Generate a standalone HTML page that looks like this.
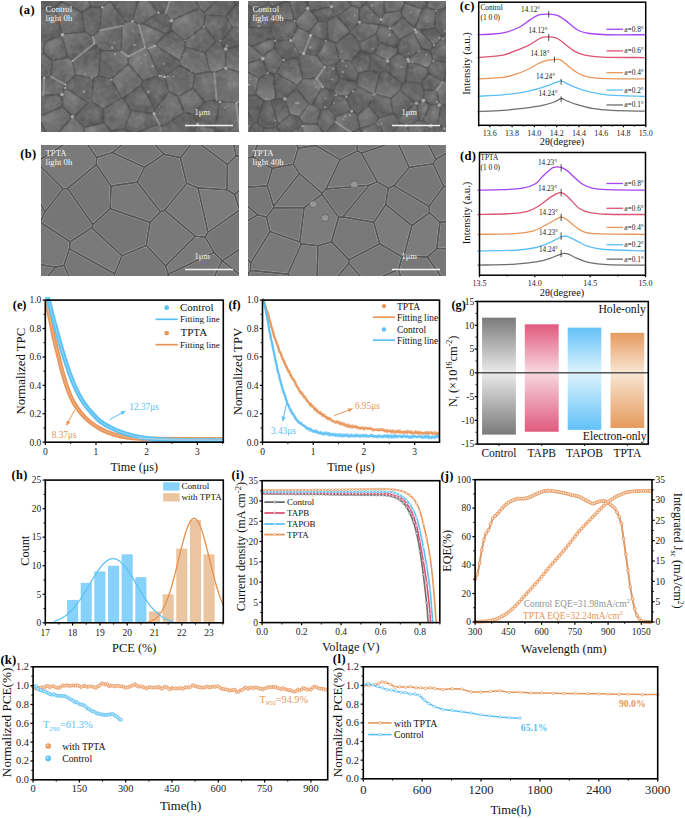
<!DOCTYPE html>
<html><head><meta charset="utf-8"><style>
html,body{margin:0;padding:0;background:#fff;width:685px;height:818px;overflow:hidden}
svg{display:block;font-family:"Liberation Serif", serif}
</style></head><body>
<svg width="685" height="818" viewBox="0 0 685 818">
<defs><filter id="semblura" x="-5%" y="-5%" width="110%" height="110%"><feGaussianBlur stdDeviation="0.75"/></filter>
<filter id="semblurb" x="-5%" y="-5%" width="110%" height="110%"><feGaussianBlur stdDeviation="0.5"/></filter>
<filter id="noise" x="0" y="0" width="100%" height="100%"><feTurbulence type="fractalNoise" baseFrequency="0.18" numOctaves="2" seed="4"/><feColorMatrix type="saturate" values="0"/></filter>
<radialGradient id="sg4" cx="0.35" cy="0.35" r="0.75"><stop offset="0" stop-color="#fff" stop-opacity="0.16"/><stop offset="0.6" stop-color="#fff" stop-opacity="0.02"/><stop offset="1" stop-color="#000" stop-opacity="0.16"/></radialGradient>
<radialGradient id="sg5" cx="0.6" cy="0.4" r="0.75"><stop offset="0" stop-color="#fff" stop-opacity="0.14"/><stop offset="0.6" stop-color="#fff" stop-opacity="0.0"/><stop offset="1" stop-color="#000" stop-opacity="0.16"/></radialGradient>
<linearGradient id="sg0" x1="0" y1="0" x2="1" y2="1"><stop offset="0" stop-color="#fff" stop-opacity="0.2"/><stop offset="0.6" stop-color="#fff" stop-opacity="0"/><stop offset="1" stop-color="#000" stop-opacity="0.1"/></linearGradient>
<linearGradient id="sg1" x1="1" y1="0" x2="0" y2="1"><stop offset="0" stop-color="#fff" stop-opacity="0.2"/><stop offset="0.6" stop-color="#fff" stop-opacity="0"/><stop offset="1" stop-color="#000" stop-opacity="0.1"/></linearGradient>
<linearGradient id="sg2" x1="0" y1="1" x2="1" y2="0"><stop offset="0" stop-color="#fff" stop-opacity="0.12"/><stop offset="0.6" stop-color="#fff" stop-opacity="0"/><stop offset="1" stop-color="#000" stop-opacity="0.1"/></linearGradient>
<linearGradient id="sg3" x1="0" y1="0" x2="0" y2="1"><stop offset="0" stop-color="#000" stop-opacity="0.1"/><stop offset="1" stop-color="#fff" stop-opacity="0.2"/></linearGradient>
<clipPath id="c11"><rect x="41" y="1" width="198" height="131"/></clipPath>
<clipPath id="c12"><rect x="248" y="1" width="198" height="131"/></clipPath>
<clipPath id="c13"><rect x="41" y="145" width="198" height="131"/></clipPath>
<clipPath id="c14"><rect x="248" y="145" width="198" height="131"/></clipPath>
<clipPath id="clipE"><rect x="45.3" y="297" width="178" height="146"/></clipPath>
<clipPath id="clipF"><rect x="262.5" y="297" width="177" height="146"/></clipPath>
<linearGradient id="gb0" gradientUnits="userSpaceOnUse" x1="0" y1="317.66" x2="0" y2="434.59"><stop offset="0" stop-color="#7a7a7a"/><stop offset="0.45" stop-color="#e6e6e6"/><stop offset="0.49" stop-color="#e6e6e6"/><stop offset="1" stop-color="#7a7a7a"/></linearGradient>
<linearGradient id="gb1" gradientUnits="userSpaceOnUse" x1="0" y1="324.32" x2="0" y2="431.74"><stop offset="0" stop-color="#e05a7e"/><stop offset="0.43" stop-color="#f7d3dd"/><stop offset="0.47" stop-color="#f7d3dd"/><stop offset="1" stop-color="#e05a7e"/></linearGradient>
<linearGradient id="gb2" gradientUnits="userSpaceOnUse" x1="0" y1="327.64" x2="0" y2="429.84"><stop offset="0" stop-color="#62c1f7"/><stop offset="0.42" stop-color="#d9f1fd"/><stop offset="0.46" stop-color="#d9f1fd"/><stop offset="1" stop-color="#62c1f7"/></linearGradient>
<linearGradient id="gb3" gradientUnits="userSpaceOnUse" x1="0" y1="332.87" x2="0" y2="427.94"><stop offset="0" stop-color="#e59a5e"/><stop offset="0.4" stop-color="#f8e3cf"/><stop offset="0.44" stop-color="#f8e3cf"/><stop offset="1" stop-color="#e59a5e"/></linearGradient>
<clipPath id="clipH"><rect x="45.3" y="480.1" width="178" height="142.7"/></clipPath></defs>
<g clip-path="url(#c11)"><g filter="url(#semblura)">
<rect x="35" y="-5" width="210" height="143" fill="rgb(89,89,89)"/>
<path d="M43.21,-65.23 L23.21,-23.46 L34.87,-10.24 L52.42,-21.08Z" fill="rgb(80,80,80)" stroke="rgb(70,70,70)" stroke-width="1.8" stroke-opacity="0.8" stroke-linejoin="round"/>
<path d="M43.21,-65.23 L23.21,-23.46 L34.87,-10.24 L52.42,-21.08Z" fill="url(#sg3)" stroke="none"/>
<path d="M141.22,-7.47 L144.09,-13.16 L109.58,-58.68 L103.54,-23.44 L111.79,-5.04 L140.01,-6.54Z" fill="rgb(91,91,91)" stroke="rgb(70,70,70)" stroke-width="1.8" stroke-opacity="0.8" stroke-linejoin="round"/>
<path d="M141.22,-7.47 L144.09,-13.16 L109.58,-58.68 L103.54,-23.44 L111.79,-5.04 L140.01,-6.54Z" fill="url(#sg4)" stroke="none"/>
<path d="M168.76,-40.13 L185.14,-6.5 L171.17,-3.36 L156.47,-17.89Z" fill="rgb(92,92,92)" stroke="rgb(70,70,70)" stroke-width="1.8" stroke-opacity="0.8" stroke-linejoin="round"/>
<path d="M168.76,-40.13 L185.14,-6.5 L171.17,-3.36 L156.47,-17.89Z" fill="url(#sg3)" stroke="none"/>
<path d="M168.76,-40.13 L175.97,-65.13 L200.19,-16.01 L194.47,-5.07 L185.14,-6.5Z" fill="rgb(87,87,87)" stroke="rgb(70,70,70)" stroke-width="1.8" stroke-opacity="0.8" stroke-linejoin="round"/>
<path d="M168.76,-40.13 L175.97,-65.13 L200.19,-16.01 L194.47,-5.07 L185.14,-6.5Z" fill="url(#sg5)" stroke="none"/>
<path d="M28.95,15.61 L-0.61,-9.91 L23.21,-23.46 L34.87,-10.24 L39.54,8.81Z" fill="rgb(90,90,90)" stroke="rgb(70,70,70)" stroke-width="1.8" stroke-opacity="0.8" stroke-linejoin="round"/>
<path d="M28.95,15.61 L-0.61,-9.91 L23.21,-23.46 L34.87,-10.24 L39.54,8.81Z" fill="url(#sg1)" stroke="none"/>
<path d="M61.91,2.24 L63.91,-4.72 L52.42,-21.08 L34.87,-10.24 L39.54,8.81 L54.93,8.12Z" fill="rgb(81,81,81)" stroke="rgb(70,70,70)" stroke-width="1.8" stroke-opacity="0.8" stroke-linejoin="round"/>
<path d="M61.91,2.24 L63.91,-4.72 L52.42,-21.08 L34.87,-10.24 L39.54,8.81 L54.93,8.12Z" fill="url(#sg4)" stroke="none"/>
<path d="M61.91,2.24 L63.91,-4.72 L72.51,-11.36 L86.06,-12.59 L90.42,6.83 L81.54,12.38Z" fill="rgb(95,95,95)" stroke="rgb(70,70,70)" stroke-width="1.8" stroke-opacity="0.8" stroke-linejoin="round"/>
<path d="M61.91,2.24 L63.91,-4.72 L72.51,-11.36 L86.06,-12.59 L90.42,6.83 L81.54,12.38Z" fill="url(#sg1)" stroke="none"/>
<path d="M110.2,1.61 L111.79,-5.04 L103.54,-23.44 L86.06,-12.59 L90.42,6.83 L102.26,7.28Z" fill="rgb(91,91,91)" stroke="rgb(70,70,70)" stroke-width="1.8" stroke-opacity="0.8" stroke-linejoin="round"/>
<path d="M110.2,1.61 L111.79,-5.04 L103.54,-23.44 L86.06,-12.59 L90.42,6.83 L102.26,7.28Z" fill="url(#sg0)" stroke="none"/>
<path d="M125.67,22.14 L110.2,1.61 L111.79,-5.04 L140.01,-6.54 L132.5,21.23Z" fill="rgb(83,83,83)" stroke="rgb(70,70,70)" stroke-width="1.8" stroke-opacity="0.8" stroke-linejoin="round"/>
<path d="M125.67,22.14 L110.2,1.61 L111.79,-5.04 L140.01,-6.54 L132.5,21.23Z" fill="url(#sg5)" stroke="none"/>
<path d="M156.47,-17.89 L144.09,-13.16 L141.22,-7.47 L158.44,12.66 L165.55,13.26 L171.17,-3.36Z" fill="rgb(81,81,81)" stroke="rgb(70,70,70)" stroke-width="1.8" stroke-opacity="0.8" stroke-linejoin="round"/>
<path d="M156.47,-17.89 L144.09,-13.16 L141.22,-7.47 L158.44,12.66 L165.55,13.26 L171.17,-3.36Z" fill="url(#sg4)" stroke="none"/>
<path d="M185.14,-6.5 L194.47,-5.07 L199.51,8.35 L171.19,20.68 L165.55,13.26 L171.17,-3.36Z" fill="rgb(93,93,93)" stroke="rgb(70,70,70)" stroke-width="1.8" stroke-opacity="0.8" stroke-linejoin="round"/>
<path d="M185.14,-6.5 L194.47,-5.07 L199.51,8.35 L171.19,20.68 L165.55,13.26 L171.17,-3.36Z" fill="url(#sg2)" stroke="none"/>
<path d="M229.2,-14.96 L221.28,-22.23 L200.19,-16.01 L194.47,-5.07 L199.51,8.35 L204.33,12.76 L229.14,-11.25Z" fill="rgb(89,89,89)" stroke="rgb(70,70,70)" stroke-width="1.8" stroke-opacity="0.8" stroke-linejoin="round"/>
<path d="M229.2,-14.96 L221.28,-22.23 L200.19,-16.01 L194.47,-5.07 L199.51,8.35 L204.33,12.76 L229.14,-11.25Z" fill="url(#sg2)" stroke="none"/>
<path d="M229.14,-11.25 L235.73,4.24 L225.93,16.62 L205.47,14.87 L204.33,12.76Z" fill="rgb(82,82,82)" stroke="rgb(70,70,70)" stroke-width="1.8" stroke-opacity="0.8" stroke-linejoin="round"/>
<path d="M229.14,-11.25 L235.73,4.24 L225.93,16.62 L205.47,14.87 L204.33,12.76Z" fill="url(#sg2)" stroke="none"/>
<path d="M229.2,-14.96 L253.21,-21.58 L256.58,-14.1 L257.48,9.7 L235.73,4.24 L229.14,-11.25Z" fill="rgb(87,87,87)" stroke="rgb(70,70,70)" stroke-width="1.8" stroke-opacity="0.8" stroke-linejoin="round"/>
<path d="M229.2,-14.96 L253.21,-21.58 L256.58,-14.1 L257.48,9.7 L235.73,4.24 L229.14,-11.25Z" fill="url(#sg1)" stroke="none"/>
<path d="M62.6,34.76 L54.93,8.12 L39.54,8.81 L28.95,15.61 L25.31,26.93 L44.97,42.24 L62.4,35.07Z" fill="rgb(84,84,84)" stroke="rgb(70,70,70)" stroke-width="1.8" stroke-opacity="0.8" stroke-linejoin="round"/>
<path d="M62.6,34.76 L54.93,8.12 L39.54,8.81 L28.95,15.61 L25.31,26.93 L44.97,42.24 L62.4,35.07Z" fill="url(#sg5)" stroke="none"/>
<path d="M62.6,34.76 L54.93,8.12 L61.91,2.24 L81.54,12.38 L85.46,32.19Z" fill="rgb(93,93,93)" stroke="rgb(70,70,70)" stroke-width="1.8" stroke-opacity="0.8" stroke-linejoin="round"/>
<path d="M62.6,34.76 L54.93,8.12 L61.91,2.24 L81.54,12.38 L85.46,32.19Z" fill="url(#sg4)" stroke="none"/>
<path d="M85.46,32.19 L81.54,12.38 L90.42,6.83 L102.26,7.28 L99.95,30.16 L92.8,36.75Z" fill="rgb(88,88,88)" stroke="rgb(70,70,70)" stroke-width="1.8" stroke-opacity="0.8" stroke-linejoin="round"/>
<path d="M85.46,32.19 L81.54,12.38 L90.42,6.83 L102.26,7.28 L99.95,30.16 L92.8,36.75Z" fill="url(#sg2)" stroke="none"/>
<path d="M122.35,25.71 L99.95,30.16 L102.26,7.28 L110.2,1.61 L125.67,22.14Z" fill="rgb(86,86,86)" stroke="rgb(70,70,70)" stroke-width="1.8" stroke-opacity="0.8" stroke-linejoin="round"/>
<path d="M122.35,25.71 L99.95,30.16 L102.26,7.28 L110.2,1.61 L125.67,22.14Z" fill="url(#sg0)" stroke="none"/>
<path d="M138.75,24.58 L142.54,23.41 L158.44,12.66 L141.22,-7.47 L140.01,-6.54 L132.5,21.23Z" fill="rgb(97,97,97)" stroke="rgb(70,70,70)" stroke-width="1.8" stroke-opacity="0.8" stroke-linejoin="round"/>
<path d="M138.75,24.58 L142.54,23.41 L158.44,12.66 L141.22,-7.47 L140.01,-6.54 L132.5,21.23Z" fill="url(#sg5)" stroke="none"/>
<path d="M171.19,20.68 L165.55,13.26 L158.44,12.66 L142.54,23.41 L165.68,33.91 L171.65,30.45Z" fill="rgb(87,87,87)" stroke="rgb(70,70,70)" stroke-width="1.8" stroke-opacity="0.8" stroke-linejoin="round"/>
<path d="M171.19,20.68 L165.55,13.26 L158.44,12.66 L142.54,23.41 L165.68,33.91 L171.65,30.45Z" fill="url(#sg2)" stroke="none"/>
<path d="M185.12,41.23 L171.65,30.45 L171.19,20.68 L199.51,8.35 L204.33,12.76 L205.47,14.87 L203.8,26.63Z" fill="rgb(95,95,95)" stroke="rgb(70,70,70)" stroke-width="1.8" stroke-opacity="0.8" stroke-linejoin="round"/>
<path d="M185.12,41.23 L171.65,30.45 L171.19,20.68 L199.51,8.35 L204.33,12.76 L205.47,14.87 L203.8,26.63Z" fill="url(#sg4)" stroke="none"/>
<path d="M215.67,40.99 L220.26,42.1 L233.1,27.31 L225.93,16.62 L205.47,14.87 L203.8,26.63Z" fill="rgb(80,80,80)" stroke="rgb(70,70,70)" stroke-width="1.8" stroke-opacity="0.8" stroke-linejoin="round"/>
<path d="M215.67,40.99 L220.26,42.1 L233.1,27.31 L225.93,16.62 L205.47,14.87 L203.8,26.63Z" fill="url(#sg4)" stroke="none"/>
<path d="M257.48,9.7 L235.73,4.24 L225.93,16.62 L233.1,27.31 L239.66,28.84 L256.47,17.67 L258.23,10.72Z" fill="rgb(85,85,85)" stroke="rgb(70,70,70)" stroke-width="1.8" stroke-opacity="0.8" stroke-linejoin="round"/>
<path d="M257.48,9.7 L235.73,4.24 L225.93,16.62 L233.1,27.31 L239.66,28.84 L256.47,17.67 L258.23,10.72Z" fill="url(#sg3)" stroke="none"/>
<path d="M43.53,53.84 L44.97,42.24 L25.31,26.93 L-0.8,46.67 L31.32,61.67Z" fill="rgb(95,95,95)" stroke="rgb(70,70,70)" stroke-width="1.8" stroke-opacity="0.8" stroke-linejoin="round"/>
<path d="M43.53,53.84 L44.97,42.24 L25.31,26.93 L-0.8,46.67 L31.32,61.67Z" fill="url(#sg3)" stroke="none"/>
<path d="M43.53,53.84 L44.97,42.24 L62.4,35.07 L68.1,58 L52.53,60.69Z" fill="rgb(91,91,91)" stroke="rgb(70,70,70)" stroke-width="1.8" stroke-opacity="0.8" stroke-linejoin="round"/>
<path d="M43.53,53.84 L44.97,42.24 L62.4,35.07 L68.1,58 L52.53,60.69Z" fill="url(#sg4)" stroke="none"/>
<path d="M72.52,61.06 L94.29,43.42 L92.8,36.75 L85.46,32.19 L62.6,34.76 L62.4,35.07 L68.1,58Z" fill="rgb(87,87,87)" stroke="rgb(70,70,70)" stroke-width="1.8" stroke-opacity="0.8" stroke-linejoin="round"/>
<path d="M72.52,61.06 L94.29,43.42 L92.8,36.75 L85.46,32.19 L62.6,34.76 L62.4,35.07 L68.1,58Z" fill="url(#sg0)" stroke="none"/>
<path d="M94.29,43.42 L101.22,50.78 L121.41,51.35 L122.35,25.71 L99.95,30.16 L92.8,36.75Z" fill="rgb(91,91,91)" stroke="rgb(70,70,70)" stroke-width="1.8" stroke-opacity="0.8" stroke-linejoin="round"/>
<path d="M94.29,43.42 L101.22,50.78 L121.41,51.35 L122.35,25.71 L99.95,30.16 L92.8,36.75Z" fill="url(#sg0)" stroke="none"/>
<path d="M121.41,51.35 L122.35,25.71 L125.67,22.14 L132.5,21.23 L138.75,24.58 L145.18,47.59 L128.3,56.3Z" fill="rgb(90,90,90)" stroke="rgb(70,70,70)" stroke-width="1.8" stroke-opacity="0.8" stroke-linejoin="round"/>
<path d="M121.41,51.35 L122.35,25.71 L125.67,22.14 L132.5,21.23 L138.75,24.58 L145.18,47.59 L128.3,56.3Z" fill="url(#sg0)" stroke="none"/>
<path d="M145.18,47.59 L147.99,48.32 L154.92,45.67 L165.68,33.91 L142.54,23.41 L138.75,24.58Z" fill="rgb(95,95,95)" stroke="rgb(70,70,70)" stroke-width="1.8" stroke-opacity="0.8" stroke-linejoin="round"/>
<path d="M145.18,47.59 L147.99,48.32 L154.92,45.67 L165.68,33.91 L142.54,23.41 L138.75,24.58Z" fill="url(#sg4)" stroke="none"/>
<path d="M185.12,41.23 L171.65,30.45 L165.68,33.91 L154.92,45.67 L180.08,60.76 L185.62,47.15Z" fill="rgb(95,95,95)" stroke="rgb(70,70,70)" stroke-width="1.8" stroke-opacity="0.8" stroke-linejoin="round"/>
<path d="M185.12,41.23 L171.65,30.45 L165.68,33.91 L154.92,45.67 L180.08,60.76 L185.62,47.15Z" fill="url(#sg3)" stroke="none"/>
<path d="M185.12,41.23 L203.8,26.63 L215.67,40.99 L205.44,52.77 L185.62,47.15Z" fill="rgb(91,91,91)" stroke="rgb(70,70,70)" stroke-width="1.8" stroke-opacity="0.8" stroke-linejoin="round"/>
<path d="M185.12,41.23 L203.8,26.63 L215.67,40.99 L205.44,52.77 L185.62,47.15Z" fill="url(#sg0)" stroke="none"/>
<path d="M220.26,42.1 L233.1,27.31 L239.66,28.84 L244.55,44.84 L225.73,49.02Z" fill="rgb(81,81,81)" stroke="rgb(70,70,70)" stroke-width="1.8" stroke-opacity="0.8" stroke-linejoin="round"/>
<path d="M220.26,42.1 L233.1,27.31 L239.66,28.84 L244.55,44.84 L225.73,49.02Z" fill="url(#sg1)" stroke="none"/>
<path d="M256.47,17.67 L267.12,42.68 L265,47.85 L254.4,51.69 L244.55,44.84 L239.66,28.84Z" fill="rgb(86,86,86)" stroke="rgb(70,70,70)" stroke-width="1.8" stroke-opacity="0.8" stroke-linejoin="round"/>
<path d="M256.47,17.67 L267.12,42.68 L265,47.85 L254.4,51.69 L244.55,44.84 L239.66,28.84Z" fill="url(#sg1)" stroke="none"/>
<path d="M33.5,75.08 L31.32,61.67 L-0.8,46.67 L-106.29,73.03 L21.72,87.59Z" fill="rgb(94,94,94)" stroke="rgb(70,70,70)" stroke-width="1.8" stroke-opacity="0.8" stroke-linejoin="round"/>
<path d="M33.5,75.08 L31.32,61.67 L-0.8,46.67 L-106.29,73.03 L21.72,87.59Z" fill="url(#sg5)" stroke="none"/>
<path d="M44.18,78.06 L50.98,76.58 L52.53,60.69 L43.53,53.84 L31.32,61.67 L33.5,75.08Z" fill="rgb(91,91,91)" stroke="rgb(70,70,70)" stroke-width="1.8" stroke-opacity="0.8" stroke-linejoin="round"/>
<path d="M44.18,78.06 L50.98,76.58 L52.53,60.69 L43.53,53.84 L31.32,61.67 L33.5,75.08Z" fill="url(#sg0)" stroke="none"/>
<path d="M52.53,60.69 L68.1,58 L72.52,61.06 L75.94,74.86 L65.47,84.71 L50.98,76.58Z" fill="rgb(93,93,93)" stroke="rgb(70,70,70)" stroke-width="1.8" stroke-opacity="0.8" stroke-linejoin="round"/>
<path d="M52.53,60.69 L68.1,58 L72.52,61.06 L75.94,74.86 L65.47,84.71 L50.98,76.58Z" fill="url(#sg1)" stroke="none"/>
<path d="M72.52,61.06 L75.94,74.86 L93.77,78.64 L98.4,76.2 L101.22,50.78 L94.29,43.42Z" fill="rgb(86,86,86)" stroke="rgb(70,70,70)" stroke-width="1.8" stroke-opacity="0.8" stroke-linejoin="round"/>
<path d="M72.52,61.06 L75.94,74.86 L93.77,78.64 L98.4,76.2 L101.22,50.78 L94.29,43.42Z" fill="url(#sg3)" stroke="none"/>
<path d="M121.41,51.35 L101.22,50.78 L98.4,76.2 L111.36,79.78 L128.27,64.26 L128.3,56.3Z" fill="rgb(88,88,88)" stroke="rgb(70,70,70)" stroke-width="1.8" stroke-opacity="0.8" stroke-linejoin="round"/>
<path d="M121.41,51.35 L101.22,50.78 L98.4,76.2 L111.36,79.78 L128.27,64.26 L128.3,56.3Z" fill="url(#sg1)" stroke="none"/>
<path d="M128.3,56.3 L128.27,64.26 L143.21,81.05 L159.5,75.68 L147.99,48.32 L145.18,47.59Z" fill="rgb(97,97,97)" stroke="rgb(70,70,70)" stroke-width="1.8" stroke-opacity="0.8" stroke-linejoin="round"/>
<path d="M128.3,56.3 L128.27,64.26 L143.21,81.05 L159.5,75.68 L147.99,48.32 L145.18,47.59Z" fill="url(#sg4)" stroke="none"/>
<path d="M179.85,65.39 L180.08,60.76 L154.92,45.67 L147.99,48.32 L159.5,75.68 L164.79,76.88Z" fill="rgb(83,83,83)" stroke="rgb(70,70,70)" stroke-width="1.8" stroke-opacity="0.8" stroke-linejoin="round"/>
<path d="M179.85,65.39 L180.08,60.76 L154.92,45.67 L147.99,48.32 L159.5,75.68 L164.79,76.88Z" fill="url(#sg0)" stroke="none"/>
<path d="M195.23,74.37 L210.51,71.63 L205.44,52.77 L185.62,47.15 L180.08,60.76 L179.85,65.39Z" fill="rgb(97,97,97)" stroke="rgb(70,70,70)" stroke-width="1.8" stroke-opacity="0.8" stroke-linejoin="round"/>
<path d="M195.23,74.37 L210.51,71.63 L205.44,52.77 L185.62,47.15 L180.08,60.76 L179.85,65.39Z" fill="url(#sg2)" stroke="none"/>
<path d="M205.44,52.77 L210.51,71.63 L214.22,72.88 L225.84,68.18 L225.73,49.02 L220.26,42.1 L215.67,40.99Z" fill="rgb(95,95,95)" stroke="rgb(70,70,70)" stroke-width="1.8" stroke-opacity="0.8" stroke-linejoin="round"/>
<path d="M205.44,52.77 L210.51,71.63 L214.22,72.88 L225.84,68.18 L225.73,49.02 L220.26,42.1 L215.67,40.99Z" fill="url(#sg3)" stroke="none"/>
<path d="M225.84,68.18 L243.41,73.43 L254.4,51.69 L244.55,44.84 L225.73,49.02Z" fill="rgb(94,94,94)" stroke="rgb(70,70,70)" stroke-width="1.8" stroke-opacity="0.8" stroke-linejoin="round"/>
<path d="M225.84,68.18 L243.41,73.43 L254.4,51.69 L244.55,44.84 L225.73,49.02Z" fill="url(#sg3)" stroke="none"/>
<path d="M270.76,80.42 L278.06,62.82 L265,47.85 L254.4,51.69 L243.41,73.43 L247.36,81.01Z" fill="rgb(89,89,89)" stroke="rgb(70,70,70)" stroke-width="1.8" stroke-opacity="0.8" stroke-linejoin="round"/>
<path d="M270.76,80.42 L278.06,62.82 L265,47.85 L254.4,51.69 L243.41,73.43 L247.36,81.01Z" fill="url(#sg1)" stroke="none"/>
<path d="M44.18,78.06 L43.03,95.73 L33.41,102.82 L21.72,87.59 L33.5,75.08Z" fill="rgb(90,90,90)" stroke="rgb(70,70,70)" stroke-width="1.8" stroke-opacity="0.8" stroke-linejoin="round"/>
<path d="M44.18,78.06 L43.03,95.73 L33.41,102.82 L21.72,87.59 L33.5,75.08Z" fill="url(#sg0)" stroke="none"/>
<path d="M44.18,78.06 L50.98,76.58 L65.47,84.71 L65.12,87.86 L61.89,94.45 L43.03,95.73Z" fill="rgb(93,93,93)" stroke="rgb(70,70,70)" stroke-width="1.8" stroke-opacity="0.8" stroke-linejoin="round"/>
<path d="M44.18,78.06 L50.98,76.58 L65.47,84.71 L65.12,87.86 L61.89,94.45 L43.03,95.73Z" fill="url(#sg2)" stroke="none"/>
<path d="M65.47,84.71 L75.94,74.86 L93.77,78.64 L91.97,101.64 L88.24,102.88 L65.12,87.86Z" fill="rgb(89,89,89)" stroke="rgb(70,70,70)" stroke-width="1.8" stroke-opacity="0.8" stroke-linejoin="round"/>
<path d="M65.47,84.71 L75.94,74.86 L93.77,78.64 L91.97,101.64 L88.24,102.88 L65.12,87.86Z" fill="url(#sg2)" stroke="none"/>
<path d="M98.4,76.2 L111.36,79.78 L121.86,97.79 L103.53,109.19 L91.97,101.64 L93.77,78.64Z" fill="rgb(90,90,90)" stroke="rgb(70,70,70)" stroke-width="1.8" stroke-opacity="0.8" stroke-linejoin="round"/>
<path d="M98.4,76.2 L111.36,79.78 L121.86,97.79 L103.53,109.19 L91.97,101.64 L93.77,78.64Z" fill="url(#sg2)" stroke="none"/>
<path d="M140.97,85.6 L143.21,81.05 L128.27,64.26 L111.36,79.78 L121.86,97.79 L123.75,98.26Z" fill="rgb(97,97,97)" stroke="rgb(70,70,70)" stroke-width="1.8" stroke-opacity="0.8" stroke-linejoin="round"/>
<path d="M140.97,85.6 L143.21,81.05 L128.27,64.26 L111.36,79.78 L121.86,97.79 L123.75,98.26Z" fill="url(#sg0)" stroke="none"/>
<path d="M169.27,91.48 L154.99,109.23 L140.97,85.6 L143.21,81.05 L159.5,75.68 L164.79,76.88Z" fill="rgb(81,81,81)" stroke="rgb(70,70,70)" stroke-width="1.8" stroke-opacity="0.8" stroke-linejoin="round"/>
<path d="M169.27,91.48 L154.99,109.23 L140.97,85.6 L143.21,81.05 L159.5,75.68 L164.79,76.88Z" fill="url(#sg5)" stroke="none"/>
<path d="M192.96,88.52 L178.34,96.64 L169.27,91.48 L164.79,76.88 L179.85,65.39 L195.23,74.37Z" fill="rgb(91,91,91)" stroke="rgb(70,70,70)" stroke-width="1.8" stroke-opacity="0.8" stroke-linejoin="round"/>
<path d="M192.96,88.52 L178.34,96.64 L169.27,91.48 L164.79,76.88 L179.85,65.39 L195.23,74.37Z" fill="url(#sg2)" stroke="none"/>
<path d="M192.96,88.52 L204.89,101.9 L216.54,99.75 L214.22,72.88 L210.51,71.63 L195.23,74.37Z" fill="rgb(94,94,94)" stroke="rgb(70,70,70)" stroke-width="1.8" stroke-opacity="0.8" stroke-linejoin="round"/>
<path d="M192.96,88.52 L204.89,101.9 L216.54,99.75 L214.22,72.88 L210.51,71.63 L195.23,74.37Z" fill="url(#sg5)" stroke="none"/>
<path d="M214.22,72.88 L216.54,99.75 L220.02,101.97 L236.52,102.93 L243.18,97.86 L244.66,93.14 L247.36,81.01 L243.41,73.43 L225.84,68.18Z" fill="rgb(97,97,97)" stroke="rgb(70,70,70)" stroke-width="1.8" stroke-opacity="0.8" stroke-linejoin="round"/>
<path d="M214.22,72.88 L216.54,99.75 L220.02,101.97 L236.52,102.93 L243.18,97.86 L244.66,93.14 L247.36,81.01 L243.41,73.43 L225.84,68.18Z" fill="url(#sg5)" stroke="none"/>
<path d="M270.76,80.42 L247.36,81.01 L244.66,93.14 L284.07,97.94Z" fill="rgb(81,81,81)" stroke="rgb(70,70,70)" stroke-width="1.8" stroke-opacity="0.8" stroke-linejoin="round"/>
<path d="M270.76,80.42 L247.36,81.01 L244.66,93.14 L284.07,97.94Z" fill="url(#sg4)" stroke="none"/>
<path d="M21.72,87.59 L-106.29,73.03 L-287.03,93.86 L10.83,123.76 L33.79,114.08 L33.41,102.82Z" fill="rgb(90,90,90)" stroke="rgb(70,70,70)" stroke-width="1.8" stroke-opacity="0.8" stroke-linejoin="round"/>
<path d="M21.72,87.59 L-106.29,73.03 L-287.03,93.86 L10.83,123.76 L33.79,114.08 L33.41,102.82Z" fill="url(#sg5)" stroke="none"/>
<path d="M43.03,95.73 L61.89,94.45 L62.65,106.65 L38.34,117.05 L33.79,114.08 L33.41,102.82Z" fill="rgb(89,89,89)" stroke="rgb(70,70,70)" stroke-width="1.8" stroke-opacity="0.8" stroke-linejoin="round"/>
<path d="M43.03,95.73 L61.89,94.45 L62.65,106.65 L38.34,117.05 L33.79,114.08 L33.41,102.82Z" fill="url(#sg5)" stroke="none"/>
<path d="M61.89,94.45 L65.12,87.86 L88.24,102.88 L73.51,116.76 L72.36,116.68 L62.65,106.65Z" fill="rgb(92,92,92)" stroke="rgb(70,70,70)" stroke-width="1.8" stroke-opacity="0.8" stroke-linejoin="round"/>
<path d="M61.89,94.45 L65.12,87.86 L88.24,102.88 L73.51,116.76 L72.36,116.68 L62.65,106.65Z" fill="url(#sg4)" stroke="none"/>
<path d="M103.53,109.19 L103.81,122.83 L84.41,127.67 L73.51,116.76 L88.24,102.88 L91.97,101.64Z" fill="rgb(81,81,81)" stroke="rgb(70,70,70)" stroke-width="1.8" stroke-opacity="0.8" stroke-linejoin="round"/>
<path d="M103.53,109.19 L103.81,122.83 L84.41,127.67 L73.51,116.76 L88.24,102.88 L91.97,101.64Z" fill="url(#sg5)" stroke="none"/>
<path d="M123.75,98.26 L121.86,97.79 L103.53,109.19 L103.81,122.83 L110.74,131.12 L125.01,128.77 L131.45,110.66Z" fill="rgb(91,91,91)" stroke="rgb(70,70,70)" stroke-width="1.8" stroke-opacity="0.8" stroke-linejoin="round"/>
<path d="M123.75,98.26 L121.86,97.79 L103.53,109.19 L103.81,122.83 L110.74,131.12 L125.01,128.77 L131.45,110.66Z" fill="url(#sg5)" stroke="none"/>
<path d="M140.97,85.6 L154.99,109.23 L154.02,113.76 L131.45,110.66 L123.75,98.26Z" fill="rgb(86,86,86)" stroke="rgb(70,70,70)" stroke-width="1.8" stroke-opacity="0.8" stroke-linejoin="round"/>
<path d="M140.97,85.6 L154.99,109.23 L154.02,113.76 L131.45,110.66 L123.75,98.26Z" fill="url(#sg5)" stroke="none"/>
<path d="M178.34,96.64 L184.47,112.3 L162.53,127.02 L159.38,124.38 L154.02,113.76 L154.99,109.23 L169.27,91.48Z" fill="rgb(91,91,91)" stroke="rgb(70,70,70)" stroke-width="1.8" stroke-opacity="0.8" stroke-linejoin="round"/>
<path d="M178.34,96.64 L184.47,112.3 L162.53,127.02 L159.38,124.38 L154.02,113.76 L154.99,109.23 L169.27,91.48Z" fill="url(#sg5)" stroke="none"/>
<path d="M192.96,88.52 L204.89,101.9 L192.95,114.39 L184.47,112.3 L178.34,96.64Z" fill="rgb(93,93,93)" stroke="rgb(70,70,70)" stroke-width="1.8" stroke-opacity="0.8" stroke-linejoin="round"/>
<path d="M192.96,88.52 L204.89,101.9 L192.95,114.39 L184.47,112.3 L178.34,96.64Z" fill="url(#sg4)" stroke="none"/>
<path d="M192.95,114.39 L197.66,124.16 L214.76,128.55 L220.02,101.97 L216.54,99.75 L204.89,101.9Z" fill="rgb(81,81,81)" stroke="rgb(70,70,70)" stroke-width="1.8" stroke-opacity="0.8" stroke-linejoin="round"/>
<path d="M192.95,114.39 L197.66,124.16 L214.76,128.55 L220.02,101.97 L216.54,99.75 L204.89,101.9Z" fill="url(#sg5)" stroke="none"/>
<path d="M236.52,102.93 L239.26,129.55 L265.46,112.2 L243.18,97.86Z" fill="rgb(84,84,84)" stroke="rgb(70,70,70)" stroke-width="1.8" stroke-opacity="0.8" stroke-linejoin="round"/>
<path d="M236.52,102.93 L239.26,129.55 L265.46,112.2 L243.18,97.86Z" fill="url(#sg3)" stroke="none"/>
<path d="M284.07,97.94 L292.78,107.77 L277.06,115.22 L265.46,112.2 L243.18,97.86 L244.66,93.14Z" fill="rgb(94,94,94)" stroke="rgb(70,70,70)" stroke-width="1.8" stroke-opacity="0.8" stroke-linejoin="round"/>
<path d="M284.07,97.94 L292.78,107.77 L277.06,115.22 L265.46,112.2 L243.18,97.86 L244.66,93.14Z" fill="url(#sg2)" stroke="none"/>
<path d="M33.79,114.08 L10.83,123.76 L25.88,145.48 L45.81,143.82 L50.16,139.27 L38.34,117.05Z" fill="rgb(87,87,87)" stroke="rgb(70,70,70)" stroke-width="1.8" stroke-opacity="0.8" stroke-linejoin="round"/>
<path d="M33.79,114.08 L10.83,123.76 L25.88,145.48 L45.81,143.82 L50.16,139.27 L38.34,117.05Z" fill="url(#sg2)" stroke="none"/>
<path d="M38.34,117.05 L50.16,139.27 L53.37,139.22 L72.36,116.68 L62.65,106.65Z" fill="rgb(92,92,92)" stroke="rgb(70,70,70)" stroke-width="1.8" stroke-opacity="0.8" stroke-linejoin="round"/>
<path d="M38.34,117.05 L50.16,139.27 L53.37,139.22 L72.36,116.68 L62.65,106.65Z" fill="url(#sg4)" stroke="none"/>
<path d="M84.41,127.67 L81.62,147.75 L76.09,152.51 L53.37,139.22 L72.36,116.68 L73.51,116.76Z" fill="rgb(97,97,97)" stroke="rgb(70,70,70)" stroke-width="1.8" stroke-opacity="0.8" stroke-linejoin="round"/>
<path d="M84.41,127.67 L81.62,147.75 L76.09,152.51 L53.37,139.22 L72.36,116.68 L73.51,116.76Z" fill="url(#sg5)" stroke="none"/>
<path d="M103.81,122.83 L110.74,131.12 L106.42,146.49 L81.62,147.75 L84.41,127.67Z" fill="rgb(96,96,96)" stroke="rgb(70,70,70)" stroke-width="1.8" stroke-opacity="0.8" stroke-linejoin="round"/>
<path d="M103.81,122.83 L110.74,131.12 L106.42,146.49 L81.62,147.75 L84.41,127.67Z" fill="url(#sg4)" stroke="none"/>
<path d="M131.45,110.66 L125.01,128.77 L131.72,134.04 L159.38,124.38 L154.02,113.76Z" fill="rgb(86,86,86)" stroke="rgb(70,70,70)" stroke-width="1.8" stroke-opacity="0.8" stroke-linejoin="round"/>
<path d="M131.45,110.66 L125.01,128.77 L131.72,134.04 L159.38,124.38 L154.02,113.76Z" fill="url(#sg4)" stroke="none"/>
<path d="M131.72,134.04 L134.83,146.99 L147.23,152.76 L164.85,135.44 L162.53,127.02 L159.38,124.38Z" fill="rgb(80,80,80)" stroke="rgb(70,70,70)" stroke-width="1.8" stroke-opacity="0.8" stroke-linejoin="round"/>
<path d="M131.72,134.04 L134.83,146.99 L147.23,152.76 L164.85,135.44 L162.53,127.02 L159.38,124.38Z" fill="url(#sg1)" stroke="none"/>
<path d="M184.47,112.3 L162.53,127.02 L164.85,135.44 L166.22,136.51 L191.32,136.54 L197.66,124.16 L192.95,114.39Z" fill="rgb(84,84,84)" stroke="rgb(70,70,70)" stroke-width="1.8" stroke-opacity="0.8" stroke-linejoin="round"/>
<path d="M184.47,112.3 L162.53,127.02 L164.85,135.44 L166.22,136.51 L191.32,136.54 L197.66,124.16 L192.95,114.39Z" fill="url(#sg2)" stroke="none"/>
<path d="M214.76,128.55 L197.66,124.16 L191.32,136.54 L202.31,160.21 L216.23,130.37Z" fill="rgb(93,93,93)" stroke="rgb(70,70,70)" stroke-width="1.8" stroke-opacity="0.8" stroke-linejoin="round"/>
<path d="M214.76,128.55 L197.66,124.16 L191.32,136.54 L202.31,160.21 L216.23,130.37Z" fill="url(#sg5)" stroke="none"/>
<path d="M214.76,128.55 L220.02,101.97 L236.52,102.93 L239.26,129.55 L238.22,135.32 L216.23,130.37Z" fill="rgb(88,88,88)" stroke="rgb(70,70,70)" stroke-width="1.8" stroke-opacity="0.8" stroke-linejoin="round"/>
<path d="M214.76,128.55 L220.02,101.97 L236.52,102.93 L239.26,129.55 L238.22,135.32 L216.23,130.37Z" fill="url(#sg1)" stroke="none"/>
<path d="M244.64,139.3 L239.66,137.88 L238.22,135.32 L239.26,129.55 L265.46,112.2 L277.06,115.22 L268.45,132.27Z" fill="rgb(90,90,90)" stroke="rgb(70,70,70)" stroke-width="1.8" stroke-opacity="0.8" stroke-linejoin="round"/>
<path d="M244.64,139.3 L239.66,137.88 L238.22,135.32 L239.26,129.55 L265.46,112.2 L277.06,115.22 L268.45,132.27Z" fill="url(#sg0)" stroke="none"/>
<path d="M125.01,128.77 L110.74,131.12 L106.42,146.49 L114.7,161.41 L134.83,146.99 L131.72,134.04Z" fill="rgb(90,90,90)" stroke="rgb(70,70,70)" stroke-width="1.8" stroke-opacity="0.8" stroke-linejoin="round"/>
<path d="M125.01,128.77 L110.74,131.12 L106.42,146.49 L114.7,161.41 L134.83,146.99 L131.72,134.04Z" fill="url(#sg2)" stroke="none"/>
<path d="M202.66,215.85 L166.22,136.51 L164.85,135.44 L147.23,152.76 L195.87,524.62Z" fill="rgb(95,95,95)" stroke="rgb(70,70,70)" stroke-width="1.8" stroke-opacity="0.8" stroke-linejoin="round"/>
<path d="M202.66,215.85 L166.22,136.51 L164.85,135.44 L147.23,152.76 L195.87,524.62Z" fill="url(#sg4)" stroke="none"/>
<path d="M202.66,215.85 L203.8,210 L202.31,160.21 L191.32,136.54 L166.22,136.51Z" fill="rgb(86,86,86)" stroke="rgb(70,70,70)" stroke-width="1.8" stroke-opacity="0.8" stroke-linejoin="round"/>
<path d="M202.66,215.85 L203.8,210 L202.31,160.21 L191.32,136.54 L166.22,136.51Z" fill="url(#sg0)" stroke="none"/>
<path d="M216.23,130.37 L238.22,135.32 L239.66,137.88 L203.8,210 L202.31,160.21Z" fill="rgb(94,94,94)" stroke="rgb(70,70,70)" stroke-width="1.8" stroke-opacity="0.8" stroke-linejoin="round"/>
<path d="M216.23,130.37 L238.22,135.32 L239.66,137.88 L203.8,210 L202.31,160.21Z" fill="url(#sg3)" stroke="none"/>
<path d="M244.64,139.3 L301.14,213.16 L268.45,132.27Z" fill="rgb(87,87,87)" stroke="rgb(70,70,70)" stroke-width="1.8" stroke-opacity="0.8" stroke-linejoin="round"/>
<path d="M244.64,139.3 L301.14,213.16 L268.45,132.27Z" fill="url(#sg3)" stroke="none"/>
<line x1="28.95" y1="15.61" x2="-0.61" y2="-9.91" stroke="rgb(185,185,185)" stroke-width="2.0" stroke-linecap="round" opacity="0.55"/>
<line x1="165.55" y1="13.26" x2="171.17" y2="-3.36" stroke="rgb(185,185,185)" stroke-width="2.0" stroke-linecap="round" opacity="0.55"/>
<line x1="171.17" y1="-3.36" x2="185.14" y2="-6.5" stroke="rgb(185,185,185)" stroke-width="2.0" stroke-linecap="round" opacity="0.55"/>
<line x1="122.35" y1="25.71" x2="99.95" y2="30.16" stroke="rgb(185,185,185)" stroke-width="2.0" stroke-linecap="round" opacity="0.55"/>
<line x1="25.31" y1="26.93" x2="-0.8" y2="46.67" stroke="rgb(185,185,185)" stroke-width="2.0" stroke-linecap="round" opacity="0.55"/>
<line x1="72.52" y1="61.06" x2="94.29" y2="43.42" stroke="rgb(185,185,185)" stroke-width="2.0" stroke-linecap="round" opacity="0.55"/>
<line x1="94.29" y1="43.42" x2="92.8" y2="36.75" stroke="rgb(185,185,185)" stroke-width="2.0" stroke-linecap="round" opacity="0.55"/>
<line x1="128.3" y1="56.3" x2="121.41" y2="51.35" stroke="rgb(185,185,185)" stroke-width="2.0" stroke-linecap="round" opacity="0.55"/>
<line x1="138.75" y1="24.58" x2="145.18" y2="47.59" stroke="rgb(185,185,185)" stroke-width="2.0" stroke-linecap="round" opacity="0.55"/>
<line x1="254.4" y1="51.69" x2="244.55" y2="44.84" stroke="rgb(185,185,185)" stroke-width="2.0" stroke-linecap="round" opacity="0.55"/>
<line x1="31.32" y1="61.67" x2="-0.8" y2="46.67" stroke="rgb(185,185,185)" stroke-width="2.0" stroke-linecap="round" opacity="0.55"/>
<line x1="65.47" y1="84.71" x2="50.98" y2="76.58" stroke="rgb(185,185,185)" stroke-width="2.0" stroke-linecap="round" opacity="0.55"/>
<line x1="145.18" y1="47.59" x2="128.3" y2="56.3" stroke="rgb(185,185,185)" stroke-width="2.0" stroke-linecap="round" opacity="0.55"/>
<line x1="154.92" y1="45.67" x2="147.99" y2="48.32" stroke="rgb(185,185,185)" stroke-width="2.0" stroke-linecap="round" opacity="0.55"/>
<line x1="44.18" y1="78.06" x2="43.03" y2="95.73" stroke="rgb(185,185,185)" stroke-width="2.0" stroke-linecap="round" opacity="0.55"/>
<line x1="159.5" y1="75.68" x2="164.79" y2="76.88" stroke="rgb(185,185,185)" stroke-width="2.0" stroke-linecap="round" opacity="0.55"/>
<line x1="214.22" y1="72.88" x2="216.54" y2="99.75" stroke="rgb(185,185,185)" stroke-width="2.0" stroke-linecap="round" opacity="0.55"/>
<line x1="38.34" y1="117.05" x2="33.79" y2="114.08" stroke="rgb(185,185,185)" stroke-width="2.0" stroke-linecap="round" opacity="0.55"/>
<line x1="159.38" y1="124.38" x2="154.02" y2="113.76" stroke="rgb(185,185,185)" stroke-width="2.0" stroke-linecap="round" opacity="0.55"/>
<line x1="243.18" y1="97.86" x2="236.52" y2="102.93" stroke="rgb(185,185,185)" stroke-width="2.0" stroke-linecap="round" opacity="0.55"/>
<line x1="166.22" y1="136.51" x2="191.32" y2="136.54" stroke="rgb(185,185,185)" stroke-width="2.0" stroke-linecap="round" opacity="0.55"/>
<line x1="236.52" y1="102.93" x2="239.26" y2="129.55" stroke="rgb(185,185,185)" stroke-width="2.0" stroke-linecap="round" opacity="0.55"/>
<line x1="202.66" y1="215.85" x2="203.8" y2="210" stroke="rgb(185,185,185)" stroke-width="2.0" stroke-linecap="round" opacity="0.55"/>
<line x1="301.14" y1="213.16" x2="268.45" y2="132.27" stroke="rgb(185,185,185)" stroke-width="2.0" stroke-linecap="round" opacity="0.55"/>
<circle cx="220.02" cy="101.97" r="1.3" fill="rgb(185,185,185)" opacity="0.8"/>
<circle cx="72.36" cy="116.68" r="1.63" fill="rgb(185,185,185)" opacity="0.8"/>
<circle cx="197.66" cy="124.16" r="1.64" fill="rgb(185,185,185)" opacity="0.8"/>
<circle cx="159.5" cy="75.68" r="0.92" fill="rgb(185,185,185)" opacity="0.8"/>
<circle cx="154.92" cy="45.67" r="0.97" fill="rgb(185,185,185)" opacity="0.8"/>
<circle cx="158.44" cy="12.66" r="1.17" fill="rgb(185,185,185)" opacity="0.8"/>
<circle cx="171.19" cy="20.68" r="1.66" fill="rgb(185,185,185)" opacity="0.8"/>
<circle cx="111.36" cy="79.78" r="1.04" fill="rgb(185,185,185)" opacity="0.8"/>
<circle cx="102.26" cy="7.28" r="1.27" fill="rgb(185,185,185)" opacity="0.8"/>
<circle cx="132.5" cy="21.23" r="1.24" fill="rgb(185,185,185)" opacity="0.8"/>
<circle cx="225.73" cy="49.02" r="1.77" fill="rgb(185,185,185)" opacity="0.8"/>
<circle cx="225.84" cy="68.18" r="1.56" fill="rgb(185,185,185)" opacity="0.8"/>
<circle cx="65.12" cy="87.86" r="1.19" fill="rgb(185,185,185)" opacity="0.8"/>
<circle cx="65.47" cy="84.71" r="0.93" fill="rgb(185,185,185)" opacity="0.8"/>
<circle cx="62.6" cy="34.76" r="1.85" fill="rgb(185,185,185)" opacity="0.8"/>
<circle cx="72.52" cy="61.06" r="0.92" fill="rgb(185,185,185)" opacity="0.8"/>
<circle cx="203.8" cy="26.63" r="0.92" fill="rgb(185,185,185)" opacity="0.8"/>
<circle cx="154.02" cy="113.76" r="1.49" fill="rgb(185,185,185)" opacity="0.8"/>
<circle cx="164.79" cy="76.88" r="1.21" fill="rgb(185,185,185)" opacity="0.8"/>
<circle cx="61.89" cy="94.45" r="1.72" fill="rgb(185,185,185)" opacity="0.8"/>
<circle cx="44.18" cy="78.06" r="1.21" fill="rgb(185,185,185)" opacity="0.8"/>
</g>
<circle cx="185.15" cy="40.54" r="0.82" fill="rgb(165,165,165)" opacity="0.7"/>
<circle cx="226.92" cy="45.74" r="1.09" fill="rgb(165,165,165)" opacity="0.7"/>
<circle cx="114.47" cy="42.57" r="0.89" fill="rgb(165,165,165)" opacity="0.7"/>
<circle cx="148.39" cy="91.84" r="1.3" fill="rgb(165,165,165)" opacity="0.7"/>
<circle cx="191.68" cy="71.02" r="0.68" fill="rgb(165,165,165)" opacity="0.7"/>
<circle cx="167.71" cy="76.36" r="1.04" fill="rgb(165,165,165)" opacity="0.7"/>
<circle cx="152.45" cy="65.71" r="1.18" fill="rgb(165,165,165)" opacity="0.7"/>
<circle cx="51.73" cy="16.11" r="1.04" fill="rgb(165,165,165)" opacity="0.7"/>
<circle cx="163.76" cy="63.84" r="1.01" fill="rgb(165,165,165)" opacity="0.7"/>
<circle cx="141.28" cy="63.49" r="0.84" fill="rgb(165,165,165)" opacity="0.7"/>
<circle cx="85.29" cy="73.66" r="0.95" fill="rgb(165,165,165)" opacity="0.7"/>
<circle cx="173.89" cy="76.34" r="0.93" fill="rgb(165,165,165)" opacity="0.7"/>
<circle cx="182.64" cy="55.52" r="0.69" fill="rgb(165,165,165)" opacity="0.7"/>
<circle cx="115" cy="54.08" r="1.16" fill="rgb(165,165,165)" opacity="0.7"/>
<circle cx="91.58" cy="77.72" r="1.18" fill="rgb(165,165,165)" opacity="0.7"/>
<circle cx="84.04" cy="91.43" r="1.2" fill="rgb(165,165,165)" opacity="0.7"/>
<circle cx="112.21" cy="47.85" r="1.29" fill="rgb(165,165,165)" opacity="0.7"/>
<circle cx="134.53" cy="45.05" r="1.19" fill="rgb(165,165,165)" opacity="0.7"/>
<circle cx="145.27" cy="54.85" r="0.9" fill="rgb(165,165,165)" opacity="0.7"/>
<circle cx="227.92" cy="106.03" r="0.9" fill="rgb(165,165,165)" opacity="0.7"/>
<circle cx="220.51" cy="41.11" r="1" fill="rgb(165,165,165)" opacity="0.7"/>
<circle cx="132.61" cy="31.01" r="0.8" fill="rgb(165,165,165)" opacity="0.7"/>
<circle cx="159.95" cy="113.47" r="0.81" fill="rgb(165,165,165)" opacity="0.7"/>
<circle cx="225.28" cy="107.46" r="1.08" fill="rgb(165,165,165)" opacity="0.7"/>
<circle cx="159.46" cy="106.92" r="0.61" fill="rgb(165,165,165)" opacity="0.7"/>
<rect x="41" y="1" width="198" height="131" fill="#808080" filter="url(#noise)" opacity="0.26"/>
</g>
<text x="45.5" y="12" font-size="8.7" text-anchor="start" fill="#f6f6f6">Control</text>
<text x="45.5" y="21" font-size="8.7" text-anchor="start" fill="#f6f6f6">light 0h</text>
<line x1="185" y1="125.5" x2="233" y2="125.5" stroke="#f2f2f2" stroke-width="1.3"/>
<text x="202.2" y="115.2" font-size="8.6" text-anchor="middle" fill="#f2f2f2">1μm</text>
<g clip-path="url(#c12)"><g filter="url(#semblura)">
<rect x="242" y="-5" width="210" height="143" fill="rgb(89,89,89)"/>
<path d="M234.29,-9.27 L-610.19,-5328.95 L265.22,-47.7 L248.96,-7.91 L245.25,-6.05Z" fill="rgb(92,92,92)" stroke="rgb(70,70,70)" stroke-width="1.8" stroke-opacity="0.8" stroke-linejoin="round"/>
<path d="M234.29,-9.27 L-610.19,-5328.95 L265.22,-47.7 L248.96,-7.91 L245.25,-6.05Z" fill="url(#sg0)" stroke="none"/>
<path d="M268.03,-0.73 L275.75,-23.02 L265.22,-47.7 L248.96,-7.91Z" fill="rgb(95,95,95)" stroke="rgb(70,70,70)" stroke-width="1.8" stroke-opacity="0.8" stroke-linejoin="round"/>
<path d="M268.03,-0.73 L275.75,-23.02 L265.22,-47.7 L248.96,-7.91Z" fill="url(#sg2)" stroke="none"/>
<path d="M339.48,-11.88 L341.6,-27.81 L340.94,-44.24 L308.28,-8.2 L330.45,-4.11Z" fill="rgb(83,83,83)" stroke="rgb(70,70,70)" stroke-width="1.8" stroke-opacity="0.8" stroke-linejoin="round"/>
<path d="M339.48,-11.88 L341.6,-27.81 L340.94,-44.24 L308.28,-8.2 L330.45,-4.11Z" fill="url(#sg0)" stroke="none"/>
<path d="M339.48,-11.88 L341.6,-27.81 L367.03,-8.75 L346.05,-6.85Z" fill="rgb(86,86,86)" stroke="rgb(70,70,70)" stroke-width="1.8" stroke-opacity="0.8" stroke-linejoin="round"/>
<path d="M339.48,-11.88 L341.6,-27.81 L367.03,-8.75 L346.05,-6.85Z" fill="url(#sg4)" stroke="none"/>
<path d="M341.6,-27.81 L367.03,-8.75 L371.02,-7.96 L374.44,-10.21 L371.6,-148.01 L364.83,-207.05 L340.94,-44.24Z" fill="rgb(89,89,89)" stroke="rgb(70,70,70)" stroke-width="1.8" stroke-opacity="0.8" stroke-linejoin="round"/>
<path d="M341.6,-27.81 L367.03,-8.75 L371.02,-7.96 L374.44,-10.21 L371.6,-148.01 L364.83,-207.05 L340.94,-44.24Z" fill="url(#sg3)" stroke="none"/>
<path d="M228.14,-4.22 L237.06,11.28 L245.97,2.71 L245.25,-6.05 L234.29,-9.27Z" fill="rgb(81,81,81)" stroke="rgb(70,70,70)" stroke-width="1.8" stroke-opacity="0.8" stroke-linejoin="round"/>
<path d="M228.14,-4.22 L237.06,11.28 L245.97,2.71 L245.25,-6.05 L234.29,-9.27Z" fill="url(#sg1)" stroke="none"/>
<path d="M245.25,-6.05 L248.96,-7.91 L268.03,-0.73 L269.25,4.12 L253.42,11.03 L245.97,2.71Z" fill="rgb(89,89,89)" stroke="rgb(70,70,70)" stroke-width="1.8" stroke-opacity="0.8" stroke-linejoin="round"/>
<path d="M245.25,-6.05 L248.96,-7.91 L268.03,-0.73 L269.25,4.12 L253.42,11.03 L245.97,2.71Z" fill="url(#sg0)" stroke="none"/>
<path d="M269.25,4.12 L271.91,6.8 L289.33,-0.32 L297.17,-10.24 L275.75,-23.02 L268.03,-0.73Z" fill="rgb(81,81,81)" stroke="rgb(70,70,70)" stroke-width="1.8" stroke-opacity="0.8" stroke-linejoin="round"/>
<path d="M269.25,4.12 L271.91,6.8 L289.33,-0.32 L297.17,-10.24 L275.75,-23.02 L268.03,-0.73Z" fill="url(#sg2)" stroke="none"/>
<path d="M307.7,8.37 L294.64,21 L293.65,20.62 L289.33,-0.32 L297.17,-10.24 L303.9,-10.34 L307.39,-8.07Z" fill="rgb(83,83,83)" stroke="rgb(70,70,70)" stroke-width="1.8" stroke-opacity="0.8" stroke-linejoin="round"/>
<path d="M307.7,8.37 L294.64,21 L293.65,20.62 L289.33,-0.32 L297.17,-10.24 L303.9,-10.34 L307.39,-8.07Z" fill="url(#sg0)" stroke="none"/>
<path d="M311.54,11.16 L307.7,8.37 L307.39,-8.07 L308.28,-8.2 L330.45,-4.11 L331.45,6.54Z" fill="rgb(90,90,90)" stroke="rgb(70,70,70)" stroke-width="1.8" stroke-opacity="0.8" stroke-linejoin="round"/>
<path d="M311.54,11.16 L307.7,8.37 L307.39,-8.07 L308.28,-8.2 L330.45,-4.11 L331.45,6.54Z" fill="url(#sg1)" stroke="none"/>
<path d="M351.9,6.13 L346.05,-6.85 L339.48,-11.88 L330.45,-4.11 L331.45,6.54 L335.02,15.7 L336.78,16.21Z" fill="rgb(91,91,91)" stroke="rgb(70,70,70)" stroke-width="1.8" stroke-opacity="0.8" stroke-linejoin="round"/>
<path d="M351.9,6.13 L346.05,-6.85 L339.48,-11.88 L330.45,-4.11 L331.45,6.54 L335.02,15.7 L336.78,16.21Z" fill="url(#sg0)" stroke="none"/>
<path d="M351.9,6.13 L346.05,-6.85 L367.03,-8.75 L371.02,-7.96 L365.4,4.29 L359.04,8.51Z" fill="rgb(90,90,90)" stroke="rgb(70,70,70)" stroke-width="1.8" stroke-opacity="0.8" stroke-linejoin="round"/>
<path d="M351.9,6.13 L346.05,-6.85 L367.03,-8.75 L371.02,-7.96 L365.4,4.29 L359.04,8.51Z" fill="url(#sg4)" stroke="none"/>
<path d="M384.05,-5.56 L374.44,-10.21 L371.02,-7.96 L365.4,4.29 L381.08,19.57 L384.69,13.48Z" fill="rgb(88,88,88)" stroke="rgb(70,70,70)" stroke-width="1.8" stroke-opacity="0.8" stroke-linejoin="round"/>
<path d="M384.05,-5.56 L374.44,-10.21 L371.02,-7.96 L365.4,4.29 L381.08,19.57 L384.69,13.48Z" fill="url(#sg5)" stroke="none"/>
<path d="M401.16,10.52 L384.69,13.48 L384.05,-5.56 L400.97,-8.03 L405.05,2.82Z" fill="rgb(97,97,97)" stroke="rgb(70,70,70)" stroke-width="1.8" stroke-opacity="0.8" stroke-linejoin="round"/>
<path d="M401.16,10.52 L384.69,13.48 L384.05,-5.56 L400.97,-8.03 L405.05,2.82Z" fill="url(#sg1)" stroke="none"/>
<path d="M405.05,2.82 L422.45,9.6 L427.45,7.41 L426.59,-13.63 L423.7,-15.52 L403.08,-11.61 L400.97,-8.03Z" fill="rgb(92,92,92)" stroke="rgb(70,70,70)" stroke-width="1.8" stroke-opacity="0.8" stroke-linejoin="round"/>
<path d="M405.05,2.82 L422.45,9.6 L427.45,7.41 L426.59,-13.63 L423.7,-15.52 L403.08,-11.61 L400.97,-8.03Z" fill="url(#sg4)" stroke="none"/>
<path d="M426.59,-13.63 L427.45,7.41 L436.13,10.65 L447.93,8.14 L450.7,5.07 L445.47,-13.38 L435.32,-15.47Z" fill="rgb(93,93,93)" stroke="rgb(70,70,70)" stroke-width="1.8" stroke-opacity="0.8" stroke-linejoin="round"/>
<path d="M426.59,-13.63 L427.45,7.41 L436.13,10.65 L447.93,8.14 L450.7,5.07 L445.47,-13.38 L435.32,-15.47Z" fill="url(#sg4)" stroke="none"/>
<path d="M445.47,-13.38 L450.7,5.07 L457.54,4.2 L466.78,-6.53 L453.49,-21.15Z" fill="rgb(81,81,81)" stroke="rgb(70,70,70)" stroke-width="1.8" stroke-opacity="0.8" stroke-linejoin="round"/>
<path d="M445.47,-13.38 L450.7,5.07 L457.54,4.2 L466.78,-6.53 L453.49,-21.15Z" fill="url(#sg1)" stroke="none"/>
<path d="M228.14,-4.22 L169.21,16.68 L202.37,21.76 L234.65,21.95 L237.06,11.28Z" fill="rgb(87,87,87)" stroke="rgb(70,70,70)" stroke-width="1.8" stroke-opacity="0.8" stroke-linejoin="round"/>
<path d="M228.14,-4.22 L169.21,16.68 L202.37,21.76 L234.65,21.95 L237.06,11.28Z" fill="url(#sg4)" stroke="none"/>
<path d="M246.2,28.69 L234.65,21.95 L237.06,11.28 L245.97,2.71 L253.42,11.03 L248.11,27.62Z" fill="rgb(82,82,82)" stroke="rgb(70,70,70)" stroke-width="1.8" stroke-opacity="0.8" stroke-linejoin="round"/>
<path d="M246.2,28.69 L234.65,21.95 L237.06,11.28 L245.97,2.71 L253.42,11.03 L248.11,27.62Z" fill="url(#sg2)" stroke="none"/>
<path d="M248.11,27.62 L253.42,11.03 L269.25,4.12 L271.91,6.8 L275.87,19.75 L270.65,27.84Z" fill="rgb(89,89,89)" stroke="rgb(70,70,70)" stroke-width="1.8" stroke-opacity="0.8" stroke-linejoin="round"/>
<path d="M248.11,27.62 L253.42,11.03 L269.25,4.12 L271.91,6.8 L275.87,19.75 L270.65,27.84Z" fill="url(#sg4)" stroke="none"/>
<path d="M293.65,20.62 L289.33,-0.32 L271.91,6.8 L275.87,19.75Z" fill="rgb(88,88,88)" stroke="rgb(70,70,70)" stroke-width="1.8" stroke-opacity="0.8" stroke-linejoin="round"/>
<path d="M293.65,20.62 L289.33,-0.32 L271.91,6.8 L275.87,19.75Z" fill="url(#sg3)" stroke="none"/>
<path d="M311.54,11.16 L307.7,8.37 L294.64,21 L297.74,27.47 L308.83,32.25 L318.59,20.96Z" fill="rgb(96,96,96)" stroke="rgb(70,70,70)" stroke-width="1.8" stroke-opacity="0.8" stroke-linejoin="round"/>
<path d="M311.54,11.16 L307.7,8.37 L294.64,21 L297.74,27.47 L308.83,32.25 L318.59,20.96Z" fill="url(#sg4)" stroke="none"/>
<path d="M311.54,11.16 L331.45,6.54 L335.02,15.7 L327.2,21.67 L318.59,20.96Z" fill="rgb(80,80,80)" stroke="rgb(70,70,70)" stroke-width="1.8" stroke-opacity="0.8" stroke-linejoin="round"/>
<path d="M311.54,11.16 L331.45,6.54 L335.02,15.7 L327.2,21.67 L318.59,20.96Z" fill="url(#sg5)" stroke="none"/>
<path d="M351.9,6.13 L336.78,16.21 L350.3,31.07 L359.45,22.29 L359.04,8.51Z" fill="rgb(88,88,88)" stroke="rgb(70,70,70)" stroke-width="1.8" stroke-opacity="0.8" stroke-linejoin="round"/>
<path d="M351.9,6.13 L336.78,16.21 L350.3,31.07 L359.45,22.29 L359.04,8.51Z" fill="url(#sg1)" stroke="none"/>
<path d="M359.04,8.51 L365.4,4.29 L381.08,19.57 L380.64,24.41 L379.48,25.24 L359.45,22.29Z" fill="rgb(90,90,90)" stroke="rgb(70,70,70)" stroke-width="1.8" stroke-opacity="0.8" stroke-linejoin="round"/>
<path d="M359.04,8.51 L365.4,4.29 L381.08,19.57 L380.64,24.41 L379.48,25.24 L359.45,22.29Z" fill="url(#sg1)" stroke="none"/>
<path d="M401.16,10.52 L402.36,17.21 L389.97,28.35 L380.64,24.41 L381.08,19.57 L384.69,13.48Z" fill="rgb(95,95,95)" stroke="rgb(70,70,70)" stroke-width="1.8" stroke-opacity="0.8" stroke-linejoin="round"/>
<path d="M401.16,10.52 L402.36,17.21 L389.97,28.35 L380.64,24.41 L381.08,19.57 L384.69,13.48Z" fill="url(#sg0)" stroke="none"/>
<path d="M401.16,10.52 L402.36,17.21 L414.83,27.88 L422.45,9.6 L405.05,2.82Z" fill="rgb(96,96,96)" stroke="rgb(70,70,70)" stroke-width="1.8" stroke-opacity="0.8" stroke-linejoin="round"/>
<path d="M401.16,10.52 L402.36,17.21 L414.83,27.88 L422.45,9.6 L405.05,2.82Z" fill="url(#sg1)" stroke="none"/>
<path d="M414.83,27.88 L422.45,9.6 L427.45,7.41 L436.13,10.65 L435.07,27.99 L420.07,30.28 L414.98,29.45Z" fill="rgb(92,92,92)" stroke="rgb(70,70,70)" stroke-width="1.8" stroke-opacity="0.8" stroke-linejoin="round"/>
<path d="M414.83,27.88 L422.45,9.6 L427.45,7.41 L436.13,10.65 L435.07,27.99 L420.07,30.28 L414.98,29.45Z" fill="url(#sg5)" stroke="none"/>
<path d="M442.93,36.53 L453.42,24.73 L447.93,8.14 L436.13,10.65 L435.07,27.99Z" fill="rgb(86,86,86)" stroke="rgb(70,70,70)" stroke-width="1.8" stroke-opacity="0.8" stroke-linejoin="round"/>
<path d="M442.93,36.53 L453.42,24.73 L447.93,8.14 L436.13,10.65 L435.07,27.99Z" fill="url(#sg5)" stroke="none"/>
<path d="M450.7,5.07 L447.93,8.14 L453.42,24.73 L467.98,28.71 L477.89,17.92 L457.54,4.2Z" fill="rgb(95,95,95)" stroke="rgb(70,70,70)" stroke-width="1.8" stroke-opacity="0.8" stroke-linejoin="round"/>
<path d="M450.7,5.07 L447.93,8.14 L453.42,24.73 L467.98,28.71 L477.89,17.92 L457.54,4.2Z" fill="url(#sg1)" stroke="none"/>
<path d="M244.56,43.58 L243.19,45.04 L238.06,47.22 L202.37,21.76 L234.65,21.95 L246.2,28.69Z" fill="rgb(83,83,83)" stroke="rgb(70,70,70)" stroke-width="1.8" stroke-opacity="0.8" stroke-linejoin="round"/>
<path d="M244.56,43.58 L243.19,45.04 L238.06,47.22 L202.37,21.76 L234.65,21.95 L246.2,28.69Z" fill="url(#sg4)" stroke="none"/>
<path d="M251.73,46.43 L273.43,37.81 L270.65,27.84 L248.11,27.62 L246.2,28.69 L244.56,43.58Z" fill="rgb(83,83,83)" stroke="rgb(70,70,70)" stroke-width="1.8" stroke-opacity="0.8" stroke-linejoin="round"/>
<path d="M251.73,46.43 L273.43,37.81 L270.65,27.84 L248.11,27.62 L246.2,28.69 L244.56,43.58Z" fill="url(#sg2)" stroke="none"/>
<path d="M273.43,37.81 L275.3,40.95 L290.97,40.46 L297.74,27.47 L294.64,21 L293.65,20.62 L275.87,19.75 L270.65,27.84Z" fill="rgb(85,85,85)" stroke="rgb(70,70,70)" stroke-width="1.8" stroke-opacity="0.8" stroke-linejoin="round"/>
<path d="M273.43,37.81 L275.3,40.95 L290.97,40.46 L297.74,27.47 L294.64,21 L293.65,20.62 L275.87,19.75 L270.65,27.84Z" fill="url(#sg5)" stroke="none"/>
<path d="M297.74,27.47 L308.83,32.25 L310.55,35.5 L303.55,53.61 L299.55,55.26 L290.97,40.46Z" fill="rgb(94,94,94)" stroke="rgb(70,70,70)" stroke-width="1.8" stroke-opacity="0.8" stroke-linejoin="round"/>
<path d="M297.74,27.47 L308.83,32.25 L310.55,35.5 L303.55,53.61 L299.55,55.26 L290.97,40.46Z" fill="url(#sg4)" stroke="none"/>
<path d="M318.59,20.96 L308.83,32.25 L310.55,35.5 L325.71,40.96 L327.85,40.34 L327.2,21.67Z" fill="rgb(84,84,84)" stroke="rgb(70,70,70)" stroke-width="1.8" stroke-opacity="0.8" stroke-linejoin="round"/>
<path d="M318.59,20.96 L308.83,32.25 L310.55,35.5 L325.71,40.96 L327.85,40.34 L327.2,21.67Z" fill="url(#sg4)" stroke="none"/>
<path d="M350.3,31.07 L350.21,32.45 L335.62,43.11 L327.85,40.34 L327.2,21.67 L335.02,15.7 L336.78,16.21Z" fill="rgb(94,94,94)" stroke="rgb(70,70,70)" stroke-width="1.8" stroke-opacity="0.8" stroke-linejoin="round"/>
<path d="M350.3,31.07 L350.21,32.45 L335.62,43.11 L327.85,40.34 L327.2,21.67 L335.02,15.7 L336.78,16.21Z" fill="url(#sg5)" stroke="none"/>
<path d="M359.45,22.29 L379.48,25.24 L376,34.34 L360.01,43.04 L350.21,32.45 L350.3,31.07Z" fill="rgb(89,89,89)" stroke="rgb(70,70,70)" stroke-width="1.8" stroke-opacity="0.8" stroke-linejoin="round"/>
<path d="M359.45,22.29 L379.48,25.24 L376,34.34 L360.01,43.04 L350.21,32.45 L350.3,31.07Z" fill="url(#sg1)" stroke="none"/>
<path d="M380.64,24.41 L389.97,28.35 L400.08,39.39 L397.83,47.84 L379.48,42.8 L376,34.34 L379.48,25.24Z" fill="rgb(86,86,86)" stroke="rgb(70,70,70)" stroke-width="1.8" stroke-opacity="0.8" stroke-linejoin="round"/>
<path d="M380.64,24.41 L389.97,28.35 L400.08,39.39 L397.83,47.84 L379.48,42.8 L376,34.34 L379.48,25.24Z" fill="url(#sg4)" stroke="none"/>
<path d="M414.83,27.88 L402.36,17.21 L389.97,28.35 L400.08,39.39 L413.05,32.4 L414.98,29.45Z" fill="rgb(96,96,96)" stroke="rgb(70,70,70)" stroke-width="1.8" stroke-opacity="0.8" stroke-linejoin="round"/>
<path d="M414.83,27.88 L402.36,17.21 L389.97,28.35 L400.08,39.39 L413.05,32.4 L414.98,29.45Z" fill="url(#sg2)" stroke="none"/>
<path d="M414.98,29.45 L420.07,30.28 L434.01,45.2 L430.31,50.39 L421.59,48.77 L413.05,32.4Z" fill="rgb(94,94,94)" stroke="rgb(70,70,70)" stroke-width="1.8" stroke-opacity="0.8" stroke-linejoin="round"/>
<path d="M414.98,29.45 L420.07,30.28 L434.01,45.2 L430.31,50.39 L421.59,48.77 L413.05,32.4Z" fill="url(#sg0)" stroke="none"/>
<path d="M434.01,45.2 L442.99,38.76 L442.93,36.53 L435.07,27.99 L420.07,30.28Z" fill="rgb(85,85,85)" stroke="rgb(70,70,70)" stroke-width="1.8" stroke-opacity="0.8" stroke-linejoin="round"/>
<path d="M434.01,45.2 L442.99,38.76 L442.93,36.53 L435.07,27.99 L420.07,30.28Z" fill="url(#sg3)" stroke="none"/>
<path d="M442.93,36.53 L453.42,24.73 L467.98,28.71 L467.95,40.17 L453.19,47.09 L442.99,38.76Z" fill="rgb(97,97,97)" stroke="rgb(70,70,70)" stroke-width="1.8" stroke-opacity="0.8" stroke-linejoin="round"/>
<path d="M442.93,36.53 L453.42,24.73 L467.98,28.71 L467.95,40.17 L453.19,47.09 L442.99,38.76Z" fill="url(#sg3)" stroke="none"/>
<path d="M251.73,46.43 L263.12,55.93 L262.82,58.59 L247.99,63.43 L243.19,45.04 L244.56,43.58Z" fill="rgb(96,96,96)" stroke="rgb(70,70,70)" stroke-width="1.8" stroke-opacity="0.8" stroke-linejoin="round"/>
<path d="M251.73,46.43 L263.12,55.93 L262.82,58.59 L247.99,63.43 L243.19,45.04 L244.56,43.58Z" fill="url(#sg1)" stroke="none"/>
<path d="M251.73,46.43 L263.12,55.93 L274.29,48.18 L275.3,40.95 L273.43,37.81Z" fill="rgb(96,96,96)" stroke="rgb(70,70,70)" stroke-width="1.8" stroke-opacity="0.8" stroke-linejoin="round"/>
<path d="M251.73,46.43 L263.12,55.93 L274.29,48.18 L275.3,40.95 L273.43,37.81Z" fill="url(#sg5)" stroke="none"/>
<path d="M275.3,40.95 L290.97,40.46 L299.55,55.26 L298.2,57.38 L283.85,60.05 L274.29,48.18Z" fill="rgb(81,81,81)" stroke="rgb(70,70,70)" stroke-width="1.8" stroke-opacity="0.8" stroke-linejoin="round"/>
<path d="M275.3,40.95 L290.97,40.46 L299.55,55.26 L298.2,57.38 L283.85,60.05 L274.29,48.18Z" fill="url(#sg1)" stroke="none"/>
<path d="M325.71,40.96 L316.51,55.92 L303.55,53.61 L310.55,35.5Z" fill="rgb(82,82,82)" stroke="rgb(70,70,70)" stroke-width="1.8" stroke-opacity="0.8" stroke-linejoin="round"/>
<path d="M325.71,40.96 L316.51,55.92 L303.55,53.61 L310.55,35.5Z" fill="url(#sg4)" stroke="none"/>
<path d="M327.85,40.34 L325.71,40.96 L316.51,55.92 L324.74,66.81 L334.87,64.94 L339.86,60.41 L335.62,43.11Z" fill="rgb(88,88,88)" stroke="rgb(70,70,70)" stroke-width="1.8" stroke-opacity="0.8" stroke-linejoin="round"/>
<path d="M327.85,40.34 L325.71,40.96 L316.51,55.92 L324.74,66.81 L334.87,64.94 L339.86,60.41 L335.62,43.11Z" fill="url(#sg4)" stroke="none"/>
<path d="M350.21,32.45 L360.01,43.04 L360.97,50.09 L351.08,61.4 L339.86,60.41 L335.62,43.11Z" fill="rgb(88,88,88)" stroke="rgb(70,70,70)" stroke-width="1.8" stroke-opacity="0.8" stroke-linejoin="round"/>
<path d="M350.21,32.45 L360.01,43.04 L360.97,50.09 L351.08,61.4 L339.86,60.41 L335.62,43.11Z" fill="url(#sg2)" stroke="none"/>
<path d="M376,34.34 L360.01,43.04 L360.97,50.09 L370.98,54.4 L374.54,53.98 L379.48,42.8Z" fill="rgb(86,86,86)" stroke="rgb(70,70,70)" stroke-width="1.8" stroke-opacity="0.8" stroke-linejoin="round"/>
<path d="M376,34.34 L360.01,43.04 L360.97,50.09 L370.98,54.4 L374.54,53.98 L379.48,42.8Z" fill="url(#sg0)" stroke="none"/>
<path d="M379.48,42.8 L374.54,53.98 L387.54,60.97 L398.25,52.84 L397.83,47.84Z" fill="rgb(97,97,97)" stroke="rgb(70,70,70)" stroke-width="1.8" stroke-opacity="0.8" stroke-linejoin="round"/>
<path d="M379.48,42.8 L374.54,53.98 L387.54,60.97 L398.25,52.84 L397.83,47.84Z" fill="url(#sg3)" stroke="none"/>
<path d="M413.05,32.4 L421.59,48.77 L407.77,59.24 L398.25,52.84 L397.83,47.84 L400.08,39.39Z" fill="rgb(87,87,87)" stroke="rgb(70,70,70)" stroke-width="1.8" stroke-opacity="0.8" stroke-linejoin="round"/>
<path d="M413.05,32.4 L421.59,48.77 L407.77,59.24 L398.25,52.84 L397.83,47.84 L400.08,39.39Z" fill="url(#sg1)" stroke="none"/>
<path d="M430.31,50.39 L433.16,60.96 L428.23,68.24 L408.75,61.36 L407.77,59.24 L421.59,48.77Z" fill="rgb(96,96,96)" stroke="rgb(70,70,70)" stroke-width="1.8" stroke-opacity="0.8" stroke-linejoin="round"/>
<path d="M430.31,50.39 L433.16,60.96 L428.23,68.24 L408.75,61.36 L407.77,59.24 L421.59,48.77Z" fill="url(#sg3)" stroke="none"/>
<path d="M434.01,45.2 L442.99,38.76 L453.19,47.09 L453,59.06 L447.44,61.98 L433.16,60.96 L430.31,50.39Z" fill="rgb(87,87,87)" stroke="rgb(70,70,70)" stroke-width="1.8" stroke-opacity="0.8" stroke-linejoin="round"/>
<path d="M434.01,45.2 L442.99,38.76 L453.19,47.09 L453,59.06 L447.44,61.98 L433.16,60.96 L430.31,50.39Z" fill="url(#sg5)" stroke="none"/>
<path d="M453,59.06 L453.19,47.09 L467.95,40.17 L479.08,49.76 L465.96,67.32Z" fill="rgb(93,93,93)" stroke="rgb(70,70,70)" stroke-width="1.8" stroke-opacity="0.8" stroke-linejoin="round"/>
<path d="M453,59.06 L453.19,47.09 L467.95,40.17 L479.08,49.76 L465.96,67.32Z" fill="url(#sg4)" stroke="none"/>
<path d="M243.19,45.04 L247.99,63.43 L245.65,71.19 L228.26,74.91 L214.48,68.72 L238.06,47.22Z" fill="rgb(97,97,97)" stroke="rgb(70,70,70)" stroke-width="1.8" stroke-opacity="0.8" stroke-linejoin="round"/>
<path d="M243.19,45.04 L247.99,63.43 L245.65,71.19 L228.26,74.91 L214.48,68.72 L238.06,47.22Z" fill="url(#sg0)" stroke="none"/>
<path d="M267.54,73.2 L262.82,58.59 L247.99,63.43 L245.65,71.19 L258.82,78.84Z" fill="rgb(85,85,85)" stroke="rgb(70,70,70)" stroke-width="1.8" stroke-opacity="0.8" stroke-linejoin="round"/>
<path d="M267.54,73.2 L262.82,58.59 L247.99,63.43 L245.65,71.19 L258.82,78.84Z" fill="url(#sg4)" stroke="none"/>
<path d="M263.12,55.93 L262.82,58.59 L267.54,73.2 L273.88,73.82 L276.29,73.17 L283.85,60.05 L274.29,48.18Z" fill="rgb(86,86,86)" stroke="rgb(70,70,70)" stroke-width="1.8" stroke-opacity="0.8" stroke-linejoin="round"/>
<path d="M263.12,55.93 L262.82,58.59 L267.54,73.2 L273.88,73.82 L276.29,73.17 L283.85,60.05 L274.29,48.18Z" fill="url(#sg4)" stroke="none"/>
<path d="M297.1,85.34 L276.29,73.17 L283.85,60.05 L298.2,57.38 L303.11,79.44Z" fill="rgb(94,94,94)" stroke="rgb(70,70,70)" stroke-width="1.8" stroke-opacity="0.8" stroke-linejoin="round"/>
<path d="M297.1,85.34 L276.29,73.17 L283.85,60.05 L298.2,57.38 L303.11,79.44Z" fill="url(#sg3)" stroke="none"/>
<path d="M303.11,79.44 L316.58,78.65 L324.74,66.81 L316.51,55.92 L303.55,53.61 L299.55,55.26 L298.2,57.38Z" fill="rgb(91,91,91)" stroke="rgb(70,70,70)" stroke-width="1.8" stroke-opacity="0.8" stroke-linejoin="round"/>
<path d="M303.11,79.44 L316.58,78.65 L324.74,66.81 L316.51,55.92 L303.55,53.61 L299.55,55.26 L298.2,57.38Z" fill="url(#sg1)" stroke="none"/>
<path d="M358.57,73.47 L351.08,61.4 L339.86,60.41 L334.87,64.94 L339.06,77.9 L357.09,81.84Z" fill="rgb(82,82,82)" stroke="rgb(70,70,70)" stroke-width="1.8" stroke-opacity="0.8" stroke-linejoin="round"/>
<path d="M358.57,73.47 L351.08,61.4 L339.86,60.41 L334.87,64.94 L339.06,77.9 L357.09,81.84Z" fill="url(#sg1)" stroke="none"/>
<path d="M369.08,70.04 L370.98,54.4 L360.97,50.09 L351.08,61.4 L358.57,73.47Z" fill="rgb(81,81,81)" stroke="rgb(70,70,70)" stroke-width="1.8" stroke-opacity="0.8" stroke-linejoin="round"/>
<path d="M369.08,70.04 L370.98,54.4 L360.97,50.09 L351.08,61.4 L358.57,73.47Z" fill="url(#sg3)" stroke="none"/>
<path d="M369.08,70.04 L370.98,54.4 L374.54,53.98 L387.54,60.97 L385.53,70.04 L379.88,73.43Z" fill="rgb(81,81,81)" stroke="rgb(70,70,70)" stroke-width="1.8" stroke-opacity="0.8" stroke-linejoin="round"/>
<path d="M369.08,70.04 L370.98,54.4 L374.54,53.98 L387.54,60.97 L385.53,70.04 L379.88,73.43Z" fill="url(#sg1)" stroke="none"/>
<path d="M408.75,61.36 L407.77,59.24 L398.25,52.84 L387.54,60.97 L385.53,70.04 L402.3,84.38 L404.97,82.42Z" fill="rgb(85,85,85)" stroke="rgb(70,70,70)" stroke-width="1.8" stroke-opacity="0.8" stroke-linejoin="round"/>
<path d="M408.75,61.36 L407.77,59.24 L398.25,52.84 L387.54,60.97 L385.53,70.04 L402.3,84.38 L404.97,82.42Z" fill="url(#sg5)" stroke="none"/>
<path d="M428.56,73.92 L420.86,82.79 L404.97,82.42 L408.75,61.36 L428.23,68.24Z" fill="rgb(88,88,88)" stroke="rgb(70,70,70)" stroke-width="1.8" stroke-opacity="0.8" stroke-linejoin="round"/>
<path d="M428.56,73.92 L420.86,82.79 L404.97,82.42 L408.75,61.36 L428.23,68.24Z" fill="url(#sg5)" stroke="none"/>
<path d="M428.56,73.92 L442.6,81.71 L445,81.5 L447.44,61.98 L433.16,60.96 L428.23,68.24Z" fill="rgb(82,82,82)" stroke="rgb(70,70,70)" stroke-width="1.8" stroke-opacity="0.8" stroke-linejoin="round"/>
<path d="M428.56,73.92 L442.6,81.71 L445,81.5 L447.44,61.98 L433.16,60.96 L428.23,68.24Z" fill="url(#sg4)" stroke="none"/>
<path d="M447.44,61.98 L445,81.5 L458.57,87.85 L468.38,76.4 L465.96,67.32 L453,59.06Z" fill="rgb(82,82,82)" stroke="rgb(70,70,70)" stroke-width="1.8" stroke-opacity="0.8" stroke-linejoin="round"/>
<path d="M447.44,61.98 L445,81.5 L458.57,87.85 L468.38,76.4 L465.96,67.32 L453,59.06Z" fill="url(#sg5)" stroke="none"/>
<path d="M258.82,78.84 L245.65,71.19 L228.26,74.91 L240.29,96.53 L242.06,97.6 L255.87,94.52Z" fill="rgb(90,90,90)" stroke="rgb(70,70,70)" stroke-width="1.8" stroke-opacity="0.8" stroke-linejoin="round"/>
<path d="M258.82,78.84 L245.65,71.19 L228.26,74.91 L240.29,96.53 L242.06,97.6 L255.87,94.52Z" fill="url(#sg1)" stroke="none"/>
<path d="M275.74,98.77 L273.88,73.82 L267.54,73.2 L258.82,78.84 L255.87,94.52 L263.37,100.77 L270.48,100.9Z" fill="rgb(96,96,96)" stroke="rgb(70,70,70)" stroke-width="1.8" stroke-opacity="0.8" stroke-linejoin="round"/>
<path d="M275.74,98.77 L273.88,73.82 L267.54,73.2 L258.82,78.84 L255.87,94.52 L263.37,100.77 L270.48,100.9Z" fill="url(#sg3)" stroke="none"/>
<path d="M284.98,98.9 L275.74,98.77 L273.88,73.82 L276.29,73.17 L297.1,85.34 L296.56,88.18Z" fill="rgb(84,84,84)" stroke="rgb(70,70,70)" stroke-width="1.8" stroke-opacity="0.8" stroke-linejoin="round"/>
<path d="M284.98,98.9 L275.74,98.77 L273.88,73.82 L276.29,73.17 L297.1,85.34 L296.56,88.18Z" fill="url(#sg5)" stroke="none"/>
<path d="M296.56,88.18 L297.1,85.34 L303.11,79.44 L316.58,78.65 L322.81,86.99 L312.54,104.65 L308.85,104.41Z" fill="rgb(96,96,96)" stroke="rgb(70,70,70)" stroke-width="1.8" stroke-opacity="0.8" stroke-linejoin="round"/>
<path d="M296.56,88.18 L297.1,85.34 L303.11,79.44 L316.58,78.65 L322.81,86.99 L312.54,104.65 L308.85,104.41Z" fill="url(#sg1)" stroke="none"/>
<path d="M333.38,91.67 L339.06,77.9 L334.87,64.94 L324.74,66.81 L316.58,78.65 L322.81,86.99Z" fill="rgb(83,83,83)" stroke="rgb(70,70,70)" stroke-width="1.8" stroke-opacity="0.8" stroke-linejoin="round"/>
<path d="M333.38,91.67 L339.06,77.9 L334.87,64.94 L324.74,66.81 L316.58,78.65 L322.81,86.99Z" fill="url(#sg0)" stroke="none"/>
<path d="M335.92,95.3 L346.29,96.76 L358.12,86.88 L357.09,81.84 L339.06,77.9 L333.38,91.67Z" fill="rgb(87,87,87)" stroke="rgb(70,70,70)" stroke-width="1.8" stroke-opacity="0.8" stroke-linejoin="round"/>
<path d="M335.92,95.3 L346.29,96.76 L358.12,86.88 L357.09,81.84 L339.06,77.9 L333.38,91.67Z" fill="url(#sg3)" stroke="none"/>
<path d="M373.3,94.73 L358.12,86.88 L357.09,81.84 L358.57,73.47 L369.08,70.04 L379.88,73.43 L374.89,94.31Z" fill="rgb(94,94,94)" stroke="rgb(70,70,70)" stroke-width="1.8" stroke-opacity="0.8" stroke-linejoin="round"/>
<path d="M373.3,94.73 L358.12,86.88 L357.09,81.84 L358.57,73.47 L369.08,70.04 L379.88,73.43 L374.89,94.31Z" fill="url(#sg3)" stroke="none"/>
<path d="M374.89,94.31 L379.88,73.43 L385.53,70.04 L402.3,84.38 L399.94,90.85 L390.92,98.7Z" fill="rgb(90,90,90)" stroke="rgb(70,70,70)" stroke-width="1.8" stroke-opacity="0.8" stroke-linejoin="round"/>
<path d="M374.89,94.31 L379.88,73.43 L385.53,70.04 L402.3,84.38 L399.94,90.85 L390.92,98.7Z" fill="url(#sg3)" stroke="none"/>
<path d="M415.97,103.18 L399.94,90.85 L402.3,84.38 L404.97,82.42 L420.86,82.79 L424.33,90.18 L423.32,100.54 L416.42,103.26Z" fill="rgb(89,89,89)" stroke="rgb(70,70,70)" stroke-width="1.8" stroke-opacity="0.8" stroke-linejoin="round"/>
<path d="M415.97,103.18 L399.94,90.85 L402.3,84.38 L404.97,82.42 L420.86,82.79 L424.33,90.18 L423.32,100.54 L416.42,103.26Z" fill="url(#sg2)" stroke="none"/>
<path d="M428.56,73.92 L442.6,81.71 L436.52,90.32 L424.33,90.18 L420.86,82.79Z" fill="rgb(83,83,83)" stroke="rgb(70,70,70)" stroke-width="1.8" stroke-opacity="0.8" stroke-linejoin="round"/>
<path d="M428.56,73.92 L442.6,81.71 L436.52,90.32 L424.33,90.18 L420.86,82.79Z" fill="url(#sg1)" stroke="none"/>
<path d="M445,81.5 L442.6,81.71 L436.52,90.32 L439.2,105.04 L441.01,106.06 L449.29,103.82 L458.58,88.25 L458.57,87.85Z" fill="rgb(91,91,91)" stroke="rgb(70,70,70)" stroke-width="1.8" stroke-opacity="0.8" stroke-linejoin="round"/>
<path d="M445,81.5 L442.6,81.71 L436.52,90.32 L439.2,105.04 L441.01,106.06 L449.29,103.82 L458.58,88.25 L458.57,87.85Z" fill="url(#sg0)" stroke="none"/>
<path d="M235.71,113.64 L208.95,106.84 L240.29,96.53 L242.06,97.6 L241.46,103.31Z" fill="rgb(82,82,82)" stroke="rgb(70,70,70)" stroke-width="1.8" stroke-opacity="0.8" stroke-linejoin="round"/>
<path d="M235.71,113.64 L208.95,106.84 L240.29,96.53 L242.06,97.6 L241.46,103.31Z" fill="url(#sg2)" stroke="none"/>
<path d="M263.37,100.77 L257.44,123.15 L255.11,123.19 L241.46,103.31 L242.06,97.6 L255.87,94.52Z" fill="rgb(82,82,82)" stroke="rgb(70,70,70)" stroke-width="1.8" stroke-opacity="0.8" stroke-linejoin="round"/>
<path d="M263.37,100.77 L257.44,123.15 L255.11,123.19 L241.46,103.31 L242.06,97.6 L255.87,94.52Z" fill="url(#sg2)" stroke="none"/>
<path d="M290.47,114.69 L278.35,124.3 L270.48,100.9 L275.74,98.77 L284.98,98.9Z" fill="rgb(86,86,86)" stroke="rgb(70,70,70)" stroke-width="1.8" stroke-opacity="0.8" stroke-linejoin="round"/>
<path d="M290.47,114.69 L278.35,124.3 L270.48,100.9 L275.74,98.77 L284.98,98.9Z" fill="url(#sg3)" stroke="none"/>
<path d="M290.47,114.69 L284.98,98.9 L296.56,88.18 L308.85,104.41 L299.09,116.82Z" fill="rgb(94,94,94)" stroke="rgb(70,70,70)" stroke-width="1.8" stroke-opacity="0.8" stroke-linejoin="round"/>
<path d="M290.47,114.69 L284.98,98.9 L296.56,88.18 L308.85,104.41 L299.09,116.82Z" fill="url(#sg3)" stroke="none"/>
<path d="M335.92,95.3 L328.6,108.9 L320.95,110.18 L312.54,104.65 L322.81,86.99 L333.38,91.67Z" fill="rgb(81,81,81)" stroke="rgb(70,70,70)" stroke-width="1.8" stroke-opacity="0.8" stroke-linejoin="round"/>
<path d="M335.92,95.3 L328.6,108.9 L320.95,110.18 L312.54,104.65 L322.81,86.99 L333.38,91.67Z" fill="url(#sg4)" stroke="none"/>
<path d="M335.92,95.3 L346.29,96.76 L351.67,111.12 L335.92,117.39 L328.6,108.9Z" fill="rgb(84,84,84)" stroke="rgb(70,70,70)" stroke-width="1.8" stroke-opacity="0.8" stroke-linejoin="round"/>
<path d="M335.92,95.3 L346.29,96.76 L351.67,111.12 L335.92,117.39 L328.6,108.9Z" fill="url(#sg5)" stroke="none"/>
<path d="M368.31,106.2 L373.3,94.73 L358.12,86.88 L346.29,96.76 L351.67,111.12 L357.65,115.1Z" fill="rgb(81,81,81)" stroke="rgb(70,70,70)" stroke-width="1.8" stroke-opacity="0.8" stroke-linejoin="round"/>
<path d="M368.31,106.2 L373.3,94.73 L358.12,86.88 L346.29,96.76 L351.67,111.12 L357.65,115.1Z" fill="url(#sg1)" stroke="none"/>
<path d="M378.99,118.27 L368.31,106.2 L373.3,94.73 L374.89,94.31 L390.92,98.7 L393.4,113.68Z" fill="rgb(84,84,84)" stroke="rgb(70,70,70)" stroke-width="1.8" stroke-opacity="0.8" stroke-linejoin="round"/>
<path d="M378.99,118.27 L368.31,106.2 L373.3,94.73 L374.89,94.31 L390.92,98.7 L393.4,113.68Z" fill="url(#sg1)" stroke="none"/>
<path d="M398.21,119.43 L415.97,103.18 L399.94,90.85 L390.92,98.7 L393.4,113.68Z" fill="rgb(84,84,84)" stroke="rgb(70,70,70)" stroke-width="1.8" stroke-opacity="0.8" stroke-linejoin="round"/>
<path d="M398.21,119.43 L415.97,103.18 L399.94,90.85 L390.92,98.7 L393.4,113.68Z" fill="url(#sg0)" stroke="none"/>
<path d="M419.18,120.77 L423.06,121.33 L429.94,104.3 L423.32,100.54 L416.42,103.26Z" fill="rgb(93,93,93)" stroke="rgb(70,70,70)" stroke-width="1.8" stroke-opacity="0.8" stroke-linejoin="round"/>
<path d="M419.18,120.77 L423.06,121.33 L429.94,104.3 L423.32,100.54 L416.42,103.26Z" fill="url(#sg5)" stroke="none"/>
<path d="M424.33,90.18 L423.32,100.54 L429.94,104.3 L439.2,105.04 L436.52,90.32Z" fill="rgb(91,91,91)" stroke="rgb(70,70,70)" stroke-width="1.8" stroke-opacity="0.8" stroke-linejoin="round"/>
<path d="M424.33,90.18 L423.32,100.54 L429.94,104.3 L439.2,105.04 L436.52,90.32Z" fill="url(#sg5)" stroke="none"/>
<path d="M467.64,109.32 L461.45,117.41 L449.29,103.82 L458.58,88.25 L465.1,94.78Z" fill="rgb(83,83,83)" stroke="rgb(70,70,70)" stroke-width="1.8" stroke-opacity="0.8" stroke-linejoin="round"/>
<path d="M467.64,109.32 L461.45,117.41 L449.29,103.82 L458.58,88.25 L465.1,94.78Z" fill="url(#sg5)" stroke="none"/>
<path d="M255.11,123.19 L241.46,103.31 L235.71,113.64 L237.02,125.21 L251.33,124.57Z" fill="rgb(85,85,85)" stroke="rgb(70,70,70)" stroke-width="1.8" stroke-opacity="0.8" stroke-linejoin="round"/>
<path d="M255.11,123.19 L241.46,103.31 L235.71,113.64 L237.02,125.21 L251.33,124.57Z" fill="url(#sg0)" stroke="none"/>
<path d="M270.48,100.9 L263.37,100.77 L257.44,123.15 L264.11,128.37 L276.56,127.64 L278.35,124.3Z" fill="rgb(80,80,80)" stroke="rgb(70,70,70)" stroke-width="1.8" stroke-opacity="0.8" stroke-linejoin="round"/>
<path d="M270.48,100.9 L263.37,100.77 L257.44,123.15 L264.11,128.37 L276.56,127.64 L278.35,124.3Z" fill="url(#sg5)" stroke="none"/>
<path d="M290.47,114.69 L278.35,124.3 L276.56,127.64 L282.7,135.81 L302.4,126.27 L302.97,124.42 L299.09,116.82Z" fill="rgb(81,81,81)" stroke="rgb(70,70,70)" stroke-width="1.8" stroke-opacity="0.8" stroke-linejoin="round"/>
<path d="M290.47,114.69 L278.35,124.3 L276.56,127.64 L282.7,135.81 L302.4,126.27 L302.97,124.42 L299.09,116.82Z" fill="url(#sg4)" stroke="none"/>
<path d="M299.09,116.82 L302.97,124.42 L317.09,124.2 L320.95,110.18 L312.54,104.65 L308.85,104.41Z" fill="rgb(96,96,96)" stroke="rgb(70,70,70)" stroke-width="1.8" stroke-opacity="0.8" stroke-linejoin="round"/>
<path d="M299.09,116.82 L302.97,124.42 L317.09,124.2 L320.95,110.18 L312.54,104.65 L308.85,104.41Z" fill="url(#sg0)" stroke="none"/>
<path d="M324.96,134.04 L335.79,121.81 L335.92,117.39 L328.6,108.9 L320.95,110.18 L317.09,124.2Z" fill="rgb(89,89,89)" stroke="rgb(70,70,70)" stroke-width="1.8" stroke-opacity="0.8" stroke-linejoin="round"/>
<path d="M324.96,134.04 L335.79,121.81 L335.92,117.39 L328.6,108.9 L320.95,110.18 L317.09,124.2Z" fill="url(#sg5)" stroke="none"/>
<path d="M357.65,115.1 L351.67,111.12 L335.92,117.39 L335.79,121.81 L351.65,132.86 L359.82,128.64Z" fill="rgb(94,94,94)" stroke="rgb(70,70,70)" stroke-width="1.8" stroke-opacity="0.8" stroke-linejoin="round"/>
<path d="M357.65,115.1 L351.67,111.12 L335.92,117.39 L335.79,121.81 L351.65,132.86 L359.82,128.64Z" fill="url(#sg0)" stroke="none"/>
<path d="M378.99,118.27 L368.31,106.2 L357.65,115.1 L359.82,128.64 L360.51,128.97 L375.03,124.09Z" fill="rgb(94,94,94)" stroke="rgb(70,70,70)" stroke-width="1.8" stroke-opacity="0.8" stroke-linejoin="round"/>
<path d="M378.99,118.27 L368.31,106.2 L357.65,115.1 L359.82,128.64 L360.51,128.97 L375.03,124.09Z" fill="url(#sg4)" stroke="none"/>
<path d="M378.99,118.27 L393.4,113.68 L398.21,119.43 L400.03,123.72 L389.26,137.78 L375.03,124.09Z" fill="rgb(86,86,86)" stroke="rgb(70,70,70)" stroke-width="1.8" stroke-opacity="0.8" stroke-linejoin="round"/>
<path d="M378.99,118.27 L393.4,113.68 L398.21,119.43 L400.03,123.72 L389.26,137.78 L375.03,124.09Z" fill="url(#sg0)" stroke="none"/>
<path d="M398.21,119.43 L415.97,103.18 L416.42,103.26 L419.18,120.77 L406.15,125.81 L400.03,123.72Z" fill="rgb(93,93,93)" stroke="rgb(70,70,70)" stroke-width="1.8" stroke-opacity="0.8" stroke-linejoin="round"/>
<path d="M398.21,119.43 L415.97,103.18 L416.42,103.26 L419.18,120.77 L406.15,125.81 L400.03,123.72Z" fill="url(#sg4)" stroke="none"/>
<path d="M423.06,121.33 L430.78,126.03 L438.27,124.4 L441.01,106.06 L439.2,105.04 L429.94,104.3Z" fill="rgb(94,94,94)" stroke="rgb(70,70,70)" stroke-width="1.8" stroke-opacity="0.8" stroke-linejoin="round"/>
<path d="M423.06,121.33 L430.78,126.03 L438.27,124.4 L441.01,106.06 L439.2,105.04 L429.94,104.3Z" fill="url(#sg5)" stroke="none"/>
<path d="M441.01,106.06 L449.29,103.82 L461.45,117.41 L461.87,120.63 L444.35,128.35 L438.27,124.4Z" fill="rgb(83,83,83)" stroke="rgb(70,70,70)" stroke-width="1.8" stroke-opacity="0.8" stroke-linejoin="round"/>
<path d="M441.01,106.06 L449.29,103.82 L461.45,117.41 L461.87,120.63 L444.35,128.35 L438.27,124.4Z" fill="url(#sg2)" stroke="none"/>
<path d="M251.33,124.57 L246.04,144.04 L240.75,144.13 L228.62,132.79 L237.02,125.21Z" fill="rgb(96,96,96)" stroke="rgb(70,70,70)" stroke-width="1.8" stroke-opacity="0.8" stroke-linejoin="round"/>
<path d="M251.33,124.57 L246.04,144.04 L240.75,144.13 L228.62,132.79 L237.02,125.21Z" fill="url(#sg1)" stroke="none"/>
<path d="M264.11,128.37 L257.44,123.15 L255.11,123.19 L251.33,124.57 L246.04,144.04 L251.32,146.26 L261.39,139.38Z" fill="rgb(87,87,87)" stroke="rgb(70,70,70)" stroke-width="1.8" stroke-opacity="0.8" stroke-linejoin="round"/>
<path d="M264.11,128.37 L257.44,123.15 L255.11,123.19 L251.33,124.57 L246.04,144.04 L251.32,146.26 L261.39,139.38Z" fill="url(#sg2)" stroke="none"/>
<path d="M285.28,145.13 L282.7,135.81 L276.56,127.64 L264.11,128.37 L261.39,139.38 L271.58,153.89Z" fill="rgb(92,92,92)" stroke="rgb(70,70,70)" stroke-width="1.8" stroke-opacity="0.8" stroke-linejoin="round"/>
<path d="M285.28,145.13 L282.7,135.81 L276.56,127.64 L264.11,128.37 L261.39,139.38 L271.58,153.89Z" fill="url(#sg2)" stroke="none"/>
<path d="M305.38,145.12 L292.86,149.19 L285.28,145.13 L282.7,135.81 L302.4,126.27Z" fill="rgb(88,88,88)" stroke="rgb(70,70,70)" stroke-width="1.8" stroke-opacity="0.8" stroke-linejoin="round"/>
<path d="M305.38,145.12 L292.86,149.19 L285.28,145.13 L282.7,135.81 L302.4,126.27Z" fill="url(#sg0)" stroke="none"/>
<path d="M305.38,145.12 L302.4,126.27 L302.97,124.42 L317.09,124.2 L324.96,134.04 L325.29,141.21 L313.81,147.57Z" fill="rgb(96,96,96)" stroke="rgb(70,70,70)" stroke-width="1.8" stroke-opacity="0.8" stroke-linejoin="round"/>
<path d="M305.38,145.12 L302.4,126.27 L302.97,124.42 L317.09,124.2 L324.96,134.04 L325.29,141.21 L313.81,147.57Z" fill="url(#sg0)" stroke="none"/>
<path d="M324.96,134.04 L335.79,121.81 L351.65,132.86 L347.28,139.02 L335.78,146.29 L325.29,141.21Z" fill="rgb(81,81,81)" stroke="rgb(70,70,70)" stroke-width="1.8" stroke-opacity="0.8" stroke-linejoin="round"/>
<path d="M324.96,134.04 L335.79,121.81 L351.65,132.86 L347.28,139.02 L335.78,146.29 L325.29,141.21Z" fill="url(#sg5)" stroke="none"/>
<path d="M360.51,128.97 L371.47,145.09 L358.91,153.65 L347.28,139.02 L351.65,132.86 L359.82,128.64Z" fill="rgb(87,87,87)" stroke="rgb(70,70,70)" stroke-width="1.8" stroke-opacity="0.8" stroke-linejoin="round"/>
<path d="M360.51,128.97 L371.47,145.09 L358.91,153.65 L347.28,139.02 L351.65,132.86 L359.82,128.64Z" fill="url(#sg2)" stroke="none"/>
<path d="M375.03,124.09 L360.51,128.97 L371.47,145.09 L377.73,147.43 L388.06,141.78 L389.26,137.78Z" fill="rgb(83,83,83)" stroke="rgb(70,70,70)" stroke-width="1.8" stroke-opacity="0.8" stroke-linejoin="round"/>
<path d="M375.03,124.09 L360.51,128.97 L371.47,145.09 L377.73,147.43 L388.06,141.78 L389.26,137.78Z" fill="url(#sg4)" stroke="none"/>
<path d="M389.26,137.78 L388.06,141.78 L399.11,150.71 L416.44,153.02 L417.99,147.82 L406.15,125.81 L400.03,123.72Z" fill="rgb(91,91,91)" stroke="rgb(70,70,70)" stroke-width="1.8" stroke-opacity="0.8" stroke-linejoin="round"/>
<path d="M389.26,137.78 L388.06,141.78 L399.11,150.71 L416.44,153.02 L417.99,147.82 L406.15,125.81 L400.03,123.72Z" fill="url(#sg1)" stroke="none"/>
<path d="M406.15,125.81 L417.99,147.82 L424.57,142.56 L430.78,126.03 L423.06,121.33 L419.18,120.77Z" fill="rgb(86,86,86)" stroke="rgb(70,70,70)" stroke-width="1.8" stroke-opacity="0.8" stroke-linejoin="round"/>
<path d="M406.15,125.81 L417.99,147.82 L424.57,142.56 L430.78,126.03 L423.06,121.33 L419.18,120.77Z" fill="url(#sg4)" stroke="none"/>
<path d="M430.78,126.03 L424.57,142.56 L447.65,144.36 L444.35,128.35 L438.27,124.4Z" fill="rgb(91,91,91)" stroke="rgb(70,70,70)" stroke-width="1.8" stroke-opacity="0.8" stroke-linejoin="round"/>
<path d="M430.78,126.03 L424.57,142.56 L447.65,144.36 L444.35,128.35 L438.27,124.4Z" fill="url(#sg3)" stroke="none"/>
<path d="M463.94,122.48 L461.87,120.63 L444.35,128.35 L447.65,144.36 L449.64,146.91 L452.94,148.04 L465.38,141.36Z" fill="rgb(90,90,90)" stroke="rgb(70,70,70)" stroke-width="1.8" stroke-opacity="0.8" stroke-linejoin="round"/>
<path d="M463.94,122.48 L461.87,120.63 L444.35,128.35 L447.65,144.36 L449.64,146.91 L452.94,148.04 L465.38,141.36Z" fill="url(#sg0)" stroke="none"/>
<path d="M271.58,153.89 L259.87,179.07 L251.32,146.26 L261.39,139.38Z" fill="rgb(82,82,82)" stroke="rgb(70,70,70)" stroke-width="1.8" stroke-opacity="0.8" stroke-linejoin="round"/>
<path d="M271.58,153.89 L259.87,179.07 L251.32,146.26 L261.39,139.38Z" fill="url(#sg4)" stroke="none"/>
<path d="M347.28,139.02 L335.78,146.29 L345.91,181.7 L358.91,153.65Z" fill="rgb(86,86,86)" stroke="rgb(70,70,70)" stroke-width="1.8" stroke-opacity="0.8" stroke-linejoin="round"/>
<path d="M347.28,139.02 L335.78,146.29 L345.91,181.7 L358.91,153.65Z" fill="url(#sg5)" stroke="none"/>
<path d="M416.44,153.02 L423.18,171.94 L449.64,146.91 L447.65,144.36 L424.57,142.56 L417.99,147.82Z" fill="rgb(82,82,82)" stroke="rgb(70,70,70)" stroke-width="1.8" stroke-opacity="0.8" stroke-linejoin="round"/>
<path d="M416.44,153.02 L423.18,171.94 L449.64,146.91 L447.65,144.36 L424.57,142.56 L417.99,147.82Z" fill="url(#sg0)" stroke="none"/>
<line x1="310.55" y1="35.5" x2="303.55" y2="53.61" stroke="rgb(185,185,185)" stroke-width="2.0" stroke-linecap="round" opacity="0.55"/>
<line x1="453.42" y1="24.73" x2="467.98" y2="28.71" stroke="rgb(185,185,185)" stroke-width="2.0" stroke-linecap="round" opacity="0.55"/>
<line x1="316.58" y1="78.65" x2="322.81" y2="86.99" stroke="rgb(185,185,185)" stroke-width="2.0" stroke-linecap="round" opacity="0.55"/>
<line x1="324.74" y1="66.81" x2="316.58" y2="78.65" stroke="rgb(185,185,185)" stroke-width="2.0" stroke-linecap="round" opacity="0.55"/>
<line x1="374.89" y1="94.31" x2="373.3" y2="94.73" stroke="rgb(185,185,185)" stroke-width="2.0" stroke-linecap="round" opacity="0.55"/>
<line x1="442.6" y1="81.71" x2="436.52" y2="90.32" stroke="rgb(185,185,185)" stroke-width="2.0" stroke-linecap="round" opacity="0.55"/>
<line x1="458.58" y1="88.25" x2="458.57" y2="87.85" stroke="rgb(185,185,185)" stroke-width="2.0" stroke-linecap="round" opacity="0.55"/>
<line x1="335.79" y1="121.81" x2="351.65" y2="132.86" stroke="rgb(185,185,185)" stroke-width="2.0" stroke-linecap="round" opacity="0.55"/>
<circle cx="444.35" cy="128.35" r="1.14" fill="rgb(185,185,185)" opacity="0.8"/>
<circle cx="430.78" cy="126.03" r="1.83" fill="rgb(185,185,185)" opacity="0.8"/>
<circle cx="439.2" cy="105.04" r="1.8" fill="rgb(185,185,185)" opacity="0.8"/>
<circle cx="436.13" cy="10.65" r="0.87" fill="rgb(185,185,185)" opacity="0.8"/>
<circle cx="433.16" cy="60.96" r="0.92" fill="rgb(185,185,185)" opacity="0.8"/>
<circle cx="324.74" cy="66.81" r="0.94" fill="rgb(185,185,185)" opacity="0.8"/>
<circle cx="423.32" cy="100.54" r="1.89" fill="rgb(185,185,185)" opacity="0.8"/>
<circle cx="387.54" cy="60.97" r="1.71" fill="rgb(185,185,185)" opacity="0.8"/>
<circle cx="407.77" cy="59.24" r="1.44" fill="rgb(185,185,185)" opacity="0.8"/>
<circle cx="303.55" cy="53.61" r="1.58" fill="rgb(185,185,185)" opacity="0.8"/>
<circle cx="262.82" cy="58.59" r="1.82" fill="rgb(185,185,185)" opacity="0.8"/>
<circle cx="351.67" cy="111.12" r="1.42" fill="rgb(185,185,185)" opacity="0.8"/>
<circle cx="346.29" cy="96.76" r="1.19" fill="rgb(185,185,185)" opacity="0.8"/>
<circle cx="442.99" cy="38.76" r="0.89" fill="rgb(185,185,185)" opacity="0.8"/>
<circle cx="408.75" cy="61.36" r="1.5" fill="rgb(185,185,185)" opacity="0.8"/>
<circle cx="310.55" cy="35.5" r="1.52" fill="rgb(185,185,185)" opacity="0.8"/>
<circle cx="325.71" cy="40.96" r="0.87" fill="rgb(185,185,185)" opacity="0.8"/>
<circle cx="416.42" cy="103.26" r="1.52" fill="rgb(185,185,185)" opacity="0.8"/>
<circle cx="406.15" cy="125.81" r="1.51" fill="rgb(185,185,185)" opacity="0.8"/>
<circle cx="322.81" cy="86.99" r="0.96" fill="rgb(185,185,185)" opacity="0.8"/>
<circle cx="335.92" cy="95.3" r="0.85" fill="rgb(185,185,185)" opacity="0.8"/>
<circle cx="434.01" cy="45.2" r="0.97" fill="rgb(185,185,185)" opacity="0.8"/>
<circle cx="290.97" cy="40.46" r="1.52" fill="rgb(185,185,185)" opacity="0.8"/>
<circle cx="294.64" cy="21" r="0.98" fill="rgb(185,185,185)" opacity="0.8"/>
<circle cx="267.54" cy="73.2" r="0.96" fill="rgb(185,185,185)" opacity="0.8"/>
<circle cx="283.85" cy="60.05" r="1.13" fill="rgb(185,185,185)" opacity="0.8"/>
<circle cx="302.4" cy="126.27" r="1.08" fill="rgb(185,185,185)" opacity="0.8"/>
<circle cx="389.97" cy="28.35" r="1.02" fill="rgb(185,185,185)" opacity="0.8"/>
<circle cx="414.98" cy="29.45" r="1.31" fill="rgb(185,185,185)" opacity="0.8"/>
<circle cx="381.08" cy="19.57" r="1.31" fill="rgb(185,185,185)" opacity="0.8"/>
<circle cx="307.7" cy="8.37" r="1.78" fill="rgb(185,185,185)" opacity="0.8"/>
<circle cx="275.3" cy="40.95" r="1.09" fill="rgb(185,185,185)" opacity="0.8"/>
<circle cx="284.98" cy="98.9" r="1.74" fill="rgb(185,185,185)" opacity="0.8"/>
<circle cx="331.45" cy="6.54" r="1.62" fill="rgb(185,185,185)" opacity="0.8"/>
<circle cx="359.45" cy="22.29" r="1.44" fill="rgb(185,185,185)" opacity="0.8"/>
</g>
<circle cx="360.09" cy="68.39" r="0.83" fill="rgb(165,165,165)" opacity="0.7"/>
<circle cx="372.7" cy="48.9" r="0.94" fill="rgb(165,165,165)" opacity="0.7"/>
<circle cx="333.99" cy="102.91" r="0.94" fill="rgb(165,165,165)" opacity="0.7"/>
<circle cx="353.02" cy="91.48" r="1.15" fill="rgb(165,165,165)" opacity="0.7"/>
<circle cx="291.54" cy="65.61" r="0.68" fill="rgb(165,165,165)" opacity="0.7"/>
<circle cx="295.85" cy="103.51" r="0.98" fill="rgb(165,165,165)" opacity="0.7"/>
<circle cx="307.14" cy="12.13" r="0.65" fill="rgb(165,165,165)" opacity="0.7"/>
<circle cx="429.68" cy="100.97" r="0.65" fill="rgb(165,165,165)" opacity="0.7"/>
<circle cx="416.49" cy="32.02" r="1.3" fill="rgb(165,165,165)" opacity="0.7"/>
<circle cx="272.92" cy="3.99" r="0.61" fill="rgb(165,165,165)" opacity="0.7"/>
<circle cx="346.27" cy="65.94" r="0.99" fill="rgb(165,165,165)" opacity="0.7"/>
<circle cx="345.13" cy="116.74" r="0.92" fill="rgb(165,165,165)" opacity="0.7"/>
<circle cx="249.24" cy="84.79" r="1.23" fill="rgb(165,165,165)" opacity="0.7"/>
<circle cx="437.02" cy="101.62" r="1.22" fill="rgb(165,165,165)" opacity="0.7"/>
<circle cx="342.72" cy="72.04" r="1.2" fill="rgb(165,165,165)" opacity="0.7"/>
<circle cx="349.95" cy="115.24" r="1.15" fill="rgb(165,165,165)" opacity="0.7"/>
<circle cx="425.21" cy="65.57" r="0.87" fill="rgb(165,165,165)" opacity="0.7"/>
<circle cx="342.5" cy="60.97" r="1.24" fill="rgb(165,165,165)" opacity="0.7"/>
<circle cx="282.43" cy="59.61" r="0.63" fill="rgb(165,165,165)" opacity="0.7"/>
<circle cx="341.57" cy="51.57" r="0.87" fill="rgb(165,165,165)" opacity="0.7"/>
<circle cx="310.12" cy="47.23" r="1.18" fill="rgb(165,165,165)" opacity="0.7"/>
<circle cx="297.68" cy="102.88" r="1.28" fill="rgb(165,165,165)" opacity="0.7"/>
<circle cx="381.46" cy="123.76" r="1.09" fill="rgb(165,165,165)" opacity="0.7"/>
<circle cx="428.1" cy="21.44" r="0.75" fill="rgb(165,165,165)" opacity="0.7"/>
<circle cx="325.11" cy="107.27" r="1.11" fill="rgb(165,165,165)" opacity="0.7"/>
<circle cx="266.05" cy="98.9" r="0.9" fill="rgb(165,165,165)" opacity="0.7"/>
<circle cx="364.81" cy="131.78" r="1.25" fill="rgb(165,165,165)" opacity="0.7"/>
<circle cx="371.05" cy="114.91" r="0.66" fill="rgb(165,165,165)" opacity="0.7"/>
<circle cx="415.21" cy="30.25" r="1.06" fill="rgb(165,165,165)" opacity="0.7"/>
<circle cx="343.41" cy="118.9" r="0.84" fill="rgb(165,165,165)" opacity="0.7"/>
<circle cx="432.51" cy="125.3" r="0.63" fill="rgb(165,165,165)" opacity="0.7"/>
<circle cx="379.74" cy="129.29" r="0.73" fill="rgb(165,165,165)" opacity="0.7"/>
<circle cx="439.05" cy="37.89" r="1.07" fill="rgb(165,165,165)" opacity="0.7"/>
<circle cx="414.74" cy="111.66" r="0.93" fill="rgb(165,165,165)" opacity="0.7"/>
<circle cx="418.75" cy="51" r="0.92" fill="rgb(165,165,165)" opacity="0.7"/>
<circle cx="258.89" cy="26.06" r="1.28" fill="rgb(165,165,165)" opacity="0.7"/>
<circle cx="332.35" cy="79.31" r="0.96" fill="rgb(165,165,165)" opacity="0.7"/>
<circle cx="293.76" cy="38.43" r="0.99" fill="rgb(165,165,165)" opacity="0.7"/>
<circle cx="407.28" cy="115.22" r="0.99" fill="rgb(165,165,165)" opacity="0.7"/>
<circle cx="389.89" cy="34.83" r="1.21" fill="rgb(165,165,165)" opacity="0.7"/>
<circle cx="316.21" cy="87.09" r="0.85" fill="rgb(165,165,165)" opacity="0.7"/>
<circle cx="333.16" cy="68.61" r="1.27" fill="rgb(165,165,165)" opacity="0.7"/>
<circle cx="354.84" cy="15.68" r="0.9" fill="rgb(165,165,165)" opacity="0.7"/>
<circle cx="371.83" cy="5.39" r="1.15" fill="rgb(165,165,165)" opacity="0.7"/>
<circle cx="426.15" cy="54.51" r="1.08" fill="rgb(165,165,165)" opacity="0.7"/>
<circle cx="412.34" cy="61.93" r="1.2" fill="rgb(165,165,165)" opacity="0.7"/>
<circle cx="372" cy="98.97" r="0.74" fill="rgb(165,165,165)" opacity="0.7"/>
<circle cx="410.59" cy="12.51" r="0.99" fill="rgb(165,165,165)" opacity="0.7"/>
<circle cx="401.45" cy="66.99" r="1.06" fill="rgb(165,165,165)" opacity="0.7"/>
<circle cx="416.54" cy="32.25" r="0.98" fill="rgb(165,165,165)" opacity="0.7"/>
<circle cx="250.4" cy="79.58" r="0.99" fill="rgb(165,165,165)" opacity="0.7"/>
<circle cx="295.5" cy="49.3" r="0.77" fill="rgb(165,165,165)" opacity="0.7"/>
<circle cx="275.04" cy="120.36" r="0.97" fill="rgb(165,165,165)" opacity="0.7"/>
<circle cx="445.38" cy="30.98" r="1.17" fill="rgb(165,165,165)" opacity="0.7"/>
<circle cx="358.81" cy="22.08" r="0.77" fill="rgb(165,165,165)" opacity="0.7"/>
<circle cx="325.43" cy="98.24" r="0.88" fill="rgb(165,165,165)" opacity="0.7"/>
<circle cx="274.61" cy="70.16" r="0.72" fill="rgb(165,165,165)" opacity="0.7"/>
<circle cx="372.08" cy="14.66" r="0.89" fill="rgb(165,165,165)" opacity="0.7"/>
<circle cx="264.87" cy="23.02" r="0.75" fill="rgb(165,165,165)" opacity="0.7"/>
<circle cx="408.32" cy="53.44" r="0.69" fill="rgb(165,165,165)" opacity="0.7"/>
<rect x="248" y="1" width="198" height="131" fill="#808080" filter="url(#noise)" opacity="0.26"/>
</g>
<text x="252.5" y="12" font-size="8.7" text-anchor="start" fill="#f6f6f6">Control</text>
<text x="252.5" y="21" font-size="8.7" text-anchor="start" fill="#f6f6f6">light 40h</text>
<line x1="392" y1="125.5" x2="440" y2="125.5" stroke="#f2f2f2" stroke-width="1.3"/>
<text x="409.2" y="115.2" font-size="8.6" text-anchor="middle" fill="#f2f2f2">1μm</text>
<g clip-path="url(#c13)"><g filter="url(#semblurb)">
<rect x="35" y="139" width="210" height="143" fill="rgb(121,121,121)"/>
<path d="M56.5,65.29 L27.59,114.4 L28.86,117.92 L71.43,139.75 L82.29,136.81 L82.73,133.85Z" fill="rgb(118,118,118)" stroke="rgb(146,146,146)" stroke-width="2.8"/>
<path d="M145.42,118.06 L141.96,130.89 L138.28,131.85 L108.09,115.73 L137.55,40.09 L142.89,60.3Z" fill="rgb(119,119,119)" stroke="rgb(146,146,146)" stroke-width="2.8"/>
<path d="M145.42,118.06 L185.91,119.6 L142.89,60.3Z" fill="rgb(119,119,119)" stroke="rgb(146,146,146)" stroke-width="2.8"/>
<path d="M197.46,134.04 L196.59,127.57 L241.54,29.88 L252.44,122.45 L231.48,134.81Z" fill="rgb(118,118,118)" stroke="rgb(146,146,146)" stroke-width="2.8"/>
<path d="M28.86,117.92 L28.4,157.87 L-163.05,126.68 L27.59,114.4Z" fill="rgb(119,119,119)" stroke="rgb(146,146,146)" stroke-width="2.8"/>
<path d="M36.31,162.01 L71.43,139.75 L28.86,117.92 L28.4,157.87 L32.4,161.71Z" fill="rgb(122,122,122)" stroke="rgb(146,146,146)" stroke-width="2.8"/>
<path d="M138.28,131.85 L108.09,115.73 L82.73,133.85 L82.29,136.81 L96.57,157.53 L112.45,152.54Z" fill="rgb(122,122,122)" stroke="rgb(146,146,146)" stroke-width="2.8"/>
<path d="M144.6,167.25 L112.45,152.54 L138.28,131.85 L141.96,130.89 L163.9,154.12Z" fill="rgb(119,119,119)" stroke="rgb(146,146,146)" stroke-width="2.8"/>
<path d="M145.42,118.06 L141.96,130.89 L163.9,154.12 L180.34,157.58 L194.77,139.99 L197.46,134.04 L196.59,127.57 L185.91,119.6Z" fill="rgb(121,121,121)" stroke="rgb(146,146,146)" stroke-width="2.8"/>
<path d="M197.46,134.04 L231.48,134.81 L236.13,155.6 L227.35,164.57 L194.77,139.99Z" fill="rgb(123,123,123)" stroke="rgb(146,146,146)" stroke-width="2.8"/>
<path d="M236.13,155.6 L261.37,162.39 L277.86,144.57 L252.44,122.45 L231.48,134.81Z" fill="rgb(121,121,121)" stroke="rgb(146,146,146)" stroke-width="2.8"/>
<path d="M32.4,161.71 L28.4,157.87 L-163.05,126.68 L-291.28,120.04 L1.1,205.37 L26.64,174.81Z" fill="rgb(120,120,120)" stroke="rgb(146,146,146)" stroke-width="2.8"/>
<path d="M36.31,162.01 L62.98,188.75 L44.79,211.94 L26.64,174.81 L32.4,161.71Z" fill="rgb(118,118,118)" stroke="rgb(146,146,146)" stroke-width="2.8"/>
<path d="M96.28,164.68 L96.57,157.53 L82.29,136.81 L71.43,139.75 L36.31,162.01 L62.98,188.75 L67.53,188.44Z" fill="rgb(122,122,122)" stroke="rgb(146,146,146)" stroke-width="2.8"/>
<path d="M144.6,167.25 L137.27,182.16 L111.08,186.06 L96.28,164.68 L96.57,157.53 L112.45,152.54Z" fill="rgb(122,122,122)" stroke="rgb(146,146,146)" stroke-width="2.8"/>
<path d="M144.6,167.25 L137.27,182.16 L160.51,211.76 L164.61,210.26 L186.69,183.34 L180.34,157.58 L163.9,154.12Z" fill="rgb(118,118,118)" stroke="rgb(146,146,146)" stroke-width="2.8"/>
<path d="M194.77,139.99 L180.34,157.58 L186.69,183.34 L198.06,187.88 L227.05,189.71 L227.35,164.57Z" fill="rgb(119,119,119)" stroke="rgb(146,146,146)" stroke-width="2.8"/>
<path d="M236.13,155.6 L261.37,162.39 L257.09,175.93 L234.54,194.23 L227.05,189.71 L227.35,164.57Z" fill="rgb(123,123,123)" stroke="rgb(146,146,146)" stroke-width="2.8"/>
<path d="M261.37,162.39 L277.86,144.57 L283.17,144.56 L315.54,165.84 L287.53,201.18 L257.09,175.93Z" fill="rgb(121,121,121)" stroke="rgb(146,146,146)" stroke-width="2.8"/>
<path d="M20.54,225.88 L1.1,205.37 L26.64,174.81 L44.79,211.94 L40.34,222.19Z" fill="rgb(120,120,120)" stroke="rgb(146,146,146)" stroke-width="2.8"/>
<path d="M40.34,222.19 L44.79,211.94 L62.98,188.75 L67.53,188.44 L92.79,224.55 L91.59,227.79 L70.17,241.85Z" fill="rgb(118,118,118)" stroke="rgb(146,146,146)" stroke-width="2.8"/>
<path d="M92.79,224.55 L67.53,188.44 L96.28,164.68 L111.08,186.06 L110.16,208.64Z" fill="rgb(118,118,118)" stroke="rgb(146,146,146)" stroke-width="2.8"/>
<path d="M110.16,208.64 L150.01,222.38 L160.51,211.76 L137.27,182.16 L111.08,186.06Z" fill="rgb(121,121,121)" stroke="rgb(146,146,146)" stroke-width="2.8"/>
<path d="M207.91,232.36 L198.06,187.88 L186.69,183.34 L164.61,210.26 L195.39,236.24 L205.11,237.06Z" fill="rgb(122,122,122)" stroke="rgb(146,146,146)" stroke-width="2.8"/>
<path d="M239.72,210.01 L234.54,194.23 L227.05,189.71 L198.06,187.88 L207.91,232.36Z" fill="rgb(123,123,123)" stroke="rgb(146,146,146)" stroke-width="2.8"/>
<path d="M259.32,226.61 L284.12,216.31 L287.53,201.18 L257.09,175.93 L234.54,194.23 L239.72,210.01Z" fill="rgb(122,122,122)" stroke="rgb(146,146,146)" stroke-width="2.8"/>
<path d="M9.11,259.57 L55.63,267.17 L63.94,265.38 L69.51,248.69 L70.17,241.85 L40.34,222.19 L20.54,225.88Z" fill="rgb(120,120,120)" stroke="rgb(146,146,146)" stroke-width="2.8"/>
<path d="M70.17,241.85 L91.59,227.79 L121.96,255.66 L114.58,273.87 L69.51,248.69Z" fill="rgb(122,122,122)" stroke="rgb(146,146,146)" stroke-width="2.8"/>
<path d="M92.79,224.55 L91.59,227.79 L121.96,255.66 L146.3,245.43 L150.01,222.38 L110.16,208.64Z" fill="rgb(118,118,118)" stroke="rgb(146,146,146)" stroke-width="2.8"/>
<path d="M146.3,245.43 L165.56,265.84 L195.39,236.24 L164.61,210.26 L160.51,211.76 L150.01,222.38Z" fill="rgb(121,121,121)" stroke="rgb(146,146,146)" stroke-width="2.8"/>
<path d="M205.11,237.06 L195.39,236.24 L165.56,265.84 L168.24,274.21 L214.02,252.47Z" fill="rgb(122,122,122)" stroke="rgb(146,146,146)" stroke-width="2.8"/>
<path d="M257,238.3 L222.09,260.65 L214.02,252.47 L205.11,237.06 L207.91,232.36 L239.72,210.01 L259.32,226.61Z" fill="rgb(118,118,118)" stroke="rgb(146,146,146)" stroke-width="2.8"/>
<path d="M9.11,259.57 L-0.74,270.26 L17.82,302.34 L27.8,299.81 L55.63,267.17Z" fill="rgb(120,120,120)" stroke="rgb(146,146,146)" stroke-width="2.8"/>
<path d="M55.63,267.17 L27.8,299.81 L73.05,303.88 L79.13,298.17 L63.94,265.38Z" fill="rgb(118,118,118)" stroke="rgb(146,146,146)" stroke-width="2.8"/>
<path d="M69.51,248.69 L114.58,273.87 L113.96,279.29 L82.86,298.38 L79.13,298.17 L63.94,265.38Z" fill="rgb(119,119,119)" stroke="rgb(146,146,146)" stroke-width="2.8"/>
<path d="M146.3,245.43 L165.56,265.84 L168.24,274.21 L168.37,275.31 L143.06,302.93 L113.96,279.29 L114.58,273.87 L121.96,255.66Z" fill="rgb(119,119,119)" stroke="rgb(146,146,146)" stroke-width="2.8"/>
<path d="M222.09,260.65 L222.09,260.73 L211.79,281.62 L188.97,288.54 L168.37,275.31 L168.24,274.21 L214.02,252.47Z" fill="rgb(119,119,119)" stroke="rgb(146,146,146)" stroke-width="2.8"/>
<path d="M211.79,281.62 L222.09,260.73 L261.67,291.73 L260.61,295.02 L217.95,290.52Z" fill="rgb(118,118,118)" stroke="rgb(146,146,146)" stroke-width="2.8"/>
<path d="M257,238.3 L276.34,275.65 L261.67,291.73 L222.09,260.73 L222.09,260.65Z" fill="rgb(122,122,122)" stroke="rgb(146,146,146)" stroke-width="2.8"/>
<path d="M27.8,299.81 L73.05,303.88 L-31.36,614.11 L17.82,302.34Z" fill="rgb(118,118,118)" stroke="rgb(146,146,146)" stroke-width="2.8"/>
<path d="M82.86,298.38 L143.38,362.38 L143.06,302.93 L113.96,279.29Z" fill="rgb(121,121,121)" stroke="rgb(146,146,146)" stroke-width="2.8"/>
<path d="M209.51,588.8 L143.38,362.38 L143.06,302.93 L168.37,275.31 L188.97,288.54Z" fill="rgb(119,119,119)" stroke="rgb(146,146,146)" stroke-width="2.8"/>
<path d="M243.61,738.92 L245.99,520.7 L217.95,290.52 L211.79,281.62 L188.97,288.54 L209.51,588.8Z" fill="rgb(121,121,121)" stroke="rgb(146,146,146)" stroke-width="2.8"/>
<path d="M217.95,290.52 L260.61,295.02 L245.99,520.7Z" fill="rgb(119,119,119)" stroke="rgb(146,146,146)" stroke-width="2.8"/>
<path d="M56.5,65.29 L27.59,114.4 L28.86,117.92 L71.43,139.75 L82.29,136.81 L82.73,133.85Z" fill="none" stroke="rgb(84,84,84)" stroke-width="1.15"/>
<path d="M145.42,118.06 L141.96,130.89 L138.28,131.85 L108.09,115.73 L137.55,40.09 L142.89,60.3Z" fill="none" stroke="rgb(84,84,84)" stroke-width="1.15"/>
<path d="M145.42,118.06 L185.91,119.6 L142.89,60.3Z" fill="none" stroke="rgb(84,84,84)" stroke-width="1.15"/>
<path d="M197.46,134.04 L196.59,127.57 L241.54,29.88 L252.44,122.45 L231.48,134.81Z" fill="none" stroke="rgb(84,84,84)" stroke-width="1.15"/>
<path d="M28.86,117.92 L28.4,157.87 L-163.05,126.68 L27.59,114.4Z" fill="none" stroke="rgb(84,84,84)" stroke-width="1.15"/>
<path d="M36.31,162.01 L71.43,139.75 L28.86,117.92 L28.4,157.87 L32.4,161.71Z" fill="none" stroke="rgb(84,84,84)" stroke-width="1.15"/>
<path d="M138.28,131.85 L108.09,115.73 L82.73,133.85 L82.29,136.81 L96.57,157.53 L112.45,152.54Z" fill="none" stroke="rgb(84,84,84)" stroke-width="1.15"/>
<path d="M144.6,167.25 L112.45,152.54 L138.28,131.85 L141.96,130.89 L163.9,154.12Z" fill="none" stroke="rgb(84,84,84)" stroke-width="1.15"/>
<path d="M145.42,118.06 L141.96,130.89 L163.9,154.12 L180.34,157.58 L194.77,139.99 L197.46,134.04 L196.59,127.57 L185.91,119.6Z" fill="none" stroke="rgb(84,84,84)" stroke-width="1.15"/>
<path d="M197.46,134.04 L231.48,134.81 L236.13,155.6 L227.35,164.57 L194.77,139.99Z" fill="none" stroke="rgb(84,84,84)" stroke-width="1.15"/>
<path d="M236.13,155.6 L261.37,162.39 L277.86,144.57 L252.44,122.45 L231.48,134.81Z" fill="none" stroke="rgb(84,84,84)" stroke-width="1.15"/>
<path d="M32.4,161.71 L28.4,157.87 L-163.05,126.68 L-291.28,120.04 L1.1,205.37 L26.64,174.81Z" fill="none" stroke="rgb(84,84,84)" stroke-width="1.15"/>
<path d="M36.31,162.01 L62.98,188.75 L44.79,211.94 L26.64,174.81 L32.4,161.71Z" fill="none" stroke="rgb(84,84,84)" stroke-width="1.15"/>
<path d="M96.28,164.68 L96.57,157.53 L82.29,136.81 L71.43,139.75 L36.31,162.01 L62.98,188.75 L67.53,188.44Z" fill="none" stroke="rgb(84,84,84)" stroke-width="1.15"/>
<path d="M144.6,167.25 L137.27,182.16 L111.08,186.06 L96.28,164.68 L96.57,157.53 L112.45,152.54Z" fill="none" stroke="rgb(84,84,84)" stroke-width="1.15"/>
<path d="M144.6,167.25 L137.27,182.16 L160.51,211.76 L164.61,210.26 L186.69,183.34 L180.34,157.58 L163.9,154.12Z" fill="none" stroke="rgb(84,84,84)" stroke-width="1.15"/>
<path d="M194.77,139.99 L180.34,157.58 L186.69,183.34 L198.06,187.88 L227.05,189.71 L227.35,164.57Z" fill="none" stroke="rgb(84,84,84)" stroke-width="1.15"/>
<path d="M236.13,155.6 L261.37,162.39 L257.09,175.93 L234.54,194.23 L227.05,189.71 L227.35,164.57Z" fill="none" stroke="rgb(84,84,84)" stroke-width="1.15"/>
<path d="M261.37,162.39 L277.86,144.57 L283.17,144.56 L315.54,165.84 L287.53,201.18 L257.09,175.93Z" fill="none" stroke="rgb(84,84,84)" stroke-width="1.15"/>
<path d="M20.54,225.88 L1.1,205.37 L26.64,174.81 L44.79,211.94 L40.34,222.19Z" fill="none" stroke="rgb(84,84,84)" stroke-width="1.15"/>
<path d="M40.34,222.19 L44.79,211.94 L62.98,188.75 L67.53,188.44 L92.79,224.55 L91.59,227.79 L70.17,241.85Z" fill="none" stroke="rgb(84,84,84)" stroke-width="1.15"/>
<path d="M92.79,224.55 L67.53,188.44 L96.28,164.68 L111.08,186.06 L110.16,208.64Z" fill="none" stroke="rgb(84,84,84)" stroke-width="1.15"/>
<path d="M110.16,208.64 L150.01,222.38 L160.51,211.76 L137.27,182.16 L111.08,186.06Z" fill="none" stroke="rgb(84,84,84)" stroke-width="1.15"/>
<path d="M207.91,232.36 L198.06,187.88 L186.69,183.34 L164.61,210.26 L195.39,236.24 L205.11,237.06Z" fill="none" stroke="rgb(84,84,84)" stroke-width="1.15"/>
<path d="M239.72,210.01 L234.54,194.23 L227.05,189.71 L198.06,187.88 L207.91,232.36Z" fill="none" stroke="rgb(84,84,84)" stroke-width="1.15"/>
<path d="M259.32,226.61 L284.12,216.31 L287.53,201.18 L257.09,175.93 L234.54,194.23 L239.72,210.01Z" fill="none" stroke="rgb(84,84,84)" stroke-width="1.15"/>
<path d="M9.11,259.57 L55.63,267.17 L63.94,265.38 L69.51,248.69 L70.17,241.85 L40.34,222.19 L20.54,225.88Z" fill="none" stroke="rgb(84,84,84)" stroke-width="1.15"/>
<path d="M70.17,241.85 L91.59,227.79 L121.96,255.66 L114.58,273.87 L69.51,248.69Z" fill="none" stroke="rgb(84,84,84)" stroke-width="1.15"/>
<path d="M92.79,224.55 L91.59,227.79 L121.96,255.66 L146.3,245.43 L150.01,222.38 L110.16,208.64Z" fill="none" stroke="rgb(84,84,84)" stroke-width="1.15"/>
<path d="M146.3,245.43 L165.56,265.84 L195.39,236.24 L164.61,210.26 L160.51,211.76 L150.01,222.38Z" fill="none" stroke="rgb(84,84,84)" stroke-width="1.15"/>
<path d="M205.11,237.06 L195.39,236.24 L165.56,265.84 L168.24,274.21 L214.02,252.47Z" fill="none" stroke="rgb(84,84,84)" stroke-width="1.15"/>
<path d="M257,238.3 L222.09,260.65 L214.02,252.47 L205.11,237.06 L207.91,232.36 L239.72,210.01 L259.32,226.61Z" fill="none" stroke="rgb(84,84,84)" stroke-width="1.15"/>
<path d="M9.11,259.57 L-0.74,270.26 L17.82,302.34 L27.8,299.81 L55.63,267.17Z" fill="none" stroke="rgb(84,84,84)" stroke-width="1.15"/>
<path d="M55.63,267.17 L27.8,299.81 L73.05,303.88 L79.13,298.17 L63.94,265.38Z" fill="none" stroke="rgb(84,84,84)" stroke-width="1.15"/>
<path d="M69.51,248.69 L114.58,273.87 L113.96,279.29 L82.86,298.38 L79.13,298.17 L63.94,265.38Z" fill="none" stroke="rgb(84,84,84)" stroke-width="1.15"/>
<path d="M146.3,245.43 L165.56,265.84 L168.24,274.21 L168.37,275.31 L143.06,302.93 L113.96,279.29 L114.58,273.87 L121.96,255.66Z" fill="none" stroke="rgb(84,84,84)" stroke-width="1.15"/>
<path d="M222.09,260.65 L222.09,260.73 L211.79,281.62 L188.97,288.54 L168.37,275.31 L168.24,274.21 L214.02,252.47Z" fill="none" stroke="rgb(84,84,84)" stroke-width="1.15"/>
<path d="M211.79,281.62 L222.09,260.73 L261.67,291.73 L260.61,295.02 L217.95,290.52Z" fill="none" stroke="rgb(84,84,84)" stroke-width="1.15"/>
<path d="M257,238.3 L276.34,275.65 L261.67,291.73 L222.09,260.73 L222.09,260.65Z" fill="none" stroke="rgb(84,84,84)" stroke-width="1.15"/>
<path d="M27.8,299.81 L73.05,303.88 L-31.36,614.11 L17.82,302.34Z" fill="none" stroke="rgb(84,84,84)" stroke-width="1.15"/>
<path d="M82.86,298.38 L143.38,362.38 L143.06,302.93 L113.96,279.29Z" fill="none" stroke="rgb(84,84,84)" stroke-width="1.15"/>
<path d="M209.51,588.8 L143.38,362.38 L143.06,302.93 L168.37,275.31 L188.97,288.54Z" fill="none" stroke="rgb(84,84,84)" stroke-width="1.15"/>
<path d="M243.61,738.92 L245.99,520.7 L217.95,290.52 L211.79,281.62 L188.97,288.54 L209.51,588.8Z" fill="none" stroke="rgb(84,84,84)" stroke-width="1.15"/>
<path d="M217.95,290.52 L260.61,295.02 L245.99,520.7Z" fill="none" stroke="rgb(84,84,84)" stroke-width="1.15"/>
</g>
</g>
<text x="45.5" y="156" font-size="8.7" text-anchor="start" fill="#f6f6f6">TPTA</text>
<text x="45.5" y="165" font-size="8.7" text-anchor="start" fill="#f6f6f6">light 0h</text>
<line x1="185" y1="269.5" x2="233" y2="269.5" stroke="#f2f2f2" stroke-width="1.3"/>
<text x="202.2" y="259.2" font-size="8.6" text-anchor="middle" fill="#f2f2f2">1μm</text>
<g clip-path="url(#c14)"><g filter="url(#semblurb)">
<rect x="242" y="139" width="210" height="143" fill="rgb(121,121,121)"/>
<path d="M298.17,110.66 L293.6,138.76 L261.96,133.02 L255.76,117.08 L290.53,94.01Z" fill="rgb(118,118,118)" stroke="rgb(146,146,146)" stroke-width="2.8"/>
<path d="M261.96,133.02 L252.86,156.67 L242.5,159.58 L221.47,136.89 L238.13,110.37 L255.76,117.08Z" fill="rgb(123,123,123)" stroke="rgb(146,146,146)" stroke-width="2.8"/>
<path d="M293.3,164.24 L272.22,168.42 L252.86,156.67 L261.96,133.02 L293.6,138.76 L298.3,148.18Z" fill="rgb(120,120,120)" stroke="rgb(146,146,146)" stroke-width="2.8"/>
<path d="M315.9,145.39 L330.82,120.05 L298.17,110.66 L293.6,138.76 L298.3,148.18Z" fill="rgb(120,120,120)" stroke="rgb(146,146,146)" stroke-width="2.8"/>
<path d="M340.1,159.68 L357.61,150.8 L354.21,126.3 L339.99,117.1 L330.82,120.05 L315.9,145.39Z" fill="rgb(118,118,118)" stroke="rgb(146,146,146)" stroke-width="2.8"/>
<path d="M361.24,153.03 L357.61,150.8 L354.21,126.3 L378.62,109.7 L401.52,127.25 L397.02,140.96Z" fill="rgb(119,119,119)" stroke="rgb(146,146,146)" stroke-width="2.8"/>
<path d="M397.02,140.96 L401.52,127.25 L417.06,121.61 L435.88,159.34 L433.16,163.78 L409.16,167.44Z" fill="rgb(123,123,123)" stroke="rgb(146,146,146)" stroke-width="2.8"/>
<path d="M435.88,159.34 L417.06,121.61 L421.54,116.48 L446.92,112.01 L464.74,128.88 L466.29,141.19Z" fill="rgb(120,120,120)" stroke="rgb(146,146,146)" stroke-width="2.8"/>
<path d="M226,188.09 L242.5,159.58 L221.47,136.89 L96.56,158.24 L213.13,192.01Z" fill="rgb(118,118,118)" stroke="rgb(146,146,146)" stroke-width="2.8"/>
<path d="M267.25,185.72 L227.49,188.8 L226,188.09 L242.5,159.58 L252.86,156.67 L272.22,168.42Z" fill="rgb(121,121,121)" stroke="rgb(146,146,146)" stroke-width="2.8"/>
<path d="M299.33,173.53 L273.57,206.1 L267.25,185.72 L272.22,168.42 L293.3,164.24Z" fill="rgb(121,121,121)" stroke="rgb(146,146,146)" stroke-width="2.8"/>
<path d="M325.99,188.98 L340.1,159.68 L315.9,145.39 L298.3,148.18 L293.3,164.24 L299.33,173.53 L321.97,193.17Z" fill="rgb(123,123,123)" stroke="rgb(146,146,146)" stroke-width="2.8"/>
<path d="M361.24,153.03 L357.61,150.8 L340.1,159.68 L325.99,188.98 L369.27,185.25 L377.21,181.84Z" fill="rgb(120,120,120)" stroke="rgb(146,146,146)" stroke-width="2.8"/>
<path d="M394.08,185.72 L409.16,167.44 L397.02,140.96 L361.24,153.03 L377.21,181.84 L388.23,188.08Z" fill="rgb(123,123,123)" stroke="rgb(146,146,146)" stroke-width="2.8"/>
<path d="M394.08,185.72 L429,206.32 L443.59,186.35 L433.16,163.78 L409.16,167.44Z" fill="rgb(119,119,119)" stroke="rgb(146,146,146)" stroke-width="2.8"/>
<path d="M443.59,186.35 L433.16,163.78 L435.88,159.34 L466.29,141.19 L502.41,171.71 L458.73,189.67Z" fill="rgb(121,121,121)" stroke="rgb(146,146,146)" stroke-width="2.8"/>
<path d="M227.49,188.8 L257.66,214.82 L227.16,232.97 L220.87,230.23 L213.13,192.01 L226,188.09Z" fill="rgb(120,120,120)" stroke="rgb(146,146,146)" stroke-width="2.8"/>
<path d="M273.57,206.1 L273.58,207.88 L266.44,217.06 L257.66,214.82 L227.49,188.8 L267.25,185.72Z" fill="rgb(119,119,119)" stroke="rgb(146,146,146)" stroke-width="2.8"/>
<path d="M321.97,193.17 L321.95,194.32 L304.07,207.68 L273.58,207.88 L273.57,206.1 L299.33,173.53Z" fill="rgb(121,121,121)" stroke="rgb(146,146,146)" stroke-width="2.8"/>
<path d="M325.99,188.98 L369.27,185.25 L342.7,216.92 L338.62,217.25 L321.95,194.32 L321.97,193.17Z" fill="rgb(118,118,118)" stroke="rgb(146,146,146)" stroke-width="2.8"/>
<path d="M388.23,188.08 L385.75,204.48 L373.81,222.44 L342.7,216.92 L369.27,185.25 L377.21,181.84Z" fill="rgb(120,120,120)" stroke="rgb(146,146,146)" stroke-width="2.8"/>
<path d="M394.08,185.72 L429,206.32 L429.53,212.65 L411.9,225.43 L385.75,204.48 L388.23,188.08Z" fill="rgb(120,120,120)" stroke="rgb(146,146,146)" stroke-width="2.8"/>
<path d="M429,206.32 L443.59,186.35 L458.73,189.67 L462.32,220.83 L439.99,222.13 L429.53,212.65Z" fill="rgb(122,122,122)" stroke="rgb(146,146,146)" stroke-width="2.8"/>
<path d="M458.73,189.67 L502.41,171.71 L655.83,216.49 L488.99,237.37 L462.32,220.83Z" fill="rgb(119,119,119)" stroke="rgb(146,146,146)" stroke-width="2.8"/>
<path d="M266.44,217.06 L257.66,214.82 L227.16,232.97 L250.7,262.91 L269.94,231.57Z" fill="rgb(119,119,119)" stroke="rgb(146,146,146)" stroke-width="2.8"/>
<path d="M304.07,207.68 L299.78,242.06 L269.94,231.57 L266.44,217.06 L273.58,207.88Z" fill="rgb(119,119,119)" stroke="rgb(146,146,146)" stroke-width="2.8"/>
<path d="M321.95,194.32 L338.62,217.25 L331.48,241.73 L318.11,245.65 L301.36,243.9 L299.78,242.06 L304.07,207.68Z" fill="rgb(123,123,123)" stroke="rgb(146,146,146)" stroke-width="2.8"/>
<path d="M373.81,222.44 L342.7,216.92 L338.62,217.25 L331.48,241.73 L348.95,259.74 L379.71,243.78Z" fill="rgb(120,120,120)" stroke="rgb(146,146,146)" stroke-width="2.8"/>
<path d="M385.75,204.48 L411.9,225.43 L403.95,255.91 L402.07,256.83 L379.71,243.78 L373.81,222.44Z" fill="rgb(123,123,123)" stroke="rgb(146,146,146)" stroke-width="2.8"/>
<path d="M429.53,212.65 L411.9,225.43 L403.95,255.91 L427.39,257.08 L436.8,248.52 L439.99,222.13Z" fill="rgb(123,123,123)" stroke="rgb(146,146,146)" stroke-width="2.8"/>
<path d="M439.99,222.13 L436.8,248.52 L473.52,249.23 L488.99,237.37 L462.32,220.83Z" fill="rgb(120,120,120)" stroke="rgb(146,146,146)" stroke-width="2.8"/>
<path d="M248.31,273.4 L180.29,261.31 L220.87,230.23 L227.16,232.97 L250.7,262.91 L250.55,270.52Z" fill="rgb(120,120,120)" stroke="rgb(146,146,146)" stroke-width="2.8"/>
<path d="M269.94,231.57 L250.7,262.91 L250.55,270.52 L287.82,274.16 L301.36,243.9 L299.78,242.06Z" fill="rgb(121,121,121)" stroke="rgb(146,146,146)" stroke-width="2.8"/>
<path d="M297.7,285.79 L287.82,274.16 L301.36,243.9 L318.11,245.65 L316.53,286.52Z" fill="rgb(123,123,123)" stroke="rgb(146,146,146)" stroke-width="2.8"/>
<path d="M325.63,290.64 L316.53,286.52 L318.11,245.65 L331.48,241.73 L348.95,259.74 L348.9,263.37Z" fill="rgb(122,122,122)" stroke="rgb(146,146,146)" stroke-width="2.8"/>
<path d="M402.07,256.83 L398.75,269.38 L366.3,283.12 L348.9,263.37 L348.95,259.74 L379.71,243.78Z" fill="rgb(120,120,120)" stroke="rgb(146,146,146)" stroke-width="2.8"/>
<path d="M436.2,300.12 L448.35,296.2 L451.2,291.17 L427.39,257.08 L403.95,255.91 L402.07,256.83 L398.75,269.38 L402.62,285.97Z" fill="rgb(120,120,120)" stroke="rgb(146,146,146)" stroke-width="2.8"/>
<path d="M427.39,257.08 L451.2,291.17 L456.35,288.65 L473.52,249.23 L436.8,248.52Z" fill="rgb(119,119,119)" stroke="rgb(146,146,146)" stroke-width="2.8"/>
<path d="M473.52,249.23 L488.99,237.37 L655.83,216.49 L1796.27,322.25 L571.25,306.15 L456.35,288.65Z" fill="rgb(121,121,121)" stroke="rgb(146,146,146)" stroke-width="2.8"/>
<path d="M248.31,273.4 L180.29,261.31 L-666.82,474.87 L229.7,304.26 L247.4,279.59Z" fill="rgb(118,118,118)" stroke="rgb(146,146,146)" stroke-width="2.8"/>
<path d="M247.4,279.59 L229.7,304.26 L247.99,336.18 L272.24,313.06Z" fill="rgb(121,121,121)" stroke="rgb(146,146,146)" stroke-width="2.8"/>
<path d="M288.75,307.32 L297.7,285.79 L287.82,274.16 L250.55,270.52 L248.31,273.4 L247.4,279.59 L272.24,313.06 L278.54,313.51Z" fill="rgb(118,118,118)" stroke="rgb(146,146,146)" stroke-width="2.8"/>
<path d="M322.55,330.38 L334.39,312.59 L334.92,310.32 L325.63,290.64 L316.53,286.52 L297.7,285.79 L288.75,307.32Z" fill="rgb(121,121,121)" stroke="rgb(146,146,146)" stroke-width="2.8"/>
<path d="M366.3,283.12 L348.9,263.37 L325.63,290.64 L334.92,310.32 L364.51,299.83Z" fill="rgb(121,121,121)" stroke="rgb(146,146,146)" stroke-width="2.8"/>
<path d="M388.56,316.86 L364.51,299.83 L366.3,283.12 L398.75,269.38 L402.62,285.97Z" fill="rgb(122,122,122)" stroke="rgb(146,146,146)" stroke-width="2.8"/>
<path d="M388.56,316.86 L402.62,285.97 L436.2,300.12 L427.62,310.85 L391.13,325.77Z" fill="rgb(121,121,121)" stroke="rgb(146,146,146)" stroke-width="2.8"/>
<path d="M459.3,326.02 L571.25,306.15 L456.35,288.65 L451.2,291.17 L448.35,296.2Z" fill="rgb(121,121,121)" stroke="rgb(146,146,146)" stroke-width="2.8"/>
<path d="M298.17,110.66 L293.6,138.76 L261.96,133.02 L255.76,117.08 L290.53,94.01Z" fill="none" stroke="rgb(84,84,84)" stroke-width="1.15"/>
<path d="M261.96,133.02 L252.86,156.67 L242.5,159.58 L221.47,136.89 L238.13,110.37 L255.76,117.08Z" fill="none" stroke="rgb(84,84,84)" stroke-width="1.15"/>
<path d="M293.3,164.24 L272.22,168.42 L252.86,156.67 L261.96,133.02 L293.6,138.76 L298.3,148.18Z" fill="none" stroke="rgb(84,84,84)" stroke-width="1.15"/>
<path d="M315.9,145.39 L330.82,120.05 L298.17,110.66 L293.6,138.76 L298.3,148.18Z" fill="none" stroke="rgb(84,84,84)" stroke-width="1.15"/>
<path d="M340.1,159.68 L357.61,150.8 L354.21,126.3 L339.99,117.1 L330.82,120.05 L315.9,145.39Z" fill="none" stroke="rgb(84,84,84)" stroke-width="1.15"/>
<path d="M361.24,153.03 L357.61,150.8 L354.21,126.3 L378.62,109.7 L401.52,127.25 L397.02,140.96Z" fill="none" stroke="rgb(84,84,84)" stroke-width="1.15"/>
<path d="M397.02,140.96 L401.52,127.25 L417.06,121.61 L435.88,159.34 L433.16,163.78 L409.16,167.44Z" fill="none" stroke="rgb(84,84,84)" stroke-width="1.15"/>
<path d="M435.88,159.34 L417.06,121.61 L421.54,116.48 L446.92,112.01 L464.74,128.88 L466.29,141.19Z" fill="none" stroke="rgb(84,84,84)" stroke-width="1.15"/>
<path d="M226,188.09 L242.5,159.58 L221.47,136.89 L96.56,158.24 L213.13,192.01Z" fill="none" stroke="rgb(84,84,84)" stroke-width="1.15"/>
<path d="M267.25,185.72 L227.49,188.8 L226,188.09 L242.5,159.58 L252.86,156.67 L272.22,168.42Z" fill="none" stroke="rgb(84,84,84)" stroke-width="1.15"/>
<path d="M299.33,173.53 L273.57,206.1 L267.25,185.72 L272.22,168.42 L293.3,164.24Z" fill="none" stroke="rgb(84,84,84)" stroke-width="1.15"/>
<path d="M325.99,188.98 L340.1,159.68 L315.9,145.39 L298.3,148.18 L293.3,164.24 L299.33,173.53 L321.97,193.17Z" fill="none" stroke="rgb(84,84,84)" stroke-width="1.15"/>
<path d="M361.24,153.03 L357.61,150.8 L340.1,159.68 L325.99,188.98 L369.27,185.25 L377.21,181.84Z" fill="none" stroke="rgb(84,84,84)" stroke-width="1.15"/>
<path d="M394.08,185.72 L409.16,167.44 L397.02,140.96 L361.24,153.03 L377.21,181.84 L388.23,188.08Z" fill="none" stroke="rgb(84,84,84)" stroke-width="1.15"/>
<path d="M394.08,185.72 L429,206.32 L443.59,186.35 L433.16,163.78 L409.16,167.44Z" fill="none" stroke="rgb(84,84,84)" stroke-width="1.15"/>
<path d="M443.59,186.35 L433.16,163.78 L435.88,159.34 L466.29,141.19 L502.41,171.71 L458.73,189.67Z" fill="none" stroke="rgb(84,84,84)" stroke-width="1.15"/>
<path d="M227.49,188.8 L257.66,214.82 L227.16,232.97 L220.87,230.23 L213.13,192.01 L226,188.09Z" fill="none" stroke="rgb(84,84,84)" stroke-width="1.15"/>
<path d="M273.57,206.1 L273.58,207.88 L266.44,217.06 L257.66,214.82 L227.49,188.8 L267.25,185.72Z" fill="none" stroke="rgb(84,84,84)" stroke-width="1.15"/>
<path d="M321.97,193.17 L321.95,194.32 L304.07,207.68 L273.58,207.88 L273.57,206.1 L299.33,173.53Z" fill="none" stroke="rgb(84,84,84)" stroke-width="1.15"/>
<path d="M325.99,188.98 L369.27,185.25 L342.7,216.92 L338.62,217.25 L321.95,194.32 L321.97,193.17Z" fill="none" stroke="rgb(84,84,84)" stroke-width="1.15"/>
<path d="M388.23,188.08 L385.75,204.48 L373.81,222.44 L342.7,216.92 L369.27,185.25 L377.21,181.84Z" fill="none" stroke="rgb(84,84,84)" stroke-width="1.15"/>
<path d="M394.08,185.72 L429,206.32 L429.53,212.65 L411.9,225.43 L385.75,204.48 L388.23,188.08Z" fill="none" stroke="rgb(84,84,84)" stroke-width="1.15"/>
<path d="M429,206.32 L443.59,186.35 L458.73,189.67 L462.32,220.83 L439.99,222.13 L429.53,212.65Z" fill="none" stroke="rgb(84,84,84)" stroke-width="1.15"/>
<path d="M458.73,189.67 L502.41,171.71 L655.83,216.49 L488.99,237.37 L462.32,220.83Z" fill="none" stroke="rgb(84,84,84)" stroke-width="1.15"/>
<path d="M266.44,217.06 L257.66,214.82 L227.16,232.97 L250.7,262.91 L269.94,231.57Z" fill="none" stroke="rgb(84,84,84)" stroke-width="1.15"/>
<path d="M304.07,207.68 L299.78,242.06 L269.94,231.57 L266.44,217.06 L273.58,207.88Z" fill="none" stroke="rgb(84,84,84)" stroke-width="1.15"/>
<path d="M321.95,194.32 L338.62,217.25 L331.48,241.73 L318.11,245.65 L301.36,243.9 L299.78,242.06 L304.07,207.68Z" fill="none" stroke="rgb(84,84,84)" stroke-width="1.15"/>
<path d="M373.81,222.44 L342.7,216.92 L338.62,217.25 L331.48,241.73 L348.95,259.74 L379.71,243.78Z" fill="none" stroke="rgb(84,84,84)" stroke-width="1.15"/>
<path d="M385.75,204.48 L411.9,225.43 L403.95,255.91 L402.07,256.83 L379.71,243.78 L373.81,222.44Z" fill="none" stroke="rgb(84,84,84)" stroke-width="1.15"/>
<path d="M429.53,212.65 L411.9,225.43 L403.95,255.91 L427.39,257.08 L436.8,248.52 L439.99,222.13Z" fill="none" stroke="rgb(84,84,84)" stroke-width="1.15"/>
<path d="M439.99,222.13 L436.8,248.52 L473.52,249.23 L488.99,237.37 L462.32,220.83Z" fill="none" stroke="rgb(84,84,84)" stroke-width="1.15"/>
<path d="M248.31,273.4 L180.29,261.31 L220.87,230.23 L227.16,232.97 L250.7,262.91 L250.55,270.52Z" fill="none" stroke="rgb(84,84,84)" stroke-width="1.15"/>
<path d="M269.94,231.57 L250.7,262.91 L250.55,270.52 L287.82,274.16 L301.36,243.9 L299.78,242.06Z" fill="none" stroke="rgb(84,84,84)" stroke-width="1.15"/>
<path d="M297.7,285.79 L287.82,274.16 L301.36,243.9 L318.11,245.65 L316.53,286.52Z" fill="none" stroke="rgb(84,84,84)" stroke-width="1.15"/>
<path d="M325.63,290.64 L316.53,286.52 L318.11,245.65 L331.48,241.73 L348.95,259.74 L348.9,263.37Z" fill="none" stroke="rgb(84,84,84)" stroke-width="1.15"/>
<path d="M402.07,256.83 L398.75,269.38 L366.3,283.12 L348.9,263.37 L348.95,259.74 L379.71,243.78Z" fill="none" stroke="rgb(84,84,84)" stroke-width="1.15"/>
<path d="M436.2,300.12 L448.35,296.2 L451.2,291.17 L427.39,257.08 L403.95,255.91 L402.07,256.83 L398.75,269.38 L402.62,285.97Z" fill="none" stroke="rgb(84,84,84)" stroke-width="1.15"/>
<path d="M427.39,257.08 L451.2,291.17 L456.35,288.65 L473.52,249.23 L436.8,248.52Z" fill="none" stroke="rgb(84,84,84)" stroke-width="1.15"/>
<path d="M473.52,249.23 L488.99,237.37 L655.83,216.49 L1796.27,322.25 L571.25,306.15 L456.35,288.65Z" fill="none" stroke="rgb(84,84,84)" stroke-width="1.15"/>
<path d="M248.31,273.4 L180.29,261.31 L-666.82,474.87 L229.7,304.26 L247.4,279.59Z" fill="none" stroke="rgb(84,84,84)" stroke-width="1.15"/>
<path d="M247.4,279.59 L229.7,304.26 L247.99,336.18 L272.24,313.06Z" fill="none" stroke="rgb(84,84,84)" stroke-width="1.15"/>
<path d="M288.75,307.32 L297.7,285.79 L287.82,274.16 L250.55,270.52 L248.31,273.4 L247.4,279.59 L272.24,313.06 L278.54,313.51Z" fill="none" stroke="rgb(84,84,84)" stroke-width="1.15"/>
<path d="M322.55,330.38 L334.39,312.59 L334.92,310.32 L325.63,290.64 L316.53,286.52 L297.7,285.79 L288.75,307.32Z" fill="none" stroke="rgb(84,84,84)" stroke-width="1.15"/>
<path d="M366.3,283.12 L348.9,263.37 L325.63,290.64 L334.92,310.32 L364.51,299.83Z" fill="none" stroke="rgb(84,84,84)" stroke-width="1.15"/>
<path d="M388.56,316.86 L364.51,299.83 L366.3,283.12 L398.75,269.38 L402.62,285.97Z" fill="none" stroke="rgb(84,84,84)" stroke-width="1.15"/>
<path d="M388.56,316.86 L402.62,285.97 L436.2,300.12 L427.62,310.85 L391.13,325.77Z" fill="none" stroke="rgb(84,84,84)" stroke-width="1.15"/>
<path d="M459.3,326.02 L571.25,306.15 L456.35,288.65 L451.2,291.17 L448.35,296.2Z" fill="none" stroke="rgb(84,84,84)" stroke-width="1.15"/>
<ellipse cx="354.19" cy="184.48" rx="4" ry="3.5" fill="rgb(150,150,150)" stroke="rgb(95,95,95)" stroke-width="0.7"/>
<ellipse cx="313.35" cy="204.18" rx="4" ry="3.5" fill="rgb(150,150,150)" stroke="rgb(95,95,95)" stroke-width="0.7"/>
<ellipse cx="325.08" cy="217.97" rx="4" ry="3.5" fill="rgb(150,150,150)" stroke="rgb(95,95,95)" stroke-width="0.7"/>
</g>
</g>
<text x="252.5" y="156" font-size="8.7" text-anchor="start" fill="#f6f6f6">TPTA</text>
<text x="252.5" y="165" font-size="8.7" text-anchor="start" fill="#f6f6f6">light 40h</text>
<line x1="392" y1="269.5" x2="440" y2="269.5" stroke="#f2f2f2" stroke-width="1.3"/>
<text x="409.2" y="259.2" font-size="8.6" text-anchor="middle" fill="#f2f2f2">1μm</text>
<text x="19.2" y="13.6" font-size="12.5" text-anchor="start" fill="#000" font-weight="bold" letter-spacing="0.4">(a)</text>
<text x="20.2" y="158.2" font-size="12.5" text-anchor="start" fill="#000" font-weight="bold" letter-spacing="0.4">(b)</text>
<path d="M478,34.74 C480.48,34.62 487.93,34.49 492.89,34 C497.85,33.5 503.23,32.96 507.78,31.76 C512.33,30.56 516.46,28.78 520.18,26.8 C523.91,24.81 527.01,21.84 530.11,19.85 C533.21,17.87 535.69,15.84 538.79,14.89 C541.9,13.94 545.62,14.06 548.72,14.14 C551.82,14.23 554.72,14.43 557.4,15.38 C560.09,16.34 562.37,18.07 564.85,19.85 C567.33,21.63 569.81,24.19 572.29,26.05 C574.77,27.92 576.84,29.78 579.74,31.02 C582.63,32.26 585.11,32.88 589.66,33.5 C594.21,34.12 597.93,34.53 607.03,34.74 C616.13,34.95 638.05,34.74 644.25,34.74" fill="none" stroke="#a542f4" stroke-width="1.3" stroke-linecap="round"/>
<path d="M478,57.57 C482.14,57.15 496.61,56.2 502.81,55.09 C509.02,53.97 511.09,52.4 515.22,50.87 C519.36,49.34 523.91,47.77 527.63,45.91 C531.35,44.04 534.87,41.15 537.55,39.7 C540.24,38.25 541.28,37.63 543.76,37.22 C546.24,36.81 549.96,36.89 552.44,37.22 C554.92,37.55 556.16,37.76 558.65,39.21 C561.13,40.65 564.64,43.88 567.33,45.91 C570.02,47.93 571.88,49.83 574.77,51.36 C577.67,52.89 580.15,54.14 584.7,55.09 C589.25,56.04 592.14,56.66 602.07,57.07 C612,57.49 637.22,57.49 644.25,57.57" fill="none" stroke="#dc5474" stroke-width="1.3" stroke-linecap="round"/>
<path d="M478,78.91 C482.14,78.66 496.61,78.16 502.81,77.42 C509.02,76.67 511.09,75.77 515.22,74.44 C519.36,73.12 523.91,71.22 527.63,69.48 C531.35,67.74 534.66,65.47 537.55,64.02 C540.45,62.57 542.31,61.54 545,60.79 C547.69,60.05 551.2,59.76 553.68,59.55 C556.16,59.35 558.02,58.93 559.89,59.55 C561.75,60.17 562.99,61.83 564.85,63.28 C566.71,64.72 568.98,66.67 571.05,68.24 C573.12,69.81 575.19,71.46 577.26,72.7 C579.32,73.95 580.98,74.86 583.46,75.68 C585.94,76.51 588.22,77.17 592.14,77.67 C596.07,78.16 598.35,78.45 607.03,78.66 C615.72,78.87 638.05,78.87 644.25,78.91" fill="none" stroke="#e8965a" stroke-width="1.3" stroke-linecap="round"/>
<path d="M478,96.28 C482.14,96.03 495.37,95.45 502.81,94.79 C510.26,94.13 516.46,93.42 522.67,92.31 C528.87,91.19 535.07,89.5 540.03,88.09 C545,86.68 548.93,85.07 552.44,83.87 C555.96,82.67 558.65,80.89 561.13,80.89 C563.61,80.89 564.64,82.67 567.33,83.87 C570.02,85.07 573.53,86.77 577.26,88.09 C580.98,89.41 584.7,90.69 589.66,91.81 C594.63,92.93 597.93,94.04 607.03,94.79 C616.13,95.53 638.05,96.03 644.25,96.28" fill="none" stroke="#5cc0f5" stroke-width="1.3" stroke-linecap="round"/>
<path d="M478,111.66 C482.14,111.46 495.37,110.96 502.81,110.42 C510.26,109.88 516.05,109.26 522.67,108.44 C529.28,107.61 537.14,106.58 542.52,105.46 C547.89,104.34 551.82,102.89 554.92,101.74 C558.02,100.58 559.27,98.72 561.13,98.51 C562.99,98.3 563.4,99.46 566.09,100.5 C568.78,101.53 572.91,103.39 577.26,104.71 C581.6,106.04 586.35,107.49 592.14,108.44 C597.93,109.39 603.31,109.97 612,110.42 C620.68,110.88 638.88,111.04 644.25,111.17" fill="none" stroke="#6e6e6e" stroke-width="1.3" stroke-linecap="round"/>
<line x1="548.72" y1="11.17" x2="548.72" y2="17.37" stroke="#222" stroke-width="0.8"/>
<line x1="548.72" y1="34" x2="548.72" y2="40.94" stroke="#222" stroke-width="0.8"/>
<line x1="554.43" y1="56.58" x2="554.43" y2="62.53" stroke="#222" stroke-width="0.8"/>
<line x1="561.13" y1="78.91" x2="561.13" y2="84.86" stroke="#222" stroke-width="0.8"/>
<line x1="561.13" y1="96.28" x2="561.13" y2="102.23" stroke="#222" stroke-width="0.8"/>
<text x="530.61" y="11.91" font-size="7.2" text-anchor="middle" fill="#222">14.12°</text>
<text x="538.05" y="32.51" font-size="7.2" text-anchor="middle" fill="#222">14.12°</text>
<text x="540.03" y="56.08" font-size="7.2" text-anchor="middle" fill="#222">14.18°</text>
<text x="545.49" y="78.91" font-size="7.2" text-anchor="middle" fill="#222">14.24°</text>
<text x="547.98" y="96.28" font-size="7.2" text-anchor="middle" fill="#222">14.24°</text>
<line x1="606.5" y1="29.28" x2="623" y2="29.28" stroke="#a542f4" stroke-width="1.3"/>
<text x="624.2" y="31.78" font-size="7.4" text-anchor="start" fill="#222">a=0.8°</text>
<line x1="606.5" y1="50.87" x2="623" y2="50.87" stroke="#dc5474" stroke-width="1.3"/>
<text x="624.2" y="53.37" font-size="7.4" text-anchor="start" fill="#222">a=0.6°</text>
<line x1="606.5" y1="72.7" x2="623" y2="72.7" stroke="#e8965a" stroke-width="1.3"/>
<text x="624.2" y="75.2" font-size="7.4" text-anchor="start" fill="#222">a=0.4°</text>
<line x1="606.5" y1="90.07" x2="623" y2="90.07" stroke="#5cc0f5" stroke-width="1.3"/>
<text x="624.2" y="92.57" font-size="7.4" text-anchor="start" fill="#222">a=0.2°</text>
<line x1="606.5" y1="104.96" x2="623" y2="104.96" stroke="#6e6e6e" stroke-width="1.3"/>
<text x="624.2" y="107.46" font-size="7.4" text-anchor="start" fill="#222">a=0.1°</text>
<text x="480.5" y="10.3" font-size="7.3" text-anchor="start" fill="#111">Control</text>
<text x="480.5" y="20" font-size="7.3" text-anchor="start" fill="#111">(1 0 0)</text>
<rect x="478.7" y="2.2" width="167" height="123.1" fill="none" stroke="#000" stroke-width="1.5"/>
<line x1="489.83" y1="125.3" x2="489.83" y2="127.3" stroke="#000" stroke-width="1.2"/>
<text x="489.83" y="135.5" font-size="8" text-anchor="middle" fill="#222">13.6</text>
<line x1="512.1" y1="125.3" x2="512.1" y2="127.3" stroke="#000" stroke-width="1.2"/>
<text x="512.1" y="135.5" font-size="8" text-anchor="middle" fill="#222">13.8</text>
<line x1="534.37" y1="125.3" x2="534.37" y2="127.3" stroke="#000" stroke-width="1.2"/>
<text x="534.37" y="135.5" font-size="8" text-anchor="middle" fill="#222">14.0</text>
<line x1="556.63" y1="125.3" x2="556.63" y2="127.3" stroke="#000" stroke-width="1.2"/>
<text x="556.63" y="135.5" font-size="8" text-anchor="middle" fill="#222">14.2</text>
<line x1="578.9" y1="125.3" x2="578.9" y2="127.3" stroke="#000" stroke-width="1.2"/>
<text x="578.9" y="135.5" font-size="8" text-anchor="middle" fill="#222">14.4</text>
<line x1="601.17" y1="125.3" x2="601.17" y2="127.3" stroke="#000" stroke-width="1.2"/>
<text x="601.17" y="135.5" font-size="8" text-anchor="middle" fill="#222">14.6</text>
<line x1="623.43" y1="125.3" x2="623.43" y2="127.3" stroke="#000" stroke-width="1.2"/>
<text x="623.43" y="135.5" font-size="8" text-anchor="middle" fill="#222">14.8</text>
<line x1="645.7" y1="125.3" x2="645.7" y2="127.3" stroke="#000" stroke-width="1.2"/>
<text x="645.7" y="135.5" font-size="8" text-anchor="middle" fill="#222">15.0</text>
<line x1="478.7" y1="125.3" x2="478.7" y2="126.6" stroke="#000" stroke-width="0.9"/>
<line x1="500.97" y1="125.3" x2="500.97" y2="126.6" stroke="#000" stroke-width="0.9"/>
<line x1="523.23" y1="125.3" x2="523.23" y2="126.6" stroke="#000" stroke-width="0.9"/>
<line x1="545.5" y1="125.3" x2="545.5" y2="126.6" stroke="#000" stroke-width="0.9"/>
<line x1="567.77" y1="125.3" x2="567.77" y2="126.6" stroke="#000" stroke-width="0.9"/>
<line x1="590.03" y1="125.3" x2="590.03" y2="126.6" stroke="#000" stroke-width="0.9"/>
<line x1="612.3" y1="125.3" x2="612.3" y2="126.6" stroke="#000" stroke-width="0.9"/>
<line x1="634.57" y1="125.3" x2="634.57" y2="126.6" stroke="#000" stroke-width="0.9"/>
<text x="562" y="145.3" font-size="10.3" text-anchor="middle" fill="#111">2θ(degree)</text>
<text x="470.2" y="63.4" font-size="10.7" text-anchor="middle" fill="#111" transform="rotate(-90 470.2 63.4)">Intensity (a.u.)</text>
<text x="459.8" y="9.6" font-size="12.5" text-anchor="start" fill="#000" font-weight="bold" letter-spacing="0.4">(c)</text>
<path d="M478,190.18 C482.14,190.1 495.37,190.02 502.81,189.69 C510.26,189.36 517.29,189.15 522.67,188.2 C528.04,187.25 531.76,185.92 535.07,183.98 C538.38,182.04 540.03,178.89 542.52,176.54 C545,174.18 548.1,171.37 549.96,169.84 C551.82,168.31 551.82,167.77 553.68,167.35 C555.54,166.94 558.85,166.78 561.13,167.35 C563.4,167.93 565.06,169.09 567.33,170.83 C569.6,172.57 572.29,175.58 574.77,177.78 C577.26,179.97 579.32,182.24 582.22,183.98 C585.11,185.72 588.01,187.25 592.14,188.2 C596.28,189.15 598.35,189.36 607.03,189.69 C615.72,190.02 638.05,190.1 644.25,190.18" fill="none" stroke="#a542f4" stroke-width="1.3" stroke-linecap="round"/>
<path d="M478,214.5 C482.96,214.38 499.51,214.29 507.78,213.76 C516.05,213.22 522.25,212.72 527.63,211.28 C533,209.83 536.31,207.35 540.03,205.07 C543.76,202.8 547.27,199.49 549.96,197.63 C552.65,195.77 554.3,194.73 556.16,193.91 C558.02,193.08 559.47,192.46 561.13,192.67 C562.78,192.87 564.23,193.7 566.09,195.15 C567.95,196.59 570.02,199.08 572.29,201.35 C574.57,203.62 576.84,206.93 579.74,208.79 C582.63,210.66 585.11,211.61 589.66,212.52 C594.21,213.43 597.93,213.92 607.03,214.25 C616.13,214.58 638.05,214.46 644.25,214.5" fill="none" stroke="#dc5474" stroke-width="1.3" stroke-linecap="round"/>
<path d="M478,234.35 C484.2,234.23 506.12,234.15 515.22,233.61 C524.32,233.07 527.63,232.49 532.59,231.13 C537.55,229.76 541.28,227.28 545,225.42 C548.72,223.56 552.23,221.37 554.92,219.96 C557.61,218.55 559.06,216.98 561.13,216.98 C563.19,216.98 565.06,218.43 567.33,219.96 C569.6,221.49 572.29,224.3 574.77,226.16 C577.26,228.02 578.91,229.89 582.22,231.13 C585.53,232.37 584.29,233.07 594.63,233.61 C604.96,234.15 635.98,234.23 644.25,234.35" fill="none" stroke="#e8965a" stroke-width="1.3" stroke-linecap="round"/>
<path d="M478,250.98 C484.2,250.85 505.71,250.77 515.22,250.23 C524.73,249.7 529.7,248.87 535.07,247.75 C540.45,246.64 543.76,245.02 547.48,243.53 C551.2,242.04 554.72,240.06 557.4,238.82 C560.09,237.58 561.75,236.42 563.61,236.09 C565.47,235.76 566.3,236.01 568.57,236.83 C570.85,237.66 574.15,239.52 577.26,241.05 C580.36,242.58 583.05,244.65 587.18,246.01 C591.32,247.38 592.56,248.41 602.07,249.24 C611.58,250.07 637.22,250.69 644.25,250.98" fill="none" stroke="#5cc0f5" stroke-width="1.3" stroke-linecap="round"/>
<path d="M478,265.12 C484.2,264.96 505.3,264.71 515.22,264.13 C525.15,263.55 531.76,262.6 537.55,261.65 C543.34,260.7 546.65,259.46 549.96,258.42 C553.27,257.39 555.13,256.27 557.4,255.44 C559.68,254.62 561.75,253.67 563.61,253.46 C565.47,253.25 566.3,253.38 568.57,254.2 C570.85,255.03 573.74,257.02 577.26,258.42 C580.77,259.83 584.7,261.61 589.66,262.64 C594.63,263.67 597.93,264.21 607.03,264.63 C616.13,265.04 638.05,265.04 644.25,265.12" fill="none" stroke="#6e6e6e" stroke-width="1.3" stroke-linecap="round"/>
<line x1="561.13" y1="164.13" x2="561.13" y2="171.57" stroke="#222" stroke-width="0.8"/>
<line x1="561.13" y1="188.94" x2="561.13" y2="196.39" stroke="#222" stroke-width="0.8"/>
<line x1="561.13" y1="213.76" x2="561.13" y2="221.2" stroke="#222" stroke-width="0.8"/>
<line x1="561.13" y1="232.37" x2="561.13" y2="239.81" stroke="#222" stroke-width="0.8"/>
<line x1="561.13" y1="249.74" x2="561.13" y2="257.18" stroke="#222" stroke-width="0.8"/>
<text x="547.48" y="165.37" font-size="7.2" text-anchor="middle" fill="#222">14.23°</text>
<text x="547.48" y="191.42" font-size="7.2" text-anchor="middle" fill="#222">14.23°</text>
<text x="548.47" y="215.49" font-size="7.2" text-anchor="middle" fill="#222">14.23°</text>
<text x="548.47" y="235.34" font-size="7.2" text-anchor="middle" fill="#222">14.23°</text>
<text x="548.47" y="252.22" font-size="7.2" text-anchor="middle" fill="#222">14.24°</text>
<line x1="606.5" y1="183.48" x2="623" y2="183.48" stroke="#a542f4" stroke-width="1.3"/>
<text x="624.2" y="185.98" font-size="7.4" text-anchor="start" fill="#222">a=0.8°</text>
<line x1="606.5" y1="208.3" x2="623" y2="208.3" stroke="#dc5474" stroke-width="1.3"/>
<text x="624.2" y="210.8" font-size="7.4" text-anchor="start" fill="#222">a=0.6°</text>
<line x1="606.5" y1="227.4" x2="623" y2="227.4" stroke="#e8965a" stroke-width="1.3"/>
<text x="624.2" y="229.9" font-size="7.4" text-anchor="start" fill="#222">a=0.4°</text>
<line x1="606.5" y1="244.77" x2="623" y2="244.77" stroke="#5cc0f5" stroke-width="1.3"/>
<text x="624.2" y="247.27" font-size="7.4" text-anchor="start" fill="#222">a=0.2°</text>
<line x1="606.5" y1="259.17" x2="623" y2="259.17" stroke="#6e6e6e" stroke-width="1.3"/>
<text x="624.2" y="261.67" font-size="7.4" text-anchor="start" fill="#222">a=0.1°</text>
<text x="480.5" y="160.3" font-size="7.3" text-anchor="start" fill="#111">TPTA</text>
<text x="480.5" y="169.5" font-size="7.3" text-anchor="start" fill="#111">(1 0 0)</text>
<rect x="479.5" y="152.5" width="166" height="122.7" fill="none" stroke="#000" stroke-width="1.5"/>
<line x1="479.5" y1="275.2" x2="479.5" y2="277.2" stroke="#000" stroke-width="1.2"/>
<text x="479.5" y="286.2" font-size="8" text-anchor="middle" fill="#222">13.5</text>
<line x1="534.83" y1="275.2" x2="534.83" y2="277.2" stroke="#000" stroke-width="1.2"/>
<text x="534.83" y="286.2" font-size="8" text-anchor="middle" fill="#222">14.0</text>
<line x1="590.17" y1="275.2" x2="590.17" y2="277.2" stroke="#000" stroke-width="1.2"/>
<text x="590.17" y="286.2" font-size="8" text-anchor="middle" fill="#222">14.5</text>
<line x1="645.5" y1="275.2" x2="645.5" y2="277.2" stroke="#000" stroke-width="1.2"/>
<text x="645.5" y="286.2" font-size="8" text-anchor="middle" fill="#222">15.0</text>
<line x1="507.17" y1="275.2" x2="507.17" y2="276.5" stroke="#000" stroke-width="0.9"/>
<line x1="562.5" y1="275.2" x2="562.5" y2="276.5" stroke="#000" stroke-width="0.9"/>
<line x1="617.83" y1="275.2" x2="617.83" y2="276.5" stroke="#000" stroke-width="0.9"/>
<text x="562" y="295.5" font-size="10.3" text-anchor="middle" fill="#111">2θ(degree)</text>
<text x="470.2" y="212.9" font-size="10.7" text-anchor="middle" fill="#111" transform="rotate(-90 470.2 212.9)">Intensity (a.u.)</text>
<text x="460" y="159.8" font-size="12.5" text-anchor="start" fill="#000" font-weight="bold" letter-spacing="0.3">(d)</text>
<g clip-path="url(#clipE)">
<path d="M45.3,300.5 C45.48,300.97 45.6,300.23 46.4,303.3 C47.2,306.37 48.87,313.25 50.1,318.9 C51.33,324.55 52.43,331.08 53.8,337.2 C55.17,343.32 56.78,349.48 58.3,355.6 C59.82,361.72 61.37,368.4 62.9,373.9 C64.43,379.4 65.82,384.02 67.5,388.6 C69.18,393.18 70.85,397.43 73,401.4 C75.15,405.37 77.65,409.03 80.4,412.4 C83.15,415.77 86.13,418.83 89.5,421.6 C92.87,424.37 96.62,426.87 100.6,429 C104.58,431.13 108.82,432.97 113.4,434.4 C117.98,435.83 123.67,436.9 128.1,437.6 C132.53,438.3 134.68,438.37 140,438.6 C145.32,438.83 151.67,438.92 160,439 C168.33,439.08 179.33,439.08 190,439.1 C200.67,439.12 218.33,439.1 224,439.1" fill="none" stroke="#e8965a" stroke-width="4.4" stroke-linecap="round"/>
<path d="M45.3,299 C45.8,299.1 47.05,296.6 48.3,299.6 C49.55,302.6 51.28,311.35 52.8,317 C54.32,322.65 55.87,328 57.4,333.5 C58.93,339 60.47,344.8 62,350 C63.53,355.2 65.07,360.1 66.6,364.7 C68.13,369.3 69.52,373.32 71.2,377.6 C72.88,381.88 74.57,386.12 76.7,390.4 C78.83,394.68 81.55,399.63 84,403.3 C86.45,406.97 88.63,409.35 91.4,412.4 C94.17,415.45 96.93,418.83 100.6,421.6 C104.27,424.37 108.82,426.87 113.4,429 C117.98,431.13 123.67,433.03 128.1,434.4 C132.53,435.77 135.52,436.43 140,437.2 C144.48,437.97 149.17,438.53 155,439 C160.83,439.47 167.5,439.78 175,440 C182.5,440.22 191.83,440.23 200,440.3 C208.17,440.37 220,440.38 224,440.4" fill="none" stroke="#5cc0f5" stroke-width="4.6" stroke-linecap="round"/>
<path d="M45.3,300.5 C45.48,300.97 45.6,300.23 46.4,303.3 C47.2,306.37 48.87,313.25 50.1,318.9 C51.33,324.55 52.43,331.08 53.8,337.2 C55.17,343.32 56.78,349.48 58.3,355.6 C59.82,361.72 61.37,368.4 62.9,373.9 C64.43,379.4 65.82,384.02 67.5,388.6 C69.18,393.18 70.85,397.43 73,401.4 C75.15,405.37 77.65,409.03 80.4,412.4 C83.15,415.77 86.13,418.83 89.5,421.6 C92.87,424.37 96.62,426.87 100.6,429 C104.58,431.13 108.82,432.97 113.4,434.4 C117.98,435.83 123.67,436.9 128.1,437.6 C132.53,438.3 134.68,438.37 140,438.6 C145.32,438.83 151.67,438.92 160,439 C168.33,439.08 179.33,439.08 190,439.1 C200.67,439.12 218.33,439.1 224,439.1" fill="none" stroke="#f3c9a6" stroke-width="0.6" stroke-linecap="round"/>
<path d="M45.3,299 C45.8,299.1 47.05,296.6 48.3,299.6 C49.55,302.6 51.28,311.35 52.8,317 C54.32,322.65 55.87,328 57.4,333.5 C58.93,339 60.47,344.8 62,350 C63.53,355.2 65.07,360.1 66.6,364.7 C68.13,369.3 69.52,373.32 71.2,377.6 C72.88,381.88 74.57,386.12 76.7,390.4 C78.83,394.68 81.55,399.63 84,403.3 C86.45,406.97 88.63,409.35 91.4,412.4 C94.17,415.45 96.93,418.83 100.6,421.6 C104.27,424.37 108.82,426.87 113.4,429 C117.98,431.13 123.67,433.03 128.1,434.4 C132.53,435.77 135.52,436.43 140,437.2 C144.48,437.97 149.17,438.53 155,439 C160.83,439.47 167.5,439.78 175,440 C182.5,440.22 191.83,440.23 200,440.3 C208.17,440.37 220,440.38 224,440.4" fill="none" stroke="#bfe6fb" stroke-width="0.6" stroke-linecap="round"/>
</g>
<line x1="109.3" y1="419.8" x2="125.4" y2="411" stroke="#5cc0f5" stroke-width="1"/>
<path d="M125.4,411 L122.51,415.09 L120.4,411.23 Z" fill="#5cc0f5"/>
<line x1="74.7" y1="410.1" x2="66.4" y2="425.4" stroke="#e8965a" stroke-width="1"/>
<path d="M66.4,425.4 L66.61,420.4 L70.48,422.49 Z" fill="#e8965a"/>
<text x="129.3" y="410" font-size="9.3" text-anchor="start" fill="#5cc0f5">12.37μs</text>
<text x="51.7" y="437.7" font-size="9.3" text-anchor="start" fill="#e8965a">8.37μs</text>
<circle cx="166.7" cy="307.7" r="2.4" fill="#5cc0f5"/>
<text x="180" y="310.8" font-size="11" text-anchor="start" fill="#111">Control</text>
<line x1="155.5" y1="319.3" x2="177.8" y2="319.3" stroke="#5cc0f5" stroke-width="1.7"/>
<text x="180" y="322.3" font-size="9" text-anchor="start" fill="#111">Fitting line</text>
<circle cx="166.7" cy="333.1" r="2.4" fill="#e8965a"/>
<text x="180.5" y="335.8" font-size="11" text-anchor="start" fill="#111">TPTA</text>
<line x1="155.5" y1="344.7" x2="177.8" y2="344.7" stroke="#e8965a" stroke-width="1.7"/>
<text x="180" y="347.6" font-size="9" text-anchor="start" fill="#111">Fitting line</text>
<rect x="45.3" y="300.1" width="178" height="142.1" fill="none" stroke="#000" stroke-width="1.6"/>
<line x1="42.6" y1="442.2" x2="45.3" y2="442.2" stroke="#000" stroke-width="1.2"/>
<text x="41.3" y="445.5" font-size="9.5" text-anchor="end" fill="#222">0.0</text>
<line x1="42.6" y1="413.78" x2="45.3" y2="413.78" stroke="#000" stroke-width="1.2"/>
<text x="41.3" y="417.08" font-size="9.5" text-anchor="end" fill="#222">0.2</text>
<line x1="42.6" y1="385.36" x2="45.3" y2="385.36" stroke="#000" stroke-width="1.2"/>
<text x="41.3" y="388.66" font-size="9.5" text-anchor="end" fill="#222">0.4</text>
<line x1="42.6" y1="356.94" x2="45.3" y2="356.94" stroke="#000" stroke-width="1.2"/>
<text x="41.3" y="360.24" font-size="9.5" text-anchor="end" fill="#222">0.6</text>
<line x1="42.6" y1="328.52" x2="45.3" y2="328.52" stroke="#000" stroke-width="1.2"/>
<text x="41.3" y="331.82" font-size="9.5" text-anchor="end" fill="#222">0.8</text>
<line x1="42.6" y1="300.1" x2="45.3" y2="300.1" stroke="#000" stroke-width="1.2"/>
<text x="41.3" y="303.4" font-size="9.5" text-anchor="end" fill="#222">1.0</text>
<line x1="43.4" y1="427.99" x2="45.3" y2="427.99" stroke="#000" stroke-width="0.9"/>
<line x1="43.4" y1="399.57" x2="45.3" y2="399.57" stroke="#000" stroke-width="0.9"/>
<line x1="43.4" y1="371.15" x2="45.3" y2="371.15" stroke="#000" stroke-width="0.9"/>
<line x1="43.4" y1="342.73" x2="45.3" y2="342.73" stroke="#000" stroke-width="0.9"/>
<line x1="43.4" y1="314.31" x2="45.3" y2="314.31" stroke="#000" stroke-width="0.9"/>
<line x1="45.3" y1="442.2" x2="45.3" y2="444.9" stroke="#000" stroke-width="1.2"/>
<text x="45.3" y="454.5" font-size="9.5" text-anchor="middle" fill="#222">0</text>
<line x1="95.97" y1="442.2" x2="95.97" y2="444.9" stroke="#000" stroke-width="1.2"/>
<text x="95.97" y="454.5" font-size="9.5" text-anchor="middle" fill="#222">1</text>
<line x1="146.64" y1="442.2" x2="146.64" y2="444.9" stroke="#000" stroke-width="1.2"/>
<text x="146.64" y="454.5" font-size="9.5" text-anchor="middle" fill="#222">2</text>
<line x1="197.31" y1="442.2" x2="197.31" y2="444.9" stroke="#000" stroke-width="1.2"/>
<text x="197.31" y="454.5" font-size="9.5" text-anchor="middle" fill="#222">3</text>
<line x1="70.63" y1="442.2" x2="70.63" y2="444.1" stroke="#000" stroke-width="0.9"/>
<line x1="121.3" y1="442.2" x2="121.3" y2="444.1" stroke="#000" stroke-width="0.9"/>
<line x1="171.97" y1="442.2" x2="171.97" y2="444.1" stroke="#000" stroke-width="0.9"/>
<line x1="222.64" y1="442.2" x2="222.64" y2="444.1" stroke="#000" stroke-width="0.9"/>
<text x="134.3" y="471.3" font-size="12.2" text-anchor="middle" fill="#111">Time (μs)</text>
<text x="25.3" y="371.2" font-size="12.8" text-anchor="middle" fill="#111" transform="rotate(-90 25.3 371.2)">Normalized TPC</text>
<text x="12.8" y="309.4" font-size="12.3" text-anchor="start" fill="#000" font-weight="bold">(e)</text>
<g clip-path="url(#clipF)">
<polyline points="263,299.38 263.59,301.35 264.18,301.44 264.78,305.12 265.37,305.82 265.96,307.97 266.55,310.19 267.14,311.37 267.74,312.89 268.33,314.73 268.92,316.57 269.51,320.4 270.1,321.75 270.7,323.14 271.29,327.07 271.88,327.55 272.47,329.96 273.06,331.7 273.66,334.61 274.25,336.53 274.84,338.4 275.43,339.18 276.02,340.88 276.62,342.45 277.21,344.29 277.8,345.46 278.39,347.16 278.98,350.88 279.58,352.34 280.17,351.77 280.76,352.77 281.35,354.66 281.94,357.38 282.54,359.02 283.13,358.48 283.72,361.34 284.31,361.03 284.9,363.55 285.49,365.05 286.09,367.14 286.68,366.43 287.27,369.03 287.86,370.39 288.45,371.71 289.05,370.5 289.64,372.83 290.23,375.24 290.82,374.82 291.41,376.98 292.01,377.37 292.6,379.05 293.19,379.39 293.78,379.29 294.37,380.53 294.97,381.62 295.56,382.95 296.15,385.77 296.74,385.87 297.33,387.32 297.93,387.63 298.52,388.78 299.11,390.2 299.7,391.46 300.29,392.39 300.89,393.13 301.48,392.19 302.07,393.83 302.66,393.72 303.25,395.78 303.85,397.17 304.44,395.96 305.03,397.06 305.62,398.25 306.21,398.67 306.81,400.84 307.4,400.43 307.99,401.91 308.58,402.27 309.17,403.24 309.77,404.81 310.36,405.41 310.95,403.84 311.54,406.34 312.13,405.63 312.73,405.59 313.32,406.91 313.91,407.84 314.5,409.6 315.09,408.66 315.69,408.32 316.28,411.11 316.87,409.71 317.46,411.07 318.05,412.45 318.65,411.99 319.24,412.23 319.83,413.56 320.42,411.94 321.01,413.79 321.61,413.78 322.2,415.69 322.79,415.62 323.38,414.09 323.97,414.85 324.57,415.95 325.16,417.01 325.75,416.46 326.34,416.86 326.93,418.61 327.53,418.99 328.12,417.87 328.71,419.44 329.3,418.26 329.89,417.91 330.48,419.36 331.08,420.01 331.67,420.91 332.26,421.39 332.85,421.18 333.44,421.45 334.04,421.61 334.63,421.89 335.22,422.34 335.81,423.07 336.4,421.71 337,421.15 337.59,421.76 338.18,421.91 338.77,422.48 339.36,423.84 339.96,422.09 340.55,423.3 341.14,424.45 341.73,423.22 342.32,422.89 342.92,423.56 343.51,423.35 344.1,425.43 344.69,423.97 345.28,424.23 345.88,426.04 346.47,426.17 347.06,425.71 347.65,426.67 348.24,424.55 348.84,427.01 349.43,426.1 350.02,425.51 350.61,426.98 351.2,426.66 351.8,427.62 352.39,425.44 352.98,426.78 353.57,426.61 354.16,427.19 354.76,426.23 355.35,425.79 355.94,427.23 356.53,426.88 357.12,428.36 357.72,427.34 358.31,427.32 358.9,427.95 359.49,427.74 360.08,428.93 360.68,428.55 361.27,427.86 361.86,427.18 362.45,428.27 363.04,428.71 363.64,428.8 364.23,429.48 364.82,427.54 365.41,428.14 366,428.2 366.6,428 367.19,428.18 367.78,428.54 368.37,428.77 368.96,428.12 369.56,427.85 370.15,428.35 370.74,427.99 371.33,428.52 371.92,429.53 372.52,429.39 373.11,430.49 373.7,429.42 374.29,429.45 374.88,429.76 375.47,430.05 376.07,429.83 376.66,429.82 377.25,429.93 377.84,429.35 378.43,430.51 379.03,430.13 379.62,429.43 380.21,429.33 380.8,428.94 381.39,429.73 381.99,428.92 382.58,429.39 383.17,429.18 383.76,429.81 384.35,430.06 384.95,430.76 385.54,431.3 386.13,430.98 386.72,429.83 387.31,431.81 387.91,431.45 388.5,430.91 389.09,431.36 389.68,431.07 390.27,430.25 390.87,431.55 391.46,432.52 392.05,432.02 392.64,430.55 393.23,430.46 393.83,432.62 394.42,432.6 395.01,432.21 395.6,432.27 396.19,430.69 396.79,432.46 397.38,430.87 397.97,430.81 398.56,431.49 399.15,430.46 399.75,432.69 400.34,430.93 400.93,432.47 401.52,432.09 402.11,432.6 402.71,432.19 403.3,433.16 403.89,431.67 404.48,432 405.07,431.62 405.67,432.7 406.26,431.58 406.85,432.9 407.44,431.08 408.03,431.49 408.63,432.05 409.22,431.27 409.81,431.49 410.4,433.18 410.99,431.99 411.59,431.62 412.18,433.28 412.77,432.6 413.36,432.78 413.95,433.47 414.55,433.05 415.14,431.91 415.73,431.27 416.32,432.7 416.91,433.14 417.51,433.43 418.1,431.85 418.69,433.04 419.28,433.86 419.87,432.11 420.46,432.23 421.06,432.61 421.65,433.01 422.24,434.13 422.83,433.11 423.42,433.92 424.02,433.35 424.61,432.9 425.2,432.49 425.79,432.64 426.38,433.77 426.98,432.24 427.57,432.17 428.16,432.39 428.75,433.6 429.34,432.86 429.94,432.46 430.53,432.81 431.12,432.19 431.71,433.14 432.3,434.14 432.9,433.22 433.49,433.25 434.08,432.19 434.67,432.87 435.26,432.37 435.86,432.33 436.45,434.48 437.04,434.12 437.63,434.45 438.22,432.66 438.82,433.29 439.41,434.75 440,433.53" fill="none" stroke="#e8965a" stroke-width="2.4" stroke-linejoin="round" stroke-linecap="round" opacity="0.75"/>
<path d="M262.6,300.1 C262.75,300.1 262.73,298.2 263.5,300.1 C264.27,302 265.98,307.45 267.2,311.5 C268.42,315.55 269.58,320.12 270.8,324.4 C272.02,328.68 273.12,332.93 274.5,337.2 C275.88,341.47 277.57,346.02 279.1,350 C280.63,353.98 282.02,357.42 283.7,361.1 C285.38,364.78 287.37,368.58 289.2,372.1 C291.03,375.62 292.57,378.53 294.7,382.2 C296.83,385.87 299.55,390.58 302,394.1 C304.45,397.62 306.95,400.55 309.4,403.3 C311.85,406.05 313.95,408.32 316.7,410.6 C319.45,412.88 322.83,415.17 325.9,417 C328.97,418.83 331.73,420.22 335.1,421.6 C338.47,422.98 342.28,424.32 346.1,425.3 C349.92,426.28 354.68,426.98 358,427.5 C361.32,428.02 360.05,427.73 366,428.4 C371.95,429.07 381.37,430.62 393.7,431.5 C406.03,432.38 432.28,433.33 440,433.7" fill="none" stroke="#e8965a" stroke-width="1.5" stroke-linecap="round"/>
<polyline points="263,301.21 263.59,301.73 264.18,302.04 264.78,305.94 265.37,309.12 265.96,311.3 266.55,314.35 267.14,317.52 267.74,320.42 268.33,323.11 268.92,328.16 269.51,331.98 270.1,332.59 270.7,337.84 271.29,340.13 271.88,341.83 272.47,344.79 273.06,348.8 273.66,350.54 274.25,353.86 274.84,356.57 275.43,361.08 276.02,362.49 276.62,364.71 277.21,369.12 277.8,371.65 278.39,373.42 278.98,374.31 279.58,378.68 280.17,379.83 280.76,382.77 281.35,384.65 281.94,386.52 282.54,388.86 283.13,391.03 283.72,392.16 284.31,393.99 284.9,394.76 285.49,397.25 286.09,400.36 286.68,400.41 287.27,403.56 287.86,405.03 288.45,404.64 289.05,407.32 289.64,408.24 290.23,410.26 290.82,409.93 291.41,412.09 292.01,413.46 292.6,413.14 293.19,413.63 293.78,414.9 294.37,416.53 294.97,416.4 295.56,418.85 296.15,418.28 296.74,420.39 297.33,420.14 297.93,421.16 298.52,422.62 299.11,422.11 299.7,422.97 300.29,422.74 300.89,423.57 301.48,423.01 302.07,424.7 302.66,425.02 303.25,425.13 303.85,425.3 304.44,426.06 305.03,426.24 305.62,426.71 306.21,428.17 306.81,428.7 307.4,429.05 307.99,428.06 308.58,429.6 309.17,429.09 309.77,430.46 310.36,428.49 310.95,430.43 311.54,430.29 312.13,430.4 312.73,431.33 313.32,431.74 313.91,431.88 314.5,430.76 315.09,431 315.69,431.71 316.28,430.42 316.87,432.57 317.46,432.12 318.05,431.89 318.65,432.54 319.24,433.51 319.83,433.27 320.42,433.03 321.01,432.01 321.61,434.14 322.2,432.76 322.79,434.26 323.38,433.35 323.97,433.94 324.57,434.57 325.16,432.48 325.75,433.17 326.34,432.93 326.93,432.66 327.53,433.49 328.12,435.05 328.71,433.4 329.3,433.1 329.89,435.32 330.48,434.22 331.08,434.24 331.67,434.87 332.26,435.27 332.85,433.8 333.44,433.81 334.04,434.45 334.63,435.62 335.22,435.89 335.81,434.05 336.4,435.41 337,434.85 337.59,436.04 338.18,434.59 338.77,434.59 339.36,434.02 339.96,436.29 340.55,434.53 341.14,434.84 341.73,434.77 342.32,436.55 342.92,434.38 343.51,435.06 344.1,435.97 344.69,434.65 345.28,435.74 345.88,435.36 346.47,434.3 347.06,435.86 347.65,435.2 348.24,434.87 348.84,436.87 349.43,436.54 350.02,435.54 350.61,435.22 351.2,434.44 351.8,436.31 352.39,435.13 352.98,435.79 353.57,436.1 354.16,436.45 354.76,434.92 355.35,434.76 355.94,436.55 356.53,434.69 357.12,435.63 357.72,434.69 358.31,435.14 358.9,435.11 359.49,436.81 360.08,436.56 360.68,435.27 361.27,436.17 361.86,435.94 362.45,434.9 363.04,435.6 363.64,436.63 364.23,435.02 364.82,435.32 365.41,435.63 366,434.72 366.6,436.73 367.19,435.76 367.78,436.4 368.37,436.12 368.96,436.78 369.56,436.48 370.15,435.81 370.74,435.1 371.33,435.89 371.92,434.81 372.52,435.01 373.11,436.97 373.7,436.17 374.29,436.88 374.88,436.76 375.47,436.22 376.07,436.75 376.66,437.32 377.25,437.34 377.84,435.54 378.43,437.25 379.03,436.13 379.62,435.45 380.21,435.98 380.8,436.44 381.39,437.25 381.99,437.29 382.58,436.41 383.17,437.06 383.76,436.34 384.35,435.22 384.95,436.12 385.54,436.81 386.13,436.96 386.72,436.77 387.31,435.02 387.91,436.8 388.5,437.58 389.09,435.6 389.68,436.91 390.27,435.58 390.87,437.06 391.46,437.51 392.05,435.63 392.64,437.25 393.23,435.88 393.83,437.4 394.42,435.2 395.01,437.09 395.6,435.7 396.19,436.1 396.79,435.56 397.38,437.26 397.97,435.69 398.56,436.1 399.15,436.14 399.75,435.89 400.34,435.79 400.93,437.16 401.52,436.72 402.11,437.24 402.71,435.64 403.3,436.66 403.89,435.46 404.48,435.51 405.07,436.39 405.67,436.81 406.26,437.14 406.85,436.76 407.44,435.49 408.03,436.28 408.63,437.23 409.22,437.79 409.81,437.68 410.4,436.61 410.99,437.77 411.59,436 412.18,436.96 412.77,437.34 413.36,435.37 413.95,435.59 414.55,436.22 415.14,435.95 415.73,435.85 416.32,436.84 416.91,437.07 417.51,436.68 418.1,437.25 418.69,436.26 419.28,436.39 419.87,435.79 420.46,436.02 421.06,436.73 421.65,437.62 422.24,436.71 422.83,437.78 423.42,437.93 424.02,437.51 424.61,437.53 425.2,435.55 425.79,437.32 426.38,435.62 426.98,437.5 427.57,436.65 428.16,435.77 428.75,437.98 429.34,436.05 429.94,438.07 430.53,437.62 431.12,437.99 431.71,437.22 432.3,436.52 432.9,437.43 433.49,436.82 434.08,437.54 434.67,438.11 435.26,435.79 435.86,436.08 436.45,436.77 437.04,435.73 437.63,436.61 438.22,436.78 438.82,436.14 439.41,435.8 440,437.35" fill="none" stroke="#5cc0f5" stroke-width="2.4" stroke-linejoin="round" stroke-linecap="round" opacity="0.75"/>
<path d="M262.6,300.1 C262.75,300.1 262.88,297.9 263.5,300.1 C264.12,302.3 265.38,308.65 266.3,313.3 C267.22,317.95 268.08,323.1 269,328 C269.92,332.9 270.88,338.1 271.8,342.7 C272.72,347.3 273.58,351.32 274.5,355.6 C275.42,359.88 276.38,364.43 277.3,368.4 C278.22,372.37 278.93,375.43 280,379.4 C281.07,383.37 282.47,388.22 283.7,392.2 C284.93,396.18 286.03,399.93 287.4,403.3 C288.77,406.67 290.23,409.5 291.9,412.4 C293.57,415.3 295.4,418.4 297.4,420.7 C299.4,423 301.3,424.52 303.9,426.2 C306.5,427.88 309.65,429.58 313,430.8 C316.35,432.02 319.4,432.73 324,433.5 C328.6,434.27 334.93,435 340.6,435.4 C346.27,435.8 348.1,435.72 358,435.9 C367.9,436.08 386.33,436.32 400,436.5 C413.67,436.68 433.33,436.92 440,437" fill="none" stroke="#5cc0f5" stroke-width="1.5" stroke-linecap="round"/>
</g>
<line x1="334" y1="415.7" x2="352.6" y2="408.7" stroke="#e8965a" stroke-width="1"/>
<path d="M352.6,408.7 L349.16,412.34 L347.61,408.23 Z" fill="#e8965a"/>
<line x1="286.9" y1="401.8" x2="282.7" y2="421.2" stroke="#5cc0f5" stroke-width="1"/>
<path d="M282.7,421.2 L281.5,416.34 L285.8,417.27 Z" fill="#5cc0f5"/>
<text x="354.9" y="409.4" font-size="9.3" text-anchor="start" fill="#e8965a">6.95μs</text>
<text x="271" y="434.4" font-size="9.3" text-anchor="start" fill="#5cc0f5">3.43μs</text>
<circle cx="384" cy="306.1" r="2.2" fill="#e8965a"/>
<text x="397" y="309.6" font-size="9.5" text-anchor="start" fill="#111">TPTA</text>
<line x1="372.9" y1="317.2" x2="395" y2="317.2" stroke="#e8965a" stroke-width="1.7"/>
<text x="397" y="320.6" font-size="9.3" text-anchor="start" fill="#111">Fitting line</text>
<circle cx="384" cy="329.4" r="2.2" fill="#5cc0f5"/>
<text x="397" y="332.9" font-size="9.5" text-anchor="start" fill="#111">Control</text>
<line x1="372.9" y1="340.2" x2="395" y2="340.2" stroke="#5cc0f5" stroke-width="1.7"/>
<text x="397" y="343.6" font-size="9.3" text-anchor="start" fill="#111">Fitting line</text>
<rect x="262.5" y="300.1" width="177" height="142.1" fill="none" stroke="#000" stroke-width="1.6"/>
<line x1="259.8" y1="442.2" x2="262.5" y2="442.2" stroke="#000" stroke-width="1.2"/>
<text x="258.5" y="445.5" font-size="9.5" text-anchor="end" fill="#222">0.0</text>
<line x1="259.8" y1="413.78" x2="262.5" y2="413.78" stroke="#000" stroke-width="1.2"/>
<text x="258.5" y="417.08" font-size="9.5" text-anchor="end" fill="#222">0.2</text>
<line x1="259.8" y1="385.36" x2="262.5" y2="385.36" stroke="#000" stroke-width="1.2"/>
<text x="258.5" y="388.66" font-size="9.5" text-anchor="end" fill="#222">0.4</text>
<line x1="259.8" y1="356.94" x2="262.5" y2="356.94" stroke="#000" stroke-width="1.2"/>
<text x="258.5" y="360.24" font-size="9.5" text-anchor="end" fill="#222">0.6</text>
<line x1="259.8" y1="328.52" x2="262.5" y2="328.52" stroke="#000" stroke-width="1.2"/>
<text x="258.5" y="331.82" font-size="9.5" text-anchor="end" fill="#222">0.8</text>
<line x1="259.8" y1="300.1" x2="262.5" y2="300.1" stroke="#000" stroke-width="1.2"/>
<text x="258.5" y="303.4" font-size="9.5" text-anchor="end" fill="#222">1.0</text>
<line x1="260.6" y1="427.99" x2="262.5" y2="427.99" stroke="#000" stroke-width="0.9"/>
<line x1="260.6" y1="399.57" x2="262.5" y2="399.57" stroke="#000" stroke-width="0.9"/>
<line x1="260.6" y1="371.15" x2="262.5" y2="371.15" stroke="#000" stroke-width="0.9"/>
<line x1="260.6" y1="342.73" x2="262.5" y2="342.73" stroke="#000" stroke-width="0.9"/>
<line x1="260.6" y1="314.31" x2="262.5" y2="314.31" stroke="#000" stroke-width="0.9"/>
<line x1="262.5" y1="442.2" x2="262.5" y2="444.9" stroke="#000" stroke-width="1.2"/>
<text x="262.5" y="454.5" font-size="9.5" text-anchor="middle" fill="#222">0</text>
<line x1="313.22" y1="442.2" x2="313.22" y2="444.9" stroke="#000" stroke-width="1.2"/>
<text x="313.22" y="454.5" font-size="9.5" text-anchor="middle" fill="#222">1</text>
<line x1="363.93" y1="442.2" x2="363.93" y2="444.9" stroke="#000" stroke-width="1.2"/>
<text x="363.93" y="454.5" font-size="9.5" text-anchor="middle" fill="#222">2</text>
<line x1="414.65" y1="442.2" x2="414.65" y2="444.9" stroke="#000" stroke-width="1.2"/>
<text x="414.65" y="454.5" font-size="9.5" text-anchor="middle" fill="#222">3</text>
<line x1="287.86" y1="442.2" x2="287.86" y2="444.1" stroke="#000" stroke-width="0.9"/>
<line x1="338.57" y1="442.2" x2="338.57" y2="444.1" stroke="#000" stroke-width="0.9"/>
<line x1="389.29" y1="442.2" x2="389.29" y2="444.1" stroke="#000" stroke-width="0.9"/>
<text x="351" y="471.3" font-size="12.2" text-anchor="middle" fill="#111">Time (μs)</text>
<text x="241.6" y="371.5" font-size="12.8" text-anchor="middle" fill="#111" transform="rotate(-90 241.6 371.5)">Normalized TPV</text>
<text x="228.4" y="308.6" font-size="12.3" text-anchor="start" fill="#000" font-weight="bold">(f)</text>
<rect x="482.1" y="317.66" width="33.8" height="116.93" fill="url(#gb0)"/>
<text x="499" y="457" font-size="11.5" text-anchor="middle" fill="#111">Control</text>
<line x1="499" y1="444.1" x2="499" y2="445.9" stroke="#000" stroke-width="1"/>
<rect x="524.8" y="324.32" width="33.9" height="107.43" fill="url(#gb1)"/>
<text x="541.75" y="457" font-size="11.5" text-anchor="middle" fill="#111">TAPB</text>
<line x1="541.75" y1="444.1" x2="541.75" y2="445.9" stroke="#000" stroke-width="1"/>
<rect x="567.7" y="327.64" width="33.6" height="102.2" fill="url(#gb2)"/>
<text x="584.5" y="457" font-size="11.5" text-anchor="middle" fill="#111">TAPOB</text>
<line x1="584.5" y1="444.1" x2="584.5" y2="445.9" stroke="#000" stroke-width="1"/>
<rect x="610.5" y="332.87" width="33.7" height="95.07" fill="url(#gb3)"/>
<text x="627.35" y="457" font-size="11.5" text-anchor="middle" fill="#111">TPTA</text>
<line x1="627.35" y1="444.1" x2="627.35" y2="445.9" stroke="#000" stroke-width="1"/>
<line x1="477.4" y1="372.8" x2="648.3" y2="372.8" stroke="#555" stroke-width="1.6"/>
<rect x="477.4" y="301.5" width="170.9" height="142.6" fill="none" stroke="#000" stroke-width="1.6"/>
<line x1="474.7" y1="444.1" x2="477.4" y2="444.1" stroke="#000" stroke-width="1.2"/>
<text x="474.2" y="447.4" font-size="9.5" text-anchor="end" fill="#222">-15</text>
<line x1="474.7" y1="420.33" x2="477.4" y2="420.33" stroke="#000" stroke-width="1.2"/>
<text x="474.2" y="423.63" font-size="9.5" text-anchor="end" fill="#222">-10</text>
<line x1="474.7" y1="396.57" x2="477.4" y2="396.57" stroke="#000" stroke-width="1.2"/>
<text x="474.2" y="399.87" font-size="9.5" text-anchor="end" fill="#222">-5</text>
<line x1="474.7" y1="372.8" x2="477.4" y2="372.8" stroke="#000" stroke-width="1.2"/>
<text x="474.2" y="376.1" font-size="9.5" text-anchor="end" fill="#222">0</text>
<line x1="474.7" y1="349.03" x2="477.4" y2="349.03" stroke="#000" stroke-width="1.2"/>
<text x="474.2" y="352.33" font-size="9.5" text-anchor="end" fill="#222">5</text>
<line x1="474.7" y1="325.27" x2="477.4" y2="325.27" stroke="#000" stroke-width="1.2"/>
<text x="474.2" y="328.57" font-size="9.5" text-anchor="end" fill="#222">10</text>
<line x1="474.7" y1="301.5" x2="477.4" y2="301.5" stroke="#000" stroke-width="1.2"/>
<text x="474.2" y="304.8" font-size="9.5" text-anchor="end" fill="#222">15</text>
<line x1="475.5" y1="432.22" x2="477.4" y2="432.22" stroke="#000" stroke-width="0.9"/>
<line x1="475.5" y1="408.45" x2="477.4" y2="408.45" stroke="#000" stroke-width="0.9"/>
<line x1="475.5" y1="384.68" x2="477.4" y2="384.68" stroke="#000" stroke-width="0.9"/>
<line x1="475.5" y1="360.92" x2="477.4" y2="360.92" stroke="#000" stroke-width="0.9"/>
<line x1="475.5" y1="337.15" x2="477.4" y2="337.15" stroke="#000" stroke-width="0.9"/>
<line x1="475.5" y1="313.38" x2="477.4" y2="313.38" stroke="#000" stroke-width="0.9"/>
<text x="645.8" y="313.4" font-size="11.7" text-anchor="end" fill="#111">Hole-only</text>
<text x="646.6" y="440" font-size="11.6" text-anchor="end" fill="#111">Electron-only</text>
<text x="456.6" y="371.3" font-size="12.4" text-anchor="middle" fill="#111" transform="rotate(-90 456.6 371.3)">N<tspan font-size="7" dy="2.2">t</tspan><tspan dy="-2.2"> (×10</tspan><tspan font-size="8" dy="-4.5">16</tspan><tspan dy="4.5">cm</tspan><tspan font-size="8" dy="-4.5">-2</tspan><tspan dy="4.5">)</tspan></text>
<text x="451.5" y="309.2" font-size="12.3" text-anchor="start" fill="#000" font-weight="bold">(g)</text>
<rect x="67.05" y="599.97" width="11.1" height="22.83" fill="#87d2fa"/>
<rect x="80.7" y="582.84" width="11.1" height="39.96" fill="#87d2fa"/>
<rect x="94.35" y="571.43" width="11.1" height="51.37" fill="#87d2fa"/>
<rect x="108" y="565.72" width="11.1" height="57.08" fill="#87d2fa"/>
<rect x="121.65" y="554.3" width="11.1" height="68.5" fill="#87d2fa"/>
<rect x="135.3" y="577.14" width="11.1" height="45.66" fill="#87d2fa"/>
<rect x="148.95" y="611.38" width="11.1" height="11.42" fill="#ebc5a0"/>
<rect x="162.6" y="594.26" width="11.1" height="28.54" fill="#ebc5a0"/>
<rect x="176.25" y="548.6" width="11.1" height="74.2" fill="#ebc5a0"/>
<rect x="189.9" y="520.06" width="11.1" height="102.74" fill="#ebc5a0"/>
<rect x="203.55" y="554.3" width="11.1" height="68.5" fill="#ebc5a0"/>
<g clip-path="url(#clipH)">
<polyline points="54.31,621.34 55.3,621.02 56.3,620.68 57.29,620.3 58.28,619.89 59.28,619.44 60.27,618.96 61.26,618.44 62.26,617.88 63.25,617.28 64.24,616.63 65.24,615.94 66.23,615.21 67.22,614.42 68.22,613.59 69.21,612.7 70.2,611.77 71.2,610.78 72.19,609.74 73.18,608.65 74.18,607.51 75.17,606.31 76.16,605.06 77.16,603.77 78.15,602.42 79.14,601.03 80.14,599.59 81.13,598.11 82.12,596.59 83.12,595.03 84.11,593.45 85.1,591.83 86.1,590.19 87.09,588.53 88.08,586.86 89.08,585.18 90.07,583.49 91.06,581.81 92.06,580.14 93.05,578.48 94.04,576.85 95.04,575.25 96.03,573.68 97.02,572.16 98.02,570.69 99.01,569.27 100,567.92 101,566.63 101.99,565.42 102.98,564.3 103.98,563.26 104.97,562.32 105.96,561.47 106.96,560.73 107.95,560.09 108.94,559.56 109.94,559.14 110.93,558.84 111.92,558.65 112.92,558.59 113.91,558.63 114.91,558.8 115.9,559.08 116.89,559.48 117.89,559.99 118.88,560.61 119.87,561.33 120.87,562.16 121.86,563.09 122.85,564.11 123.85,565.22 124.84,566.41 125.83,567.68 126.83,569.03 127.82,570.43 128.81,571.9 129.81,573.41 130.8,574.97 131.79,576.57 132.79,578.2 133.78,579.85 134.77,581.52 135.77,583.2 136.76,584.88 137.75,586.56 138.75,588.24 139.74,589.9 140.73,591.54 141.73,593.16 142.72,594.76 143.71,596.32 144.71,597.84 145.7,599.33 146.69,600.78 147.69,602.18 148.68,603.53 149.67,604.84 150.67,606.09 151.66,607.3 152.65,608.45 153.65,609.55 154.64,610.6 155.63,611.6 156.63,612.54 157.62,613.44 158.61,614.28 159.61,615.07 160.6,615.82 161.59,616.51 162.59,617.17 163.58,617.78 164.57,618.34 165.57,618.87 166.56,619.36 167.55,619.81 168.55,620.23 169.54,620.61 170.53,620.97 171.53,621.29 172.52,621.59" fill="none" stroke="#5ec2f7" stroke-width="1.3" stroke-linejoin="round" stroke-linecap="round"/>
<polyline points="147.68,622.14 148.33,621.98 148.98,621.8 149.64,621.59 150.29,621.37 150.95,621.12 151.6,620.84 152.25,620.54 152.91,620.2 153.56,619.83 154.22,619.43 154.87,618.99 155.52,618.5 156.18,617.97 156.83,617.39 157.48,616.77 158.14,616.09 158.79,615.35 159.45,614.56 160.1,613.7 160.75,612.78 161.41,611.79 162.06,610.74 162.72,609.61 163.37,608.4 164.02,607.12 164.68,605.77 165.33,604.33 165.98,602.81 166.64,601.21 167.29,599.52 167.95,597.76 168.6,595.91 169.25,593.98 169.91,591.97 170.56,589.88 171.22,587.71 171.87,585.47 172.52,583.17 173.18,580.79 173.83,578.36 174.48,575.87 175.14,573.33 175.79,570.75 176.45,568.14 177.1,565.49 177.75,562.83 178.41,560.16 179.06,557.48 179.72,554.81 180.37,552.16 181.02,549.54 181.68,546.96 182.33,544.42 182.98,541.95 183.64,539.54 184.29,537.22 184.95,534.99 185.6,532.86 186.25,530.85 186.91,528.95 187.56,527.19 188.22,525.56 188.87,524.09 189.52,522.77 190.18,521.61 190.83,520.62 191.48,519.8 192.14,519.17 192.79,518.71 193.45,518.43 194.1,518.34 194.75,518.44 195.41,518.72 196.06,519.18 196.72,519.83 197.37,520.65 198.02,521.65 198.68,522.81 199.33,524.14 199.98,525.62 200.64,527.25 201.29,529.02 201.95,530.91 202.6,532.94 203.25,535.07 203.91,537.3 204.56,539.63 205.22,542.03 205.87,544.51 206.52,547.05 207.18,549.63 207.83,552.26 208.48,554.91 209.14,557.58 209.79,560.25 210.45,562.92 211.1,565.59 211.75,568.23 212.41,570.84 213.06,573.42 213.71,575.96 214.37,578.45 215.02,580.88 215.68,583.25 216.33,585.55 216.98,587.79 217.64,589.95 218.29,592.04 218.95,594.05 219.6,595.97 220.25,597.82 220.91,599.58 221.56,601.27 222.21,602.86 222.87,604.38 223.52,605.82 224.18,607.17 224.83,608.45 225.48,609.65" fill="none" stroke="#e8904e" stroke-width="1.3" stroke-linejoin="round" stroke-linecap="round"/>
</g>
<rect x="163.2" y="482.3" width="16.4" height="8.3" fill="#87d2fa"/>
<text x="181.5" y="489.1" font-size="9.1" text-anchor="start" fill="#111">Control</text>
<rect x="163.2" y="493.2" width="16.4" height="8.3" fill="#ebc5a0"/>
<text x="181.5" y="499.9" font-size="9.1" text-anchor="start" fill="#111">with TPTA</text>
<rect x="45.3" y="480.1" width="178" height="142.7" fill="none" stroke="#000" stroke-width="1.6"/>
<line x1="42.6" y1="622.8" x2="45.3" y2="622.8" stroke="#000" stroke-width="1.2"/>
<text x="41.3" y="626.1" font-size="9.5" text-anchor="end" fill="#222">0</text>
<line x1="42.6" y1="594.26" x2="45.3" y2="594.26" stroke="#000" stroke-width="1.2"/>
<text x="41.3" y="597.56" font-size="9.5" text-anchor="end" fill="#222">5</text>
<line x1="42.6" y1="565.72" x2="45.3" y2="565.72" stroke="#000" stroke-width="1.2"/>
<text x="41.3" y="569.02" font-size="9.5" text-anchor="end" fill="#222">10</text>
<line x1="42.6" y1="537.18" x2="45.3" y2="537.18" stroke="#000" stroke-width="1.2"/>
<text x="41.3" y="540.48" font-size="9.5" text-anchor="end" fill="#222">15</text>
<line x1="42.6" y1="508.64" x2="45.3" y2="508.64" stroke="#000" stroke-width="1.2"/>
<text x="41.3" y="511.94" font-size="9.5" text-anchor="end" fill="#222">20</text>
<line x1="42.6" y1="480.1" x2="45.3" y2="480.1" stroke="#000" stroke-width="1.2"/>
<text x="41.3" y="483.4" font-size="9.5" text-anchor="end" fill="#222">25</text>
<line x1="43.4" y1="608.53" x2="45.3" y2="608.53" stroke="#000" stroke-width="0.9"/>
<line x1="43.4" y1="579.99" x2="45.3" y2="579.99" stroke="#000" stroke-width="0.9"/>
<line x1="43.4" y1="551.45" x2="45.3" y2="551.45" stroke="#000" stroke-width="0.9"/>
<line x1="43.4" y1="522.91" x2="45.3" y2="522.91" stroke="#000" stroke-width="0.9"/>
<line x1="43.4" y1="494.37" x2="45.3" y2="494.37" stroke="#000" stroke-width="0.9"/>
<line x1="45.3" y1="622.8" x2="45.3" y2="625.5" stroke="#000" stroke-width="1.2"/>
<text x="45.3" y="635.6" font-size="9.5" text-anchor="middle" fill="#222">17</text>
<line x1="72.6" y1="622.8" x2="72.6" y2="625.5" stroke="#000" stroke-width="1.2"/>
<text x="72.6" y="635.6" font-size="9.5" text-anchor="middle" fill="#222">18</text>
<line x1="99.9" y1="622.8" x2="99.9" y2="625.5" stroke="#000" stroke-width="1.2"/>
<text x="99.9" y="635.6" font-size="9.5" text-anchor="middle" fill="#222">19</text>
<line x1="127.2" y1="622.8" x2="127.2" y2="625.5" stroke="#000" stroke-width="1.2"/>
<text x="127.2" y="635.6" font-size="9.5" text-anchor="middle" fill="#222">20</text>
<line x1="154.5" y1="622.8" x2="154.5" y2="625.5" stroke="#000" stroke-width="1.2"/>
<text x="154.5" y="635.6" font-size="9.5" text-anchor="middle" fill="#222">21</text>
<line x1="181.8" y1="622.8" x2="181.8" y2="625.5" stroke="#000" stroke-width="1.2"/>
<text x="181.8" y="635.6" font-size="9.5" text-anchor="middle" fill="#222">22</text>
<line x1="209.1" y1="622.8" x2="209.1" y2="625.5" stroke="#000" stroke-width="1.2"/>
<text x="209.1" y="635.6" font-size="9.5" text-anchor="middle" fill="#222">23</text>
<line x1="58.95" y1="622.8" x2="58.95" y2="624.7" stroke="#000" stroke-width="0.9"/>
<line x1="86.25" y1="622.8" x2="86.25" y2="624.7" stroke="#000" stroke-width="0.9"/>
<line x1="113.55" y1="622.8" x2="113.55" y2="624.7" stroke="#000" stroke-width="0.9"/>
<line x1="140.85" y1="622.8" x2="140.85" y2="624.7" stroke="#000" stroke-width="0.9"/>
<line x1="168.15" y1="622.8" x2="168.15" y2="624.7" stroke="#000" stroke-width="0.9"/>
<line x1="195.45" y1="622.8" x2="195.45" y2="624.7" stroke="#000" stroke-width="0.9"/>
<line x1="222.75" y1="622.8" x2="222.75" y2="624.7" stroke="#000" stroke-width="0.9"/>
<text x="134.3" y="651.6" font-size="12.4" text-anchor="middle" fill="#111">PCE (%)</text>
<text x="29.3" y="550.6" font-size="12.3" text-anchor="middle" fill="#111" transform="rotate(-90 29.3 550.6)">Count</text>
<text x="11.6" y="479.2" font-size="12.3" text-anchor="start" fill="#000" font-weight="bold" letter-spacing="0.3">(h)</text>
<path d="M262.1,493.67 C271.97,493.78 303.23,494.08 321.33,494.28 C339.43,494.48 360.07,494.72 370.69,494.89 C381.32,495.06 381.22,494.96 385.11,495.3 C388.99,495.63 391.49,496.11 393.99,496.92 C396.49,497.73 398.21,498.74 400.11,500.16 C402.02,501.58 403.67,502.93 405.44,505.43 C407.22,507.93 409.29,511.92 410.78,515.16 C412.26,518.4 413.15,520.9 414.33,524.89 C415.51,528.88 416.7,533.14 417.88,539.08 C419.07,545.03 420.35,553.14 421.44,560.57 C422.52,568 423.51,576.31 424.4,583.68 C425.29,591.04 426.14,598.27 426.77,604.76 C427.39,611.25 427.92,619.63 428.15,622.6" fill="none" stroke="#6e6e6e" stroke-width="1.6" stroke-linecap="round"/>
<circle cx="262.1" cy="493.67" r="1.0" fill="#fff" stroke="#6e6e6e" stroke-width="0.55"/>
<circle cx="265.46" cy="493.71" r="1.0" fill="#fff" stroke="#6e6e6e" stroke-width="0.55"/>
<circle cx="268.81" cy="493.74" r="1.0" fill="#fff" stroke="#6e6e6e" stroke-width="0.55"/>
<circle cx="272.17" cy="493.78" r="1.0" fill="#fff" stroke="#6e6e6e" stroke-width="0.55"/>
<circle cx="275.53" cy="493.81" r="1.0" fill="#fff" stroke="#6e6e6e" stroke-width="0.55"/>
<circle cx="278.88" cy="493.85" r="1.0" fill="#fff" stroke="#6e6e6e" stroke-width="0.55"/>
<circle cx="282.24" cy="493.88" r="1.0" fill="#fff" stroke="#6e6e6e" stroke-width="0.55"/>
<circle cx="285.6" cy="493.91" r="1.0" fill="#fff" stroke="#6e6e6e" stroke-width="0.55"/>
<circle cx="288.95" cy="493.95" r="1.0" fill="#fff" stroke="#6e6e6e" stroke-width="0.55"/>
<circle cx="292.31" cy="493.98" r="1.0" fill="#fff" stroke="#6e6e6e" stroke-width="0.55"/>
<circle cx="295.67" cy="494.02" r="1.0" fill="#fff" stroke="#6e6e6e" stroke-width="0.55"/>
<circle cx="299.02" cy="494.05" r="1.0" fill="#fff" stroke="#6e6e6e" stroke-width="0.55"/>
<circle cx="302.38" cy="494.09" r="1.0" fill="#fff" stroke="#6e6e6e" stroke-width="0.55"/>
<circle cx="305.74" cy="494.12" r="1.0" fill="#fff" stroke="#6e6e6e" stroke-width="0.55"/>
<circle cx="309.09" cy="494.16" r="1.0" fill="#fff" stroke="#6e6e6e" stroke-width="0.55"/>
<circle cx="312.45" cy="494.19" r="1.0" fill="#fff" stroke="#6e6e6e" stroke-width="0.55"/>
<circle cx="315.8" cy="494.23" r="1.0" fill="#fff" stroke="#6e6e6e" stroke-width="0.55"/>
<circle cx="319.16" cy="494.26" r="1.0" fill="#fff" stroke="#6e6e6e" stroke-width="0.55"/>
<circle cx="322.52" cy="494.3" r="1.0" fill="#fff" stroke="#6e6e6e" stroke-width="0.55"/>
<circle cx="325.87" cy="494.34" r="1.0" fill="#fff" stroke="#6e6e6e" stroke-width="0.55"/>
<circle cx="329.23" cy="494.38" r="1.0" fill="#fff" stroke="#6e6e6e" stroke-width="0.55"/>
<circle cx="332.59" cy="494.42" r="1.0" fill="#fff" stroke="#6e6e6e" stroke-width="0.55"/>
<circle cx="335.94" cy="494.46" r="1.0" fill="#fff" stroke="#6e6e6e" stroke-width="0.55"/>
<circle cx="339.3" cy="494.5" r="1.0" fill="#fff" stroke="#6e6e6e" stroke-width="0.55"/>
<circle cx="342.66" cy="494.54" r="1.0" fill="#fff" stroke="#6e6e6e" stroke-width="0.55"/>
<circle cx="346.01" cy="494.59" r="1.0" fill="#fff" stroke="#6e6e6e" stroke-width="0.55"/>
<circle cx="349.37" cy="494.63" r="1.0" fill="#fff" stroke="#6e6e6e" stroke-width="0.55"/>
<circle cx="352.73" cy="494.67" r="1.0" fill="#fff" stroke="#6e6e6e" stroke-width="0.55"/>
<circle cx="356.08" cy="494.71" r="1.0" fill="#fff" stroke="#6e6e6e" stroke-width="0.55"/>
<circle cx="359.44" cy="494.75" r="1.0" fill="#fff" stroke="#6e6e6e" stroke-width="0.55"/>
<circle cx="362.8" cy="494.79" r="1.0" fill="#fff" stroke="#6e6e6e" stroke-width="0.55"/>
<circle cx="366.15" cy="494.83" r="1.0" fill="#fff" stroke="#6e6e6e" stroke-width="0.55"/>
<circle cx="369.51" cy="494.88" r="1.0" fill="#fff" stroke="#6e6e6e" stroke-width="0.55"/>
<circle cx="372.87" cy="494.95" r="1.0" fill="#fff" stroke="#6e6e6e" stroke-width="0.55"/>
<circle cx="376.22" cy="495.05" r="1.0" fill="#fff" stroke="#6e6e6e" stroke-width="0.55"/>
<circle cx="379.58" cy="495.14" r="1.0" fill="#fff" stroke="#6e6e6e" stroke-width="0.55"/>
<circle cx="382.94" cy="495.23" r="1.0" fill="#fff" stroke="#6e6e6e" stroke-width="0.55"/>
<circle cx="386.29" cy="495.51" r="1.0" fill="#fff" stroke="#6e6e6e" stroke-width="0.55"/>
<circle cx="389.65" cy="496.12" r="1.0" fill="#fff" stroke="#6e6e6e" stroke-width="0.55"/>
<circle cx="393.01" cy="496.74" r="1.0" fill="#fff" stroke="#6e6e6e" stroke-width="0.55"/>
<circle cx="396.36" cy="498.17" r="1.0" fill="#fff" stroke="#6e6e6e" stroke-width="0.55"/>
<circle cx="399.72" cy="499.95" r="1.0" fill="#fff" stroke="#6e6e6e" stroke-width="0.55"/>
<circle cx="403.08" cy="503.09" r="1.0" fill="#fff" stroke="#6e6e6e" stroke-width="0.55"/>
<circle cx="406.43" cy="507.23" r="1.0" fill="#fff" stroke="#6e6e6e" stroke-width="0.55"/>
<circle cx="409.79" cy="513.36" r="1.0" fill="#fff" stroke="#6e6e6e" stroke-width="0.55"/>
<circle cx="413.14" cy="521.65" r="1.0" fill="#fff" stroke="#6e6e6e" stroke-width="0.55"/>
<circle cx="416.5" cy="533.56" r="1.0" fill="#fff" stroke="#6e6e6e" stroke-width="0.55"/>
<circle cx="419.86" cy="551.02" r="1.0" fill="#fff" stroke="#6e6e6e" stroke-width="0.55"/>
<circle cx="423.21" cy="574.44" r="1.0" fill="#fff" stroke="#6e6e6e" stroke-width="0.55"/>
<circle cx="426.57" cy="603" r="1.0" fill="#fff" stroke="#6e6e6e" stroke-width="0.55"/>
<path d="M262.1,493.07 C271.97,493.1 303.23,493.2 321.33,493.27 C339.43,493.34 360.07,493.4 370.69,493.47 C381.32,493.54 381.22,493.37 385.11,493.67 C388.99,493.98 391.33,494.55 393.99,495.3 C396.66,496.04 399.03,496.78 401.1,498.13 C403.17,499.48 404.65,501.04 406.43,503.4 C408.21,505.77 410.12,508.74 411.76,512.32 C413.41,515.9 414.99,520.16 416.3,524.89 C417.62,529.62 418.51,534.76 419.66,540.7 C420.81,546.65 422.03,553.41 423.21,560.57 C424.4,567.73 425.72,575.71 426.77,583.68 C427.82,591.65 428.91,601.92 429.53,608.41 C430.16,614.9 430.36,620.24 430.52,622.6" fill="none" stroke="#dc5474" stroke-width="1.6" stroke-linecap="round"/>
<circle cx="262.1" cy="493.07" r="1.0" fill="#fff" stroke="#dc5474" stroke-width="0.55"/>
<circle cx="265.46" cy="493.08" r="1.0" fill="#fff" stroke="#dc5474" stroke-width="0.55"/>
<circle cx="268.81" cy="493.09" r="1.0" fill="#fff" stroke="#dc5474" stroke-width="0.55"/>
<circle cx="272.17" cy="493.1" r="1.0" fill="#fff" stroke="#dc5474" stroke-width="0.55"/>
<circle cx="275.53" cy="493.11" r="1.0" fill="#fff" stroke="#dc5474" stroke-width="0.55"/>
<circle cx="278.88" cy="493.12" r="1.0" fill="#fff" stroke="#dc5474" stroke-width="0.55"/>
<circle cx="282.24" cy="493.13" r="1.0" fill="#fff" stroke="#dc5474" stroke-width="0.55"/>
<circle cx="285.6" cy="493.15" r="1.0" fill="#fff" stroke="#dc5474" stroke-width="0.55"/>
<circle cx="288.95" cy="493.16" r="1.0" fill="#fff" stroke="#dc5474" stroke-width="0.55"/>
<circle cx="292.31" cy="493.17" r="1.0" fill="#fff" stroke="#dc5474" stroke-width="0.55"/>
<circle cx="295.67" cy="493.18" r="1.0" fill="#fff" stroke="#dc5474" stroke-width="0.55"/>
<circle cx="299.02" cy="493.19" r="1.0" fill="#fff" stroke="#dc5474" stroke-width="0.55"/>
<circle cx="302.38" cy="493.2" r="1.0" fill="#fff" stroke="#dc5474" stroke-width="0.55"/>
<circle cx="305.74" cy="493.21" r="1.0" fill="#fff" stroke="#dc5474" stroke-width="0.55"/>
<circle cx="309.09" cy="493.23" r="1.0" fill="#fff" stroke="#dc5474" stroke-width="0.55"/>
<circle cx="312.45" cy="493.24" r="1.0" fill="#fff" stroke="#dc5474" stroke-width="0.55"/>
<circle cx="315.8" cy="493.25" r="1.0" fill="#fff" stroke="#dc5474" stroke-width="0.55"/>
<circle cx="319.16" cy="493.26" r="1.0" fill="#fff" stroke="#dc5474" stroke-width="0.55"/>
<circle cx="322.52" cy="493.27" r="1.0" fill="#fff" stroke="#dc5474" stroke-width="0.55"/>
<circle cx="325.87" cy="493.29" r="1.0" fill="#fff" stroke="#dc5474" stroke-width="0.55"/>
<circle cx="329.23" cy="493.3" r="1.0" fill="#fff" stroke="#dc5474" stroke-width="0.55"/>
<circle cx="332.59" cy="493.31" r="1.0" fill="#fff" stroke="#dc5474" stroke-width="0.55"/>
<circle cx="335.94" cy="493.33" r="1.0" fill="#fff" stroke="#dc5474" stroke-width="0.55"/>
<circle cx="339.3" cy="493.34" r="1.0" fill="#fff" stroke="#dc5474" stroke-width="0.55"/>
<circle cx="342.66" cy="493.36" r="1.0" fill="#fff" stroke="#dc5474" stroke-width="0.55"/>
<circle cx="346.01" cy="493.37" r="1.0" fill="#fff" stroke="#dc5474" stroke-width="0.55"/>
<circle cx="349.37" cy="493.38" r="1.0" fill="#fff" stroke="#dc5474" stroke-width="0.55"/>
<circle cx="352.73" cy="493.4" r="1.0" fill="#fff" stroke="#dc5474" stroke-width="0.55"/>
<circle cx="356.08" cy="493.41" r="1.0" fill="#fff" stroke="#dc5474" stroke-width="0.55"/>
<circle cx="359.44" cy="493.42" r="1.0" fill="#fff" stroke="#dc5474" stroke-width="0.55"/>
<circle cx="362.8" cy="493.44" r="1.0" fill="#fff" stroke="#dc5474" stroke-width="0.55"/>
<circle cx="366.15" cy="493.45" r="1.0" fill="#fff" stroke="#dc5474" stroke-width="0.55"/>
<circle cx="369.51" cy="493.47" r="1.0" fill="#fff" stroke="#dc5474" stroke-width="0.55"/>
<circle cx="372.87" cy="493.5" r="1.0" fill="#fff" stroke="#dc5474" stroke-width="0.55"/>
<circle cx="376.22" cy="493.55" r="1.0" fill="#fff" stroke="#dc5474" stroke-width="0.55"/>
<circle cx="379.58" cy="493.6" r="1.0" fill="#fff" stroke="#dc5474" stroke-width="0.55"/>
<circle cx="382.94" cy="493.64" r="1.0" fill="#fff" stroke="#dc5474" stroke-width="0.55"/>
<circle cx="386.29" cy="493.89" r="1.0" fill="#fff" stroke="#dc5474" stroke-width="0.55"/>
<circle cx="389.65" cy="494.5" r="1.0" fill="#fff" stroke="#dc5474" stroke-width="0.55"/>
<circle cx="393.01" cy="495.12" r="1.0" fill="#fff" stroke="#dc5474" stroke-width="0.55"/>
<circle cx="396.36" cy="496.24" r="1.0" fill="#fff" stroke="#dc5474" stroke-width="0.55"/>
<circle cx="399.72" cy="497.58" r="1.0" fill="#fff" stroke="#dc5474" stroke-width="0.55"/>
<circle cx="403.08" cy="500.09" r="1.0" fill="#fff" stroke="#dc5474" stroke-width="0.55"/>
<circle cx="406.43" cy="503.4" r="1.0" fill="#fff" stroke="#dc5474" stroke-width="0.55"/>
<circle cx="409.79" cy="509.02" r="1.0" fill="#fff" stroke="#dc5474" stroke-width="0.55"/>
<circle cx="413.14" cy="516.15" r="1.0" fill="#fff" stroke="#dc5474" stroke-width="0.55"/>
<circle cx="416.5" cy="525.82" r="1.0" fill="#fff" stroke="#dc5474" stroke-width="0.55"/>
<circle cx="419.86" cy="541.81" r="1.0" fill="#fff" stroke="#dc5474" stroke-width="0.55"/>
<circle cx="423.21" cy="560.57" r="1.0" fill="#fff" stroke="#dc5474" stroke-width="0.55"/>
<circle cx="426.57" cy="582.4" r="1.0" fill="#fff" stroke="#dc5474" stroke-width="0.55"/>
<circle cx="429.93" cy="614.09" r="1.0" fill="#fff" stroke="#dc5474" stroke-width="0.55"/>
<path d="M262.1,492.05 C271.97,492.02 303.23,491.92 321.33,491.85 C339.43,491.78 360.07,491.68 370.69,491.65 C381.32,491.61 381.22,491.51 385.11,491.65 C388.99,491.78 391.33,491.78 393.99,492.46 C396.66,493.13 398.86,494.28 401.1,495.7 C403.34,497.12 405.48,498.74 407.42,500.97 C409.36,503.2 411.1,505.97 412.75,509.08 C414.4,512.19 415.98,515.5 417.29,519.62 C418.61,523.74 419.5,528.47 420.65,533.81 C421.8,539.15 423.02,545.16 424.2,551.65 C425.39,558.14 426.7,565.64 427.76,572.73 C428.81,579.83 429.7,585.91 430.52,594.22 C431.34,602.53 432.33,617.87 432.69,622.6" fill="none" stroke="#5cc0f5" stroke-width="1.6" stroke-linecap="round"/>
<circle cx="262.1" cy="492.05" r="1.0" fill="#fff" stroke="#5cc0f5" stroke-width="0.55"/>
<circle cx="265.46" cy="492.04" r="1.0" fill="#fff" stroke="#5cc0f5" stroke-width="0.55"/>
<circle cx="268.81" cy="492.03" r="1.0" fill="#fff" stroke="#5cc0f5" stroke-width="0.55"/>
<circle cx="272.17" cy="492.02" r="1.0" fill="#fff" stroke="#5cc0f5" stroke-width="0.55"/>
<circle cx="275.53" cy="492.01" r="1.0" fill="#fff" stroke="#5cc0f5" stroke-width="0.55"/>
<circle cx="278.88" cy="491.99" r="1.0" fill="#fff" stroke="#5cc0f5" stroke-width="0.55"/>
<circle cx="282.24" cy="491.98" r="1.0" fill="#fff" stroke="#5cc0f5" stroke-width="0.55"/>
<circle cx="285.6" cy="491.97" r="1.0" fill="#fff" stroke="#5cc0f5" stroke-width="0.55"/>
<circle cx="288.95" cy="491.96" r="1.0" fill="#fff" stroke="#5cc0f5" stroke-width="0.55"/>
<circle cx="292.31" cy="491.95" r="1.0" fill="#fff" stroke="#5cc0f5" stroke-width="0.55"/>
<circle cx="295.67" cy="491.94" r="1.0" fill="#fff" stroke="#5cc0f5" stroke-width="0.55"/>
<circle cx="299.02" cy="491.93" r="1.0" fill="#fff" stroke="#5cc0f5" stroke-width="0.55"/>
<circle cx="302.38" cy="491.91" r="1.0" fill="#fff" stroke="#5cc0f5" stroke-width="0.55"/>
<circle cx="305.74" cy="491.9" r="1.0" fill="#fff" stroke="#5cc0f5" stroke-width="0.55"/>
<circle cx="309.09" cy="491.89" r="1.0" fill="#fff" stroke="#5cc0f5" stroke-width="0.55"/>
<circle cx="312.45" cy="491.88" r="1.0" fill="#fff" stroke="#5cc0f5" stroke-width="0.55"/>
<circle cx="315.8" cy="491.87" r="1.0" fill="#fff" stroke="#5cc0f5" stroke-width="0.55"/>
<circle cx="319.16" cy="491.86" r="1.0" fill="#fff" stroke="#5cc0f5" stroke-width="0.55"/>
<circle cx="322.52" cy="491.84" r="1.0" fill="#fff" stroke="#5cc0f5" stroke-width="0.55"/>
<circle cx="325.87" cy="491.83" r="1.0" fill="#fff" stroke="#5cc0f5" stroke-width="0.55"/>
<circle cx="329.23" cy="491.82" r="1.0" fill="#fff" stroke="#5cc0f5" stroke-width="0.55"/>
<circle cx="332.59" cy="491.8" r="1.0" fill="#fff" stroke="#5cc0f5" stroke-width="0.55"/>
<circle cx="335.94" cy="491.79" r="1.0" fill="#fff" stroke="#5cc0f5" stroke-width="0.55"/>
<circle cx="339.3" cy="491.78" r="1.0" fill="#fff" stroke="#5cc0f5" stroke-width="0.55"/>
<circle cx="342.66" cy="491.76" r="1.0" fill="#fff" stroke="#5cc0f5" stroke-width="0.55"/>
<circle cx="346.01" cy="491.75" r="1.0" fill="#fff" stroke="#5cc0f5" stroke-width="0.55"/>
<circle cx="349.37" cy="491.73" r="1.0" fill="#fff" stroke="#5cc0f5" stroke-width="0.55"/>
<circle cx="352.73" cy="491.72" r="1.0" fill="#fff" stroke="#5cc0f5" stroke-width="0.55"/>
<circle cx="356.08" cy="491.71" r="1.0" fill="#fff" stroke="#5cc0f5" stroke-width="0.55"/>
<circle cx="359.44" cy="491.69" r="1.0" fill="#fff" stroke="#5cc0f5" stroke-width="0.55"/>
<circle cx="362.8" cy="491.68" r="1.0" fill="#fff" stroke="#5cc0f5" stroke-width="0.55"/>
<circle cx="366.15" cy="491.67" r="1.0" fill="#fff" stroke="#5cc0f5" stroke-width="0.55"/>
<circle cx="369.51" cy="491.65" r="1.0" fill="#fff" stroke="#5cc0f5" stroke-width="0.55"/>
<circle cx="372.87" cy="491.65" r="1.0" fill="#fff" stroke="#5cc0f5" stroke-width="0.55"/>
<circle cx="376.22" cy="491.65" r="1.0" fill="#fff" stroke="#5cc0f5" stroke-width="0.55"/>
<circle cx="379.58" cy="491.65" r="1.0" fill="#fff" stroke="#5cc0f5" stroke-width="0.55"/>
<circle cx="382.94" cy="491.65" r="1.0" fill="#fff" stroke="#5cc0f5" stroke-width="0.55"/>
<circle cx="386.29" cy="491.75" r="1.0" fill="#fff" stroke="#5cc0f5" stroke-width="0.55"/>
<circle cx="389.65" cy="492.06" r="1.0" fill="#fff" stroke="#5cc0f5" stroke-width="0.55"/>
<circle cx="393.01" cy="492.37" r="1.0" fill="#fff" stroke="#5cc0f5" stroke-width="0.55"/>
<circle cx="396.36" cy="493.54" r="1.0" fill="#fff" stroke="#5cc0f5" stroke-width="0.55"/>
<circle cx="399.72" cy="495.07" r="1.0" fill="#fff" stroke="#5cc0f5" stroke-width="0.55"/>
<circle cx="403.08" cy="497.35" r="1.0" fill="#fff" stroke="#5cc0f5" stroke-width="0.55"/>
<circle cx="406.43" cy="500.15" r="1.0" fill="#fff" stroke="#5cc0f5" stroke-width="0.55"/>
<circle cx="409.79" cy="504.58" r="1.0" fill="#fff" stroke="#5cc0f5" stroke-width="0.55"/>
<circle cx="413.14" cy="510" r="1.0" fill="#fff" stroke="#5cc0f5" stroke-width="0.55"/>
<circle cx="416.5" cy="517.79" r="1.0" fill="#fff" stroke="#5cc0f5" stroke-width="0.55"/>
<circle cx="419.86" cy="530.47" r="1.0" fill="#fff" stroke="#5cc0f5" stroke-width="0.55"/>
<circle cx="423.21" cy="546.69" r="1.0" fill="#fff" stroke="#5cc0f5" stroke-width="0.55"/>
<circle cx="426.57" cy="565.7" r="1.0" fill="#fff" stroke="#5cc0f5" stroke-width="0.55"/>
<circle cx="429.93" cy="589.62" r="1.0" fill="#fff" stroke="#5cc0f5" stroke-width="0.55"/>
<path d="M262.1,490.23 C271.97,490.16 303.23,489.99 321.33,489.82 C339.43,489.65 360.07,489.35 370.69,489.21 C381.32,489.08 381.22,488.94 385.11,489.01 C388.99,489.08 391.03,489.25 393.99,489.62 C396.95,489.99 400.21,490.3 402.88,491.24 C405.54,492.19 407.91,493.61 409.99,495.3 C412.06,496.98 413.7,498.88 415.32,501.38 C416.93,503.88 418.38,506.71 419.66,510.3 C420.94,513.88 421.83,518.13 423.02,522.86 C424.2,527.59 425.52,532.46 426.77,538.68 C428.02,544.89 429.47,552.73 430.52,560.16 C431.57,567.6 432.36,575.84 433.09,583.27 C433.81,590.71 434.34,598.21 434.86,604.76 C435.39,611.32 436.02,619.63 436.25,622.6" fill="none" stroke="#e8965a" stroke-width="1.6" stroke-linecap="round"/>
<circle cx="262.1" cy="490.23" r="1.0" fill="#fff" stroke="#e8965a" stroke-width="0.55"/>
<circle cx="265.46" cy="490.2" r="1.0" fill="#fff" stroke="#e8965a" stroke-width="0.55"/>
<circle cx="268.81" cy="490.18" r="1.0" fill="#fff" stroke="#e8965a" stroke-width="0.55"/>
<circle cx="272.17" cy="490.16" r="1.0" fill="#fff" stroke="#e8965a" stroke-width="0.55"/>
<circle cx="275.53" cy="490.14" r="1.0" fill="#fff" stroke="#e8965a" stroke-width="0.55"/>
<circle cx="278.88" cy="490.11" r="1.0" fill="#fff" stroke="#e8965a" stroke-width="0.55"/>
<circle cx="282.24" cy="490.09" r="1.0" fill="#fff" stroke="#e8965a" stroke-width="0.55"/>
<circle cx="285.6" cy="490.07" r="1.0" fill="#fff" stroke="#e8965a" stroke-width="0.55"/>
<circle cx="288.95" cy="490.04" r="1.0" fill="#fff" stroke="#e8965a" stroke-width="0.55"/>
<circle cx="292.31" cy="490.02" r="1.0" fill="#fff" stroke="#e8965a" stroke-width="0.55"/>
<circle cx="295.67" cy="490" r="1.0" fill="#fff" stroke="#e8965a" stroke-width="0.55"/>
<circle cx="299.02" cy="489.97" r="1.0" fill="#fff" stroke="#e8965a" stroke-width="0.55"/>
<circle cx="302.38" cy="489.95" r="1.0" fill="#fff" stroke="#e8965a" stroke-width="0.55"/>
<circle cx="305.74" cy="489.93" r="1.0" fill="#fff" stroke="#e8965a" stroke-width="0.55"/>
<circle cx="309.09" cy="489.91" r="1.0" fill="#fff" stroke="#e8965a" stroke-width="0.55"/>
<circle cx="312.45" cy="489.88" r="1.0" fill="#fff" stroke="#e8965a" stroke-width="0.55"/>
<circle cx="315.8" cy="489.86" r="1.0" fill="#fff" stroke="#e8965a" stroke-width="0.55"/>
<circle cx="319.16" cy="489.84" r="1.0" fill="#fff" stroke="#e8965a" stroke-width="0.55"/>
<circle cx="322.52" cy="489.81" r="1.0" fill="#fff" stroke="#e8965a" stroke-width="0.55"/>
<circle cx="325.87" cy="489.77" r="1.0" fill="#fff" stroke="#e8965a" stroke-width="0.55"/>
<circle cx="329.23" cy="489.72" r="1.0" fill="#fff" stroke="#e8965a" stroke-width="0.55"/>
<circle cx="332.59" cy="489.68" r="1.0" fill="#fff" stroke="#e8965a" stroke-width="0.55"/>
<circle cx="335.94" cy="489.64" r="1.0" fill="#fff" stroke="#e8965a" stroke-width="0.55"/>
<circle cx="339.3" cy="489.6" r="1.0" fill="#fff" stroke="#e8965a" stroke-width="0.55"/>
<circle cx="342.66" cy="489.56" r="1.0" fill="#fff" stroke="#e8965a" stroke-width="0.55"/>
<circle cx="346.01" cy="489.52" r="1.0" fill="#fff" stroke="#e8965a" stroke-width="0.55"/>
<circle cx="349.37" cy="489.48" r="1.0" fill="#fff" stroke="#e8965a" stroke-width="0.55"/>
<circle cx="352.73" cy="489.44" r="1.0" fill="#fff" stroke="#e8965a" stroke-width="0.55"/>
<circle cx="356.08" cy="489.39" r="1.0" fill="#fff" stroke="#e8965a" stroke-width="0.55"/>
<circle cx="359.44" cy="489.35" r="1.0" fill="#fff" stroke="#e8965a" stroke-width="0.55"/>
<circle cx="362.8" cy="489.31" r="1.0" fill="#fff" stroke="#e8965a" stroke-width="0.55"/>
<circle cx="366.15" cy="489.27" r="1.0" fill="#fff" stroke="#e8965a" stroke-width="0.55"/>
<circle cx="369.51" cy="489.23" r="1.0" fill="#fff" stroke="#e8965a" stroke-width="0.55"/>
<circle cx="372.87" cy="489.18" r="1.0" fill="#fff" stroke="#e8965a" stroke-width="0.55"/>
<circle cx="376.22" cy="489.14" r="1.0" fill="#fff" stroke="#e8965a" stroke-width="0.55"/>
<circle cx="379.58" cy="489.09" r="1.0" fill="#fff" stroke="#e8965a" stroke-width="0.55"/>
<circle cx="382.94" cy="489.04" r="1.0" fill="#fff" stroke="#e8965a" stroke-width="0.55"/>
<circle cx="386.29" cy="489.09" r="1.0" fill="#fff" stroke="#e8965a" stroke-width="0.55"/>
<circle cx="389.65" cy="489.32" r="1.0" fill="#fff" stroke="#e8965a" stroke-width="0.55"/>
<circle cx="393.01" cy="489.55" r="1.0" fill="#fff" stroke="#e8965a" stroke-width="0.55"/>
<circle cx="396.36" cy="490.05" r="1.0" fill="#fff" stroke="#e8965a" stroke-width="0.55"/>
<circle cx="399.72" cy="490.66" r="1.0" fill="#fff" stroke="#e8965a" stroke-width="0.55"/>
<circle cx="403.08" cy="491.35" r="1.0" fill="#fff" stroke="#e8965a" stroke-width="0.55"/>
<circle cx="406.43" cy="493.27" r="1.0" fill="#fff" stroke="#e8965a" stroke-width="0.55"/>
<circle cx="409.79" cy="495.18" r="1.0" fill="#fff" stroke="#e8965a" stroke-width="0.55"/>
<circle cx="413.14" cy="498.9" r="1.0" fill="#fff" stroke="#e8965a" stroke-width="0.55"/>
<circle cx="416.5" cy="503.81" r="1.0" fill="#fff" stroke="#e8965a" stroke-width="0.55"/>
<circle cx="419.86" cy="511.04" r="1.0" fill="#fff" stroke="#e8965a" stroke-width="0.55"/>
<circle cx="423.21" cy="523.7" r="1.0" fill="#fff" stroke="#e8965a" stroke-width="0.55"/>
<circle cx="426.57" cy="537.84" r="1.0" fill="#fff" stroke="#e8965a" stroke-width="0.55"/>
<circle cx="429.93" cy="556.77" r="1.0" fill="#fff" stroke="#e8965a" stroke-width="0.55"/>
<circle cx="433.28" cy="585.66" r="1.0" fill="#fff" stroke="#e8965a" stroke-width="0.55"/>
<line x1="264.4" y1="502.1" x2="284.8" y2="502.1" stroke="#6e6e6e" stroke-width="1.8"/>
<circle cx="274.6" cy="502.1" r="1.1" fill="#fff" stroke="#6e6e6e" stroke-width="0.6"/>
<text x="287" y="505.2" font-size="8.95" text-anchor="start" fill="#111">Control</text>
<line x1="264.4" y1="513" x2="284.8" y2="513" stroke="#dc5474" stroke-width="1.8"/>
<circle cx="274.6" cy="513" r="1.1" fill="#fff" stroke="#dc5474" stroke-width="0.6"/>
<text x="287" y="516.1" font-size="8.95" text-anchor="start" fill="#111">TAPB</text>
<line x1="264.4" y1="524" x2="284.8" y2="524" stroke="#5cc0f5" stroke-width="1.8"/>
<circle cx="274.6" cy="524" r="1.1" fill="#fff" stroke="#5cc0f5" stroke-width="0.6"/>
<text x="287" y="527.1" font-size="8.95" text-anchor="start" fill="#111">TAPOB</text>
<line x1="264.4" y1="534.6" x2="284.8" y2="534.6" stroke="#e8965a" stroke-width="1.8"/>
<circle cx="274.6" cy="534.6" r="1.1" fill="#fff" stroke="#e8965a" stroke-width="0.6"/>
<text x="287" y="537.7" font-size="8.95" text-anchor="start" fill="#111">TPTA</text>
<rect x="262.1" y="480.7" width="177.7" height="141.9" fill="none" stroke="#000" stroke-width="1.6"/>
<line x1="259.4" y1="622.6" x2="262.1" y2="622.6" stroke="#000" stroke-width="1.2"/>
<text x="258.1" y="625.9" font-size="9.5" text-anchor="end" fill="#222">0</text>
<line x1="259.4" y1="602.33" x2="262.1" y2="602.33" stroke="#000" stroke-width="1.2"/>
<text x="258.1" y="605.63" font-size="9.5" text-anchor="end" fill="#222">5</text>
<line x1="259.4" y1="582.06" x2="262.1" y2="582.06" stroke="#000" stroke-width="1.2"/>
<text x="258.1" y="585.36" font-size="9.5" text-anchor="end" fill="#222">10</text>
<line x1="259.4" y1="561.79" x2="262.1" y2="561.79" stroke="#000" stroke-width="1.2"/>
<text x="258.1" y="565.09" font-size="9.5" text-anchor="end" fill="#222">15</text>
<line x1="259.4" y1="541.51" x2="262.1" y2="541.51" stroke="#000" stroke-width="1.2"/>
<text x="258.1" y="544.81" font-size="9.5" text-anchor="end" fill="#222">20</text>
<line x1="259.4" y1="521.24" x2="262.1" y2="521.24" stroke="#000" stroke-width="1.2"/>
<text x="258.1" y="524.54" font-size="9.5" text-anchor="end" fill="#222">25</text>
<line x1="259.4" y1="500.97" x2="262.1" y2="500.97" stroke="#000" stroke-width="1.2"/>
<text x="258.1" y="504.27" font-size="9.5" text-anchor="end" fill="#222">30</text>
<line x1="259.4" y1="480.7" x2="262.1" y2="480.7" stroke="#000" stroke-width="1.2"/>
<text x="258.1" y="484" font-size="9.5" text-anchor="end" fill="#222">35</text>
<line x1="260.2" y1="612.46" x2="262.1" y2="612.46" stroke="#000" stroke-width="0.9"/>
<line x1="260.2" y1="592.19" x2="262.1" y2="592.19" stroke="#000" stroke-width="0.9"/>
<line x1="260.2" y1="571.92" x2="262.1" y2="571.92" stroke="#000" stroke-width="0.9"/>
<line x1="260.2" y1="551.65" x2="262.1" y2="551.65" stroke="#000" stroke-width="0.9"/>
<line x1="260.2" y1="531.38" x2="262.1" y2="531.38" stroke="#000" stroke-width="0.9"/>
<line x1="260.2" y1="511.11" x2="262.1" y2="511.11" stroke="#000" stroke-width="0.9"/>
<line x1="260.2" y1="490.84" x2="262.1" y2="490.84" stroke="#000" stroke-width="0.9"/>
<line x1="262.1" y1="622.6" x2="262.1" y2="625.3" stroke="#000" stroke-width="1.2"/>
<text x="262.1" y="635.4" font-size="9.5" text-anchor="middle" fill="#222">0.0</text>
<line x1="301.59" y1="622.6" x2="301.59" y2="625.3" stroke="#000" stroke-width="1.2"/>
<text x="301.59" y="635.4" font-size="9.5" text-anchor="middle" fill="#222">0.2</text>
<line x1="341.08" y1="622.6" x2="341.08" y2="625.3" stroke="#000" stroke-width="1.2"/>
<text x="341.08" y="635.4" font-size="9.5" text-anchor="middle" fill="#222">0.4</text>
<line x1="380.57" y1="622.6" x2="380.57" y2="625.3" stroke="#000" stroke-width="1.2"/>
<text x="380.57" y="635.4" font-size="9.5" text-anchor="middle" fill="#222">0.6</text>
<line x1="420.06" y1="622.6" x2="420.06" y2="625.3" stroke="#000" stroke-width="1.2"/>
<text x="420.06" y="635.4" font-size="9.5" text-anchor="middle" fill="#222">0.8</text>
<line x1="281.84" y1="622.6" x2="281.84" y2="624.5" stroke="#000" stroke-width="0.9"/>
<line x1="321.33" y1="622.6" x2="321.33" y2="624.5" stroke="#000" stroke-width="0.9"/>
<line x1="360.82" y1="622.6" x2="360.82" y2="624.5" stroke="#000" stroke-width="0.9"/>
<line x1="400.31" y1="622.6" x2="400.31" y2="624.5" stroke="#000" stroke-width="0.9"/>
<line x1="439.8" y1="622.6" x2="439.8" y2="624.5" stroke="#000" stroke-width="0.9"/>
<text x="350.8" y="651.4" font-size="12.3" text-anchor="middle" fill="#111">Voltage (V)</text>
<text x="245.3" y="546.6" font-size="12.2" text-anchor="middle" fill="#111" transform="rotate(-90 245.3 546.6)">Current density (mA cm<tspan font-size="8.6" dy="-4.6">-2</tspan><tspan dy="4.6">)</tspan></text>
<text x="231.6" y="479.4" font-size="12.3" text-anchor="start" fill="#000" font-weight="bold" letter-spacing="0.4">(i)</text>
<polyline points="475.1,580.11 476.21,577.55 477.32,574.94 478.43,570.11 479.53,564.03 480.64,556.92 481.75,550.81 482.86,544.96 483.97,540.27 485.08,535.57 486.18,534.09 487.29,532.61 488.4,530.68 489.51,528.08 490.62,524.94 491.73,521.44 492.83,518.94 493.94,517.91 495.05,516.88 496.16,515.85 497.27,514.61 498.38,513.32 499.48,512.03 500.59,510.73 501.7,509.5 502.81,508.34 503.92,507.19 505.03,506.04 506.14,504.98 507.24,504.26 508.35,503.55 509.46,502.84 510.57,502.13 511.68,501.42 512.79,501.02 513.89,500.62 515,500.22 516.11,499.82 517.22,499.43 518.33,499.43 519.44,499.43 520.54,499.43 521.65,499.43 522.76,499.43 523.87,499.43 524.98,499.35 526.09,499 527.19,498.64 528.3,498.29 529.41,497.93 530.52,497.58 531.63,497.03 532.74,496.48 533.84,495.93 534.95,495.39 536.06,494.84 537.17,494.4 538.28,493.98 539.39,493.56 540.5,493.14 541.6,492.72 542.71,492.3 543.82,491.88 544.93,491.77 546.04,491.66 547.15,491.54 548.25,491.43 549.36,491.31 550.47,491.48 551.58,491.65 552.69,491.82 553.8,491.98 554.9,492.15 556.01,492.32 557.12,492.49 558.23,492.68 559.34,492.87 560.45,493.06 561.55,493.24 562.66,493.43 563.77,493.62 564.88,493.86 565.99,494.18 567.1,494.51 568.21,494.83 569.31,495.15 570.42,495.47 571.53,495.76 572.64,495.96 573.75,496.15 574.86,496.35 575.96,496.54 577.07,496.74 578.18,496.93 579.29,497.38 580.4,498.02 581.51,498.65 582.61,499.28 583.72,499.91 584.83,500.54 585.94,501.17 587.05,501.73 588.16,502.25 589.26,502.77 590.37,503.3 591.48,503.82 592.59,504.34 593.7,504.29 594.81,503.87 595.92,503.44 597.02,503.01 598.13,502.58 599.24,502.16 600.35,501.91 601.46,501.77 602.57,501.63 603.67,501.5 604.78,501.69 605.89,502.37 607,503.04 608.11,503.72 609.22,504.44 610.32,505.35 611.43,506.25 612.54,507.15 613.65,508.06 614.76,508.96 615.87,510.93 616.97,512.89 618.08,514.86 619.19,517.62 620.3,520.9 621.41,524.19 622.52,531.83 623.63,539.53 624.73,547.29 625.84,555.12 626.95,563.23 628.06,571.35 629.17,579.5 630.28,587.65 631.38,593.73 632.49,599.81 633.6,604.78 634.71,609.48 635.82,612.85 636.93,615.89 638.03,617.94 639.14,619.32 640.25,620.7 641.36,621.86 642.47,622.12 643.58,622.39 644.68,622.66 645.79,622.68 646.9,622.7 648.01,622.72 649.12,622.74 650.23,622.77 651.33,622.79" fill="none" stroke="#a9b0b5" stroke-width="1.8" stroke-linejoin="round" stroke-linecap="round"/>
<polyline points="475.1,579.31 476.21,576.75 477.32,574.14 478.43,569.31 479.53,563.23 480.64,556.12 481.75,550.01 482.86,544.16 483.97,539.47 485.08,534.77 486.18,533.29 487.29,531.81 488.4,529.88 489.51,527.28 490.62,524.14 491.73,520.64 492.83,518.14 493.94,517.11 495.05,516.08 496.16,515.05 497.27,513.81 498.38,512.52 499.48,511.23 500.59,509.93 501.7,508.7 502.81,507.54 503.92,506.39 505.03,505.24 506.14,504.18 507.24,503.46 508.35,502.75 509.46,502.04 510.57,501.33 511.68,500.62 512.79,500.22 513.89,499.82 515,499.42 516.11,499.02 517.22,498.63 518.33,498.63 519.44,498.63 520.54,498.63 521.65,498.63 522.76,498.63 523.87,498.63 524.98,498.55 526.09,498.2 527.19,497.84 528.3,497.49 529.41,497.13 530.52,496.78 531.63,496.23 532.74,495.68 533.84,495.13 534.95,494.59 536.06,494.04 537.17,493.6 538.28,493.18 539.39,492.76 540.5,492.34 541.6,491.92 542.71,491.5 543.82,491.08 544.93,490.97 546.04,490.86 547.15,490.74 548.25,490.63 549.36,490.51 550.47,490.68 551.58,490.85 552.69,491.02 553.8,491.18 554.9,491.35 556.01,491.52 557.12,491.69 558.23,491.88 559.34,492.07 560.45,492.26 561.55,492.44 562.66,492.63 563.77,492.82 564.88,493.06 565.99,493.38 567.1,493.71 568.21,494.03 569.31,494.35 570.42,494.67 571.53,494.96 572.64,495.16 573.75,495.35 574.86,495.55 575.96,495.74 577.07,495.94 578.18,496.13 579.29,496.58 580.4,497.22 581.51,497.85 582.61,498.48 583.72,499.11 584.83,499.74 585.94,500.37 587.05,500.93 588.16,501.45 589.26,501.97 590.37,502.5 591.48,503.02 592.59,503.54 593.7,503.49 594.81,503.07 595.92,502.64 597.02,502.21 598.13,501.78 599.24,501.36 600.35,501.11 601.46,500.97 602.57,500.83 603.67,500.7 604.78,500.89 605.89,501.57 607,502.24 608.11,502.92 609.22,503.64 610.32,504.55 611.43,505.45 612.54,506.35 613.65,507.26 614.76,508.16 615.87,510.13 616.97,512.09 618.08,514.06 619.19,516.82 620.3,520.1 621.41,523.39 622.52,531.03 623.63,538.73 624.73,546.49 625.84,554.32 626.95,562.43 628.06,570.55 629.17,578.7 630.28,586.85 631.38,592.93 632.49,599.01 633.6,603.98 634.71,608.68 635.82,612.05 636.93,615.09 638.03,617.14 639.14,618.52 640.25,619.9 641.36,621.06 642.47,621.32 643.58,621.59 644.68,621.86 645.79,621.88 646.9,621.9 648.01,621.92 649.12,621.94 650.23,621.97 651.33,621.99" fill="none" stroke="#e8965a" stroke-width="1.5" stroke-linejoin="round" stroke-linecap="round"/>
<circle cx="475.1" cy="579.31" r="1.5" fill="#fbe3d2" stroke="#e8965a" stroke-width="0.9"/>
<circle cx="477.32" cy="574.14" r="1.5" fill="#fbe3d2" stroke="#e8965a" stroke-width="0.9"/>
<circle cx="479.53" cy="563.23" r="1.5" fill="#fbe3d2" stroke="#e8965a" stroke-width="0.9"/>
<circle cx="481.75" cy="550.01" r="1.5" fill="#fbe3d2" stroke="#e8965a" stroke-width="0.9"/>
<circle cx="483.97" cy="539.47" r="1.5" fill="#fbe3d2" stroke="#e8965a" stroke-width="0.9"/>
<circle cx="486.18" cy="533.29" r="1.5" fill="#fbe3d2" stroke="#e8965a" stroke-width="0.9"/>
<circle cx="488.4" cy="529.88" r="1.5" fill="#fbe3d2" stroke="#e8965a" stroke-width="0.9"/>
<circle cx="490.62" cy="524.14" r="1.5" fill="#fbe3d2" stroke="#e8965a" stroke-width="0.9"/>
<circle cx="492.83" cy="518.14" r="1.5" fill="#fbe3d2" stroke="#e8965a" stroke-width="0.9"/>
<circle cx="495.05" cy="516.08" r="1.5" fill="#fbe3d2" stroke="#e8965a" stroke-width="0.9"/>
<circle cx="497.27" cy="513.81" r="1.5" fill="#fbe3d2" stroke="#e8965a" stroke-width="0.9"/>
<circle cx="499.48" cy="511.23" r="1.5" fill="#fbe3d2" stroke="#e8965a" stroke-width="0.9"/>
<circle cx="501.7" cy="508.7" r="1.5" fill="#fbe3d2" stroke="#e8965a" stroke-width="0.9"/>
<circle cx="503.92" cy="506.39" r="1.5" fill="#fbe3d2" stroke="#e8965a" stroke-width="0.9"/>
<circle cx="506.14" cy="504.18" r="1.5" fill="#fbe3d2" stroke="#e8965a" stroke-width="0.9"/>
<circle cx="508.35" cy="502.75" r="1.5" fill="#fbe3d2" stroke="#e8965a" stroke-width="0.9"/>
<circle cx="510.57" cy="501.33" r="1.5" fill="#fbe3d2" stroke="#e8965a" stroke-width="0.9"/>
<circle cx="512.79" cy="500.22" r="1.5" fill="#fbe3d2" stroke="#e8965a" stroke-width="0.9"/>
<circle cx="515" cy="499.42" r="1.5" fill="#fbe3d2" stroke="#e8965a" stroke-width="0.9"/>
<circle cx="517.22" cy="498.63" r="1.5" fill="#fbe3d2" stroke="#e8965a" stroke-width="0.9"/>
<circle cx="519.44" cy="498.63" r="1.5" fill="#fbe3d2" stroke="#e8965a" stroke-width="0.9"/>
<circle cx="521.65" cy="498.63" r="1.5" fill="#fbe3d2" stroke="#e8965a" stroke-width="0.9"/>
<circle cx="523.87" cy="498.63" r="1.5" fill="#fbe3d2" stroke="#e8965a" stroke-width="0.9"/>
<circle cx="526.09" cy="498.2" r="1.5" fill="#fbe3d2" stroke="#e8965a" stroke-width="0.9"/>
<circle cx="528.3" cy="497.49" r="1.5" fill="#fbe3d2" stroke="#e8965a" stroke-width="0.9"/>
<circle cx="530.52" cy="496.78" r="1.5" fill="#fbe3d2" stroke="#e8965a" stroke-width="0.9"/>
<circle cx="532.74" cy="495.68" r="1.5" fill="#fbe3d2" stroke="#e8965a" stroke-width="0.9"/>
<circle cx="534.95" cy="494.59" r="1.5" fill="#fbe3d2" stroke="#e8965a" stroke-width="0.9"/>
<circle cx="537.17" cy="493.6" r="1.5" fill="#fbe3d2" stroke="#e8965a" stroke-width="0.9"/>
<circle cx="539.39" cy="492.76" r="1.5" fill="#fbe3d2" stroke="#e8965a" stroke-width="0.9"/>
<circle cx="541.6" cy="491.92" r="1.5" fill="#fbe3d2" stroke="#e8965a" stroke-width="0.9"/>
<circle cx="543.82" cy="491.08" r="1.5" fill="#fbe3d2" stroke="#e8965a" stroke-width="0.9"/>
<circle cx="546.04" cy="490.86" r="1.5" fill="#fbe3d2" stroke="#e8965a" stroke-width="0.9"/>
<circle cx="548.25" cy="490.63" r="1.5" fill="#fbe3d2" stroke="#e8965a" stroke-width="0.9"/>
<circle cx="550.47" cy="490.68" r="1.5" fill="#fbe3d2" stroke="#e8965a" stroke-width="0.9"/>
<circle cx="552.69" cy="491.02" r="1.5" fill="#fbe3d2" stroke="#e8965a" stroke-width="0.9"/>
<circle cx="554.9" cy="491.35" r="1.5" fill="#fbe3d2" stroke="#e8965a" stroke-width="0.9"/>
<circle cx="557.12" cy="491.69" r="1.5" fill="#fbe3d2" stroke="#e8965a" stroke-width="0.9"/>
<circle cx="559.34" cy="492.07" r="1.5" fill="#fbe3d2" stroke="#e8965a" stroke-width="0.9"/>
<circle cx="561.55" cy="492.44" r="1.5" fill="#fbe3d2" stroke="#e8965a" stroke-width="0.9"/>
<circle cx="563.77" cy="492.82" r="1.5" fill="#fbe3d2" stroke="#e8965a" stroke-width="0.9"/>
<circle cx="565.99" cy="493.38" r="1.5" fill="#fbe3d2" stroke="#e8965a" stroke-width="0.9"/>
<circle cx="568.21" cy="494.03" r="1.5" fill="#fbe3d2" stroke="#e8965a" stroke-width="0.9"/>
<circle cx="570.42" cy="494.67" r="1.5" fill="#fbe3d2" stroke="#e8965a" stroke-width="0.9"/>
<circle cx="572.64" cy="495.16" r="1.5" fill="#fbe3d2" stroke="#e8965a" stroke-width="0.9"/>
<circle cx="574.86" cy="495.55" r="1.5" fill="#fbe3d2" stroke="#e8965a" stroke-width="0.9"/>
<circle cx="577.07" cy="495.94" r="1.5" fill="#fbe3d2" stroke="#e8965a" stroke-width="0.9"/>
<circle cx="579.29" cy="496.58" r="1.5" fill="#fbe3d2" stroke="#e8965a" stroke-width="0.9"/>
<circle cx="581.51" cy="497.85" r="1.5" fill="#fbe3d2" stroke="#e8965a" stroke-width="0.9"/>
<circle cx="583.72" cy="499.11" r="1.5" fill="#fbe3d2" stroke="#e8965a" stroke-width="0.9"/>
<circle cx="585.94" cy="500.37" r="1.5" fill="#fbe3d2" stroke="#e8965a" stroke-width="0.9"/>
<circle cx="588.16" cy="501.45" r="1.5" fill="#fbe3d2" stroke="#e8965a" stroke-width="0.9"/>
<circle cx="590.37" cy="502.5" r="1.5" fill="#fbe3d2" stroke="#e8965a" stroke-width="0.9"/>
<circle cx="592.59" cy="503.54" r="1.5" fill="#fbe3d2" stroke="#e8965a" stroke-width="0.9"/>
<circle cx="594.81" cy="503.07" r="1.5" fill="#fbe3d2" stroke="#e8965a" stroke-width="0.9"/>
<circle cx="597.02" cy="502.21" r="1.5" fill="#fbe3d2" stroke="#e8965a" stroke-width="0.9"/>
<circle cx="599.24" cy="501.36" r="1.5" fill="#fbe3d2" stroke="#e8965a" stroke-width="0.9"/>
<circle cx="601.46" cy="500.97" r="1.5" fill="#fbe3d2" stroke="#e8965a" stroke-width="0.9"/>
<circle cx="603.67" cy="500.7" r="1.5" fill="#fbe3d2" stroke="#e8965a" stroke-width="0.9"/>
<circle cx="605.89" cy="501.57" r="1.5" fill="#fbe3d2" stroke="#e8965a" stroke-width="0.9"/>
<circle cx="608.11" cy="502.92" r="1.5" fill="#fbe3d2" stroke="#e8965a" stroke-width="0.9"/>
<circle cx="610.32" cy="504.55" r="1.5" fill="#fbe3d2" stroke="#e8965a" stroke-width="0.9"/>
<circle cx="612.54" cy="506.35" r="1.5" fill="#fbe3d2" stroke="#e8965a" stroke-width="0.9"/>
<circle cx="614.76" cy="508.16" r="1.5" fill="#fbe3d2" stroke="#e8965a" stroke-width="0.9"/>
<circle cx="616.97" cy="512.09" r="1.5" fill="#fbe3d2" stroke="#e8965a" stroke-width="0.9"/>
<circle cx="619.19" cy="516.82" r="1.5" fill="#fbe3d2" stroke="#e8965a" stroke-width="0.9"/>
<circle cx="621.41" cy="523.39" r="1.5" fill="#fbe3d2" stroke="#e8965a" stroke-width="0.9"/>
<circle cx="623.63" cy="538.73" r="1.5" fill="#fbe3d2" stroke="#e8965a" stroke-width="0.9"/>
<circle cx="625.84" cy="554.32" r="1.5" fill="#fbe3d2" stroke="#e8965a" stroke-width="0.9"/>
<circle cx="628.06" cy="570.55" r="1.5" fill="#fbe3d2" stroke="#e8965a" stroke-width="0.9"/>
<circle cx="630.28" cy="586.85" r="1.5" fill="#fbe3d2" stroke="#e8965a" stroke-width="0.9"/>
<circle cx="632.49" cy="599.01" r="1.5" fill="#fbe3d2" stroke="#e8965a" stroke-width="0.9"/>
<circle cx="634.71" cy="608.68" r="1.5" fill="#fbe3d2" stroke="#e8965a" stroke-width="0.9"/>
<circle cx="636.93" cy="615.09" r="1.5" fill="#fbe3d2" stroke="#e8965a" stroke-width="0.9"/>
<circle cx="639.14" cy="618.52" r="1.5" fill="#fbe3d2" stroke="#e8965a" stroke-width="0.9"/>
<circle cx="641.36" cy="621.06" r="1.5" fill="#fbe3d2" stroke="#e8965a" stroke-width="0.9"/>
<circle cx="643.58" cy="621.59" r="1.5" fill="#fbe3d2" stroke="#e8965a" stroke-width="0.9"/>
<circle cx="645.79" cy="621.88" r="1.5" fill="#fbe3d2" stroke="#e8965a" stroke-width="0.9"/>
<circle cx="648.01" cy="621.92" r="1.5" fill="#fbe3d2" stroke="#e8965a" stroke-width="0.9"/>
<circle cx="650.23" cy="621.97" r="1.5" fill="#fbe3d2" stroke="#e8965a" stroke-width="0.9"/>
<polyline points="475.1,622 476.21,621.92 477.32,621.85 478.43,621.77 479.53,621.7 480.64,621.62 481.75,621.55 482.86,621.47 483.97,621.4 485.08,621.32 486.18,621.25 487.29,621.17 488.4,621.1 489.51,620.9 490.62,620.62 491.73,620.33 492.83,620.05 493.94,619.77 495.05,619.49 496.16,619.21 497.27,618.71 498.38,618.15 499.48,617.6 500.59,617.04 501.7,616.48 502.81,615.93 503.92,615.37 505.03,614.56 506.14,613.75 507.24,612.93 508.35,612.12 509.46,611.31 510.57,610.49 511.68,609.68 512.79,608.56 513.89,607.44 515,606.33 516.11,605.21 517.22,604.09 518.33,602.97 519.44,601.83 520.54,600.57 521.65,599.32 522.76,598.06 523.87,596.8 524.98,595.55 526.09,594.29 527.19,593.04 528.3,591.78 529.41,590.53 530.52,589.27 531.63,588.02 532.74,586.76 533.84,585.5 534.95,584.25 536.06,582.99 537.17,581.74 538.28,580.48 539.39,579.23 540.5,577.97 541.6,576.72 542.71,575.36 543.82,573.99 544.93,572.61 546.04,571.24 547.15,569.86 548.25,568.49 549.36,567.11 550.47,565.86 551.58,564.6 552.69,563.35 553.8,562.09 554.9,560.83 556.01,559.58 557.12,558.32 558.23,557.07 559.34,555.81 560.45,554.56 561.55,553.3 562.66,552.05 563.77,550.79 564.88,549.46 565.99,548.02 567.1,546.58 568.21,545.14 569.31,543.7 570.42,542.27 571.53,540.85 572.64,539.43 573.75,538 574.86,536.58 575.96,535.16 577.07,533.73 578.18,532.31 579.29,531.03 580.4,529.85 581.51,528.67 582.61,527.49 583.72,526.3 584.83,525.12 585.94,523.94 587.05,522.76 588.16,521.58 589.26,520.44 590.37,519.31 591.48,518.17 592.59,517.04 593.7,515.9 594.81,514.77 595.92,513.63 597.02,512.5 598.13,511.37 599.24,510.26 600.35,509.15 601.46,508.03 602.57,506.92 603.67,505.81 604.78,504.69 605.89,503.58 607,502.47 608.11,501.76 609.22,501.05 610.32,500.34 611.43,499.63 612.54,498.92 613.65,498.21 614.76,497.5 615.87,496.79 616.97,496.18 618.08,495.71 619.19,495.23 620.3,494.76 621.41,494.29 622.52,493.82 623.63,493.34 624.73,492.87 625.84,492.4 626.95,492.19 628.06,492.05 629.17,491.91 630.28,491.76 631.38,491.62 632.49,491.48 633.6,491.34 634.71,491.2 635.82,491.08 636.93,491.07 638.03,491.06 639.14,491.05 640.25,491.04 641.36,491.03 642.47,491.02 643.58,491 644.68,490.99 645.79,490.98 646.9,490.97 648.01,490.96 649.12,490.95 650.23,490.94 651.33,490.93" fill="none" stroke="#e8965a" stroke-width="1.5" stroke-linejoin="round" stroke-linecap="round"/>
<circle cx="475.1" cy="622" r="1.5" fill="#fbe3d2" stroke="#e8965a" stroke-width="0.9"/>
<circle cx="477.32" cy="621.85" r="1.5" fill="#fbe3d2" stroke="#e8965a" stroke-width="0.9"/>
<circle cx="479.53" cy="621.7" r="1.5" fill="#fbe3d2" stroke="#e8965a" stroke-width="0.9"/>
<circle cx="481.75" cy="621.55" r="1.5" fill="#fbe3d2" stroke="#e8965a" stroke-width="0.9"/>
<circle cx="483.97" cy="621.4" r="1.5" fill="#fbe3d2" stroke="#e8965a" stroke-width="0.9"/>
<circle cx="486.18" cy="621.25" r="1.5" fill="#fbe3d2" stroke="#e8965a" stroke-width="0.9"/>
<circle cx="488.4" cy="621.1" r="1.5" fill="#fbe3d2" stroke="#e8965a" stroke-width="0.9"/>
<circle cx="490.62" cy="620.62" r="1.5" fill="#fbe3d2" stroke="#e8965a" stroke-width="0.9"/>
<circle cx="492.83" cy="620.05" r="1.5" fill="#fbe3d2" stroke="#e8965a" stroke-width="0.9"/>
<circle cx="495.05" cy="619.49" r="1.5" fill="#fbe3d2" stroke="#e8965a" stroke-width="0.9"/>
<circle cx="497.27" cy="618.71" r="1.5" fill="#fbe3d2" stroke="#e8965a" stroke-width="0.9"/>
<circle cx="499.48" cy="617.6" r="1.5" fill="#fbe3d2" stroke="#e8965a" stroke-width="0.9"/>
<circle cx="501.7" cy="616.48" r="1.5" fill="#fbe3d2" stroke="#e8965a" stroke-width="0.9"/>
<circle cx="503.92" cy="615.37" r="1.5" fill="#fbe3d2" stroke="#e8965a" stroke-width="0.9"/>
<circle cx="506.14" cy="613.75" r="1.5" fill="#fbe3d2" stroke="#e8965a" stroke-width="0.9"/>
<circle cx="508.35" cy="612.12" r="1.5" fill="#fbe3d2" stroke="#e8965a" stroke-width="0.9"/>
<circle cx="510.57" cy="610.49" r="1.5" fill="#fbe3d2" stroke="#e8965a" stroke-width="0.9"/>
<circle cx="512.79" cy="608.56" r="1.5" fill="#fbe3d2" stroke="#e8965a" stroke-width="0.9"/>
<circle cx="515" cy="606.33" r="1.5" fill="#fbe3d2" stroke="#e8965a" stroke-width="0.9"/>
<circle cx="517.22" cy="604.09" r="1.5" fill="#fbe3d2" stroke="#e8965a" stroke-width="0.9"/>
<circle cx="519.44" cy="601.83" r="1.5" fill="#fbe3d2" stroke="#e8965a" stroke-width="0.9"/>
<circle cx="521.65" cy="599.32" r="1.5" fill="#fbe3d2" stroke="#e8965a" stroke-width="0.9"/>
<circle cx="523.87" cy="596.8" r="1.5" fill="#fbe3d2" stroke="#e8965a" stroke-width="0.9"/>
<circle cx="526.09" cy="594.29" r="1.5" fill="#fbe3d2" stroke="#e8965a" stroke-width="0.9"/>
<circle cx="528.3" cy="591.78" r="1.5" fill="#fbe3d2" stroke="#e8965a" stroke-width="0.9"/>
<circle cx="530.52" cy="589.27" r="1.5" fill="#fbe3d2" stroke="#e8965a" stroke-width="0.9"/>
<circle cx="532.74" cy="586.76" r="1.5" fill="#fbe3d2" stroke="#e8965a" stroke-width="0.9"/>
<circle cx="534.95" cy="584.25" r="1.5" fill="#fbe3d2" stroke="#e8965a" stroke-width="0.9"/>
<circle cx="537.17" cy="581.74" r="1.5" fill="#fbe3d2" stroke="#e8965a" stroke-width="0.9"/>
<circle cx="539.39" cy="579.23" r="1.5" fill="#fbe3d2" stroke="#e8965a" stroke-width="0.9"/>
<circle cx="541.6" cy="576.72" r="1.5" fill="#fbe3d2" stroke="#e8965a" stroke-width="0.9"/>
<circle cx="543.82" cy="573.99" r="1.5" fill="#fbe3d2" stroke="#e8965a" stroke-width="0.9"/>
<circle cx="546.04" cy="571.24" r="1.5" fill="#fbe3d2" stroke="#e8965a" stroke-width="0.9"/>
<circle cx="548.25" cy="568.49" r="1.5" fill="#fbe3d2" stroke="#e8965a" stroke-width="0.9"/>
<circle cx="550.47" cy="565.86" r="1.5" fill="#fbe3d2" stroke="#e8965a" stroke-width="0.9"/>
<circle cx="552.69" cy="563.35" r="1.5" fill="#fbe3d2" stroke="#e8965a" stroke-width="0.9"/>
<circle cx="554.9" cy="560.83" r="1.5" fill="#fbe3d2" stroke="#e8965a" stroke-width="0.9"/>
<circle cx="557.12" cy="558.32" r="1.5" fill="#fbe3d2" stroke="#e8965a" stroke-width="0.9"/>
<circle cx="559.34" cy="555.81" r="1.5" fill="#fbe3d2" stroke="#e8965a" stroke-width="0.9"/>
<circle cx="561.55" cy="553.3" r="1.5" fill="#fbe3d2" stroke="#e8965a" stroke-width="0.9"/>
<circle cx="563.77" cy="550.79" r="1.5" fill="#fbe3d2" stroke="#e8965a" stroke-width="0.9"/>
<circle cx="565.99" cy="548.02" r="1.5" fill="#fbe3d2" stroke="#e8965a" stroke-width="0.9"/>
<circle cx="568.21" cy="545.14" r="1.5" fill="#fbe3d2" stroke="#e8965a" stroke-width="0.9"/>
<circle cx="570.42" cy="542.27" r="1.5" fill="#fbe3d2" stroke="#e8965a" stroke-width="0.9"/>
<circle cx="572.64" cy="539.43" r="1.5" fill="#fbe3d2" stroke="#e8965a" stroke-width="0.9"/>
<circle cx="574.86" cy="536.58" r="1.5" fill="#fbe3d2" stroke="#e8965a" stroke-width="0.9"/>
<circle cx="577.07" cy="533.73" r="1.5" fill="#fbe3d2" stroke="#e8965a" stroke-width="0.9"/>
<circle cx="579.29" cy="531.03" r="1.5" fill="#fbe3d2" stroke="#e8965a" stroke-width="0.9"/>
<circle cx="581.51" cy="528.67" r="1.5" fill="#fbe3d2" stroke="#e8965a" stroke-width="0.9"/>
<circle cx="583.72" cy="526.3" r="1.5" fill="#fbe3d2" stroke="#e8965a" stroke-width="0.9"/>
<circle cx="585.94" cy="523.94" r="1.5" fill="#fbe3d2" stroke="#e8965a" stroke-width="0.9"/>
<circle cx="588.16" cy="521.58" r="1.5" fill="#fbe3d2" stroke="#e8965a" stroke-width="0.9"/>
<circle cx="590.37" cy="519.31" r="1.5" fill="#fbe3d2" stroke="#e8965a" stroke-width="0.9"/>
<circle cx="592.59" cy="517.04" r="1.5" fill="#fbe3d2" stroke="#e8965a" stroke-width="0.9"/>
<circle cx="594.81" cy="514.77" r="1.5" fill="#fbe3d2" stroke="#e8965a" stroke-width="0.9"/>
<circle cx="597.02" cy="512.5" r="1.5" fill="#fbe3d2" stroke="#e8965a" stroke-width="0.9"/>
<circle cx="599.24" cy="510.26" r="1.5" fill="#fbe3d2" stroke="#e8965a" stroke-width="0.9"/>
<circle cx="601.46" cy="508.03" r="1.5" fill="#fbe3d2" stroke="#e8965a" stroke-width="0.9"/>
<circle cx="603.67" cy="505.81" r="1.5" fill="#fbe3d2" stroke="#e8965a" stroke-width="0.9"/>
<circle cx="605.89" cy="503.58" r="1.5" fill="#fbe3d2" stroke="#e8965a" stroke-width="0.9"/>
<circle cx="608.11" cy="501.76" r="1.5" fill="#fbe3d2" stroke="#e8965a" stroke-width="0.9"/>
<circle cx="610.32" cy="500.34" r="1.5" fill="#fbe3d2" stroke="#e8965a" stroke-width="0.9"/>
<circle cx="612.54" cy="498.92" r="1.5" fill="#fbe3d2" stroke="#e8965a" stroke-width="0.9"/>
<circle cx="614.76" cy="497.5" r="1.5" fill="#fbe3d2" stroke="#e8965a" stroke-width="0.9"/>
<circle cx="616.97" cy="496.18" r="1.5" fill="#fbe3d2" stroke="#e8965a" stroke-width="0.9"/>
<circle cx="619.19" cy="495.23" r="1.5" fill="#fbe3d2" stroke="#e8965a" stroke-width="0.9"/>
<circle cx="621.41" cy="494.29" r="1.5" fill="#fbe3d2" stroke="#e8965a" stroke-width="0.9"/>
<circle cx="623.63" cy="493.34" r="1.5" fill="#fbe3d2" stroke="#e8965a" stroke-width="0.9"/>
<circle cx="625.84" cy="492.4" r="1.5" fill="#fbe3d2" stroke="#e8965a" stroke-width="0.9"/>
<circle cx="628.06" cy="492.05" r="1.5" fill="#fbe3d2" stroke="#e8965a" stroke-width="0.9"/>
<circle cx="630.28" cy="491.76" r="1.5" fill="#fbe3d2" stroke="#e8965a" stroke-width="0.9"/>
<circle cx="632.49" cy="491.48" r="1.5" fill="#fbe3d2" stroke="#e8965a" stroke-width="0.9"/>
<circle cx="634.71" cy="491.2" r="1.5" fill="#fbe3d2" stroke="#e8965a" stroke-width="0.9"/>
<circle cx="636.93" cy="491.07" r="1.5" fill="#fbe3d2" stroke="#e8965a" stroke-width="0.9"/>
<circle cx="639.14" cy="491.05" r="1.5" fill="#fbe3d2" stroke="#e8965a" stroke-width="0.9"/>
<circle cx="641.36" cy="491.03" r="1.5" fill="#fbe3d2" stroke="#e8965a" stroke-width="0.9"/>
<circle cx="643.58" cy="491" r="1.5" fill="#fbe3d2" stroke="#e8965a" stroke-width="0.9"/>
<circle cx="645.79" cy="490.98" r="1.5" fill="#fbe3d2" stroke="#e8965a" stroke-width="0.9"/>
<circle cx="648.01" cy="490.96" r="1.5" fill="#fbe3d2" stroke="#e8965a" stroke-width="0.9"/>
<circle cx="650.23" cy="490.94" r="1.5" fill="#fbe3d2" stroke="#e8965a" stroke-width="0.9"/>
<rect x="475.1" y="479.7" width="176.9" height="142.3" fill="none" stroke="#000" stroke-width="1.6"/>
<line x1="472.4" y1="622" x2="475.1" y2="622" stroke="#000" stroke-width="1.2"/>
<text x="471.1" y="625.3" font-size="9.5" text-anchor="end" fill="#222">0</text>
<line x1="472.4" y1="593.54" x2="475.1" y2="593.54" stroke="#000" stroke-width="1.2"/>
<text x="471.1" y="596.84" font-size="9.5" text-anchor="end" fill="#222">20</text>
<line x1="472.4" y1="565.08" x2="475.1" y2="565.08" stroke="#000" stroke-width="1.2"/>
<text x="471.1" y="568.38" font-size="9.5" text-anchor="end" fill="#222">40</text>
<line x1="472.4" y1="536.62" x2="475.1" y2="536.62" stroke="#000" stroke-width="1.2"/>
<text x="471.1" y="539.92" font-size="9.5" text-anchor="end" fill="#222">60</text>
<line x1="472.4" y1="508.16" x2="475.1" y2="508.16" stroke="#000" stroke-width="1.2"/>
<text x="471.1" y="511.46" font-size="9.5" text-anchor="end" fill="#222">80</text>
<line x1="472.4" y1="479.7" x2="475.1" y2="479.7" stroke="#000" stroke-width="1.2"/>
<text x="471.1" y="483" font-size="9.5" text-anchor="end" fill="#222">100</text>
<line x1="473.2" y1="607.77" x2="475.1" y2="607.77" stroke="#000" stroke-width="0.9"/>
<line x1="473.2" y1="579.31" x2="475.1" y2="579.31" stroke="#000" stroke-width="0.9"/>
<line x1="473.2" y1="550.85" x2="475.1" y2="550.85" stroke="#000" stroke-width="0.9"/>
<line x1="473.2" y1="522.39" x2="475.1" y2="522.39" stroke="#000" stroke-width="0.9"/>
<line x1="473.2" y1="493.93" x2="475.1" y2="493.93" stroke="#000" stroke-width="0.9"/>
<line x1="652" y1="622" x2="654.7" y2="622" stroke="#000" stroke-width="1.2"/>
<text x="655.5" y="625.3" font-size="9.5" text-anchor="start" fill="#222">0</text>
<line x1="652" y1="601.67" x2="654.7" y2="601.67" stroke="#000" stroke-width="1.2"/>
<text x="655.5" y="604.97" font-size="9.5" text-anchor="start" fill="#222">5</text>
<line x1="652" y1="581.34" x2="654.7" y2="581.34" stroke="#000" stroke-width="1.2"/>
<text x="655.5" y="584.64" font-size="9.5" text-anchor="start" fill="#222">10</text>
<line x1="652" y1="561.01" x2="654.7" y2="561.01" stroke="#000" stroke-width="1.2"/>
<text x="655.5" y="564.31" font-size="9.5" text-anchor="start" fill="#222">15</text>
<line x1="652" y1="540.69" x2="654.7" y2="540.69" stroke="#000" stroke-width="1.2"/>
<text x="655.5" y="543.99" font-size="9.5" text-anchor="start" fill="#222">20</text>
<line x1="652" y1="520.36" x2="654.7" y2="520.36" stroke="#000" stroke-width="1.2"/>
<text x="655.5" y="523.66" font-size="9.5" text-anchor="start" fill="#222">25</text>
<line x1="652" y1="500.03" x2="654.7" y2="500.03" stroke="#000" stroke-width="1.2"/>
<text x="655.5" y="503.33" font-size="9.5" text-anchor="start" fill="#222">30</text>
<line x1="652" y1="479.7" x2="654.7" y2="479.7" stroke="#000" stroke-width="1.2"/>
<text x="655.5" y="483" font-size="9.5" text-anchor="start" fill="#222">35</text>
<line x1="652" y1="611.84" x2="653.9" y2="611.84" stroke="#000" stroke-width="0.9"/>
<line x1="652" y1="591.51" x2="653.9" y2="591.51" stroke="#000" stroke-width="0.9"/>
<line x1="652" y1="571.18" x2="653.9" y2="571.18" stroke="#000" stroke-width="0.9"/>
<line x1="652" y1="550.85" x2="653.9" y2="550.85" stroke="#000" stroke-width="0.9"/>
<line x1="652" y1="530.52" x2="653.9" y2="530.52" stroke="#000" stroke-width="0.9"/>
<line x1="652" y1="510.19" x2="653.9" y2="510.19" stroke="#000" stroke-width="0.9"/>
<line x1="652" y1="489.86" x2="653.9" y2="489.86" stroke="#000" stroke-width="0.9"/>
<line x1="475.1" y1="622" x2="475.1" y2="624.7" stroke="#000" stroke-width="1.2"/>
<text x="475.1" y="634.8" font-size="9.5" text-anchor="middle" fill="#222">300</text>
<line x1="508.35" y1="622" x2="508.35" y2="624.7" stroke="#000" stroke-width="1.2"/>
<text x="508.35" y="634.8" font-size="9.5" text-anchor="middle" fill="#222">450</text>
<line x1="541.6" y1="622" x2="541.6" y2="624.7" stroke="#000" stroke-width="1.2"/>
<text x="541.6" y="634.8" font-size="9.5" text-anchor="middle" fill="#222">600</text>
<line x1="574.86" y1="622" x2="574.86" y2="624.7" stroke="#000" stroke-width="1.2"/>
<text x="574.86" y="634.8" font-size="9.5" text-anchor="middle" fill="#222">750</text>
<line x1="608.11" y1="622" x2="608.11" y2="624.7" stroke="#000" stroke-width="1.2"/>
<text x="608.11" y="634.8" font-size="9.5" text-anchor="middle" fill="#222">900</text>
<line x1="641.36" y1="622" x2="641.36" y2="624.7" stroke="#000" stroke-width="1.2"/>
<text x="641.36" y="634.8" font-size="9.5" text-anchor="middle" fill="#222">1050</text>
<line x1="491.73" y1="622" x2="491.73" y2="623.9" stroke="#000" stroke-width="0.9"/>
<line x1="524.98" y1="622" x2="524.98" y2="623.9" stroke="#000" stroke-width="0.9"/>
<line x1="558.23" y1="622" x2="558.23" y2="623.9" stroke="#000" stroke-width="0.9"/>
<line x1="591.48" y1="622" x2="591.48" y2="623.9" stroke="#000" stroke-width="0.9"/>
<line x1="624.73" y1="622" x2="624.73" y2="623.9" stroke="#000" stroke-width="0.9"/>
<text x="563.8" y="652.6" font-size="12.3" text-anchor="middle" fill="#111">Wavelength (nm)</text>
<text x="451.3" y="550.8" font-size="12.2" text-anchor="middle" fill="#111" transform="rotate(-90 451.3 550.8)">EQE(%)</text>
<text x="673.6" y="550.8" font-size="12.3" text-anchor="middle" fill="#111" transform="rotate(90 673.6 550.8)">Integrated J<tspan font-size="7.5" dy="2.5">sc</tspan><tspan dy="-2.5"> (mA/cm</tspan><tspan font-size="7.5" dy="-4">2</tspan><tspan dy="4">)</tspan></text>
<text x="523.8" y="606.5" font-size="9.3" fill="#8d9296">Control EQE=31.98mA/cm<tspan font-size="6.5" dy="-3.5">2</tspan></text>
<text x="523" y="618.6" font-size="9.3" fill="#e8965a">TPTA EQE=32.24mA/cm<tspan font-size="6.5" dy="-3.5">2</tspan></text>
<text x="440.4" y="479.8" font-size="12.5" text-anchor="start" fill="#000" font-weight="bold" letter-spacing="0.3">(j)</text>
<circle cx="33.1" cy="686.62" r="1.45" fill="#fae2cf" stroke="#e8965a" stroke-width="0.85"/>
<circle cx="34.95" cy="688.12" r="1.45" fill="#fae2cf" stroke="#e8965a" stroke-width="0.85"/>
<circle cx="36.8" cy="688.52" r="1.45" fill="#fae2cf" stroke="#e8965a" stroke-width="0.85"/>
<circle cx="38.66" cy="687.72" r="1.45" fill="#fae2cf" stroke="#e8965a" stroke-width="0.85"/>
<circle cx="40.51" cy="687.84" r="1.45" fill="#fae2cf" stroke="#e8965a" stroke-width="0.85"/>
<circle cx="42.36" cy="687.24" r="1.45" fill="#fae2cf" stroke="#e8965a" stroke-width="0.85"/>
<circle cx="44.21" cy="687.61" r="1.45" fill="#fae2cf" stroke="#e8965a" stroke-width="0.85"/>
<circle cx="46.06" cy="686.3" r="1.45" fill="#fae2cf" stroke="#e8965a" stroke-width="0.85"/>
<circle cx="47.92" cy="685.83" r="1.45" fill="#fae2cf" stroke="#e8965a" stroke-width="0.85"/>
<circle cx="49.77" cy="687.37" r="1.45" fill="#fae2cf" stroke="#e8965a" stroke-width="0.85"/>
<circle cx="51.62" cy="686.35" r="1.45" fill="#fae2cf" stroke="#e8965a" stroke-width="0.85"/>
<circle cx="53.47" cy="686.23" r="1.45" fill="#fae2cf" stroke="#e8965a" stroke-width="0.85"/>
<circle cx="55.32" cy="687.14" r="1.45" fill="#fae2cf" stroke="#e8965a" stroke-width="0.85"/>
<circle cx="57.18" cy="687.67" r="1.45" fill="#fae2cf" stroke="#e8965a" stroke-width="0.85"/>
<circle cx="59.03" cy="688" r="1.45" fill="#fae2cf" stroke="#e8965a" stroke-width="0.85"/>
<circle cx="60.88" cy="686.52" r="1.45" fill="#fae2cf" stroke="#e8965a" stroke-width="0.85"/>
<circle cx="62.73" cy="685.46" r="1.45" fill="#fae2cf" stroke="#e8965a" stroke-width="0.85"/>
<circle cx="64.58" cy="686.03" r="1.45" fill="#fae2cf" stroke="#e8965a" stroke-width="0.85"/>
<circle cx="66.44" cy="685.06" r="1.45" fill="#fae2cf" stroke="#e8965a" stroke-width="0.85"/>
<circle cx="68.29" cy="685.73" r="1.45" fill="#fae2cf" stroke="#e8965a" stroke-width="0.85"/>
<circle cx="70.14" cy="685.86" r="1.45" fill="#fae2cf" stroke="#e8965a" stroke-width="0.85"/>
<circle cx="71.99" cy="685.42" r="1.45" fill="#fae2cf" stroke="#e8965a" stroke-width="0.85"/>
<circle cx="73.85" cy="685.41" r="1.45" fill="#fae2cf" stroke="#e8965a" stroke-width="0.85"/>
<circle cx="75.7" cy="685.82" r="1.45" fill="#fae2cf" stroke="#e8965a" stroke-width="0.85"/>
<circle cx="77.55" cy="685.14" r="1.45" fill="#fae2cf" stroke="#e8965a" stroke-width="0.85"/>
<circle cx="79.4" cy="686.28" r="1.45" fill="#fae2cf" stroke="#e8965a" stroke-width="0.85"/>
<circle cx="81.25" cy="687.11" r="1.45" fill="#fae2cf" stroke="#e8965a" stroke-width="0.85"/>
<circle cx="83.11" cy="686.18" r="1.45" fill="#fae2cf" stroke="#e8965a" stroke-width="0.85"/>
<circle cx="84.96" cy="685.97" r="1.45" fill="#fae2cf" stroke="#e8965a" stroke-width="0.85"/>
<circle cx="86.81" cy="686.88" r="1.45" fill="#fae2cf" stroke="#e8965a" stroke-width="0.85"/>
<circle cx="88.66" cy="686.71" r="1.45" fill="#fae2cf" stroke="#e8965a" stroke-width="0.85"/>
<circle cx="90.51" cy="686.41" r="1.45" fill="#fae2cf" stroke="#e8965a" stroke-width="0.85"/>
<circle cx="92.37" cy="686.61" r="1.45" fill="#fae2cf" stroke="#e8965a" stroke-width="0.85"/>
<circle cx="94.22" cy="687.22" r="1.45" fill="#fae2cf" stroke="#e8965a" stroke-width="0.85"/>
<circle cx="96.07" cy="687.8" r="1.45" fill="#fae2cf" stroke="#e8965a" stroke-width="0.85"/>
<circle cx="97.92" cy="686.33" r="1.45" fill="#fae2cf" stroke="#e8965a" stroke-width="0.85"/>
<circle cx="99.77" cy="685.48" r="1.45" fill="#fae2cf" stroke="#e8965a" stroke-width="0.85"/>
<circle cx="101.63" cy="683.46" r="1.45" fill="#fae2cf" stroke="#e8965a" stroke-width="0.85"/>
<circle cx="103.48" cy="683.76" r="1.45" fill="#fae2cf" stroke="#e8965a" stroke-width="0.85"/>
<circle cx="105.33" cy="684.6" r="1.45" fill="#fae2cf" stroke="#e8965a" stroke-width="0.85"/>
<circle cx="107.18" cy="684" r="1.45" fill="#fae2cf" stroke="#e8965a" stroke-width="0.85"/>
<circle cx="109.03" cy="686.17" r="1.45" fill="#fae2cf" stroke="#e8965a" stroke-width="0.85"/>
<circle cx="110.89" cy="685.61" r="1.45" fill="#fae2cf" stroke="#e8965a" stroke-width="0.85"/>
<circle cx="112.74" cy="685.77" r="1.45" fill="#fae2cf" stroke="#e8965a" stroke-width="0.85"/>
<circle cx="114.59" cy="686.41" r="1.45" fill="#fae2cf" stroke="#e8965a" stroke-width="0.85"/>
<circle cx="116.44" cy="685.66" r="1.45" fill="#fae2cf" stroke="#e8965a" stroke-width="0.85"/>
<circle cx="118.29" cy="685.84" r="1.45" fill="#fae2cf" stroke="#e8965a" stroke-width="0.85"/>
<circle cx="120.15" cy="686.44" r="1.45" fill="#fae2cf" stroke="#e8965a" stroke-width="0.85"/>
<circle cx="122" cy="686.32" r="1.45" fill="#fae2cf" stroke="#e8965a" stroke-width="0.85"/>
<circle cx="123.85" cy="686.97" r="1.45" fill="#fae2cf" stroke="#e8965a" stroke-width="0.85"/>
<circle cx="125.7" cy="687.78" r="1.45" fill="#fae2cf" stroke="#e8965a" stroke-width="0.85"/>
<circle cx="127.55" cy="687.25" r="1.45" fill="#fae2cf" stroke="#e8965a" stroke-width="0.85"/>
<circle cx="129.41" cy="686.71" r="1.45" fill="#fae2cf" stroke="#e8965a" stroke-width="0.85"/>
<circle cx="131.26" cy="685.96" r="1.45" fill="#fae2cf" stroke="#e8965a" stroke-width="0.85"/>
<circle cx="133.11" cy="685.39" r="1.45" fill="#fae2cf" stroke="#e8965a" stroke-width="0.85"/>
<circle cx="134.96" cy="684.11" r="1.45" fill="#fae2cf" stroke="#e8965a" stroke-width="0.85"/>
<circle cx="136.82" cy="685.78" r="1.45" fill="#fae2cf" stroke="#e8965a" stroke-width="0.85"/>
<circle cx="138.67" cy="686.68" r="1.45" fill="#fae2cf" stroke="#e8965a" stroke-width="0.85"/>
<circle cx="140.52" cy="686.24" r="1.45" fill="#fae2cf" stroke="#e8965a" stroke-width="0.85"/>
<circle cx="142.37" cy="686.85" r="1.45" fill="#fae2cf" stroke="#e8965a" stroke-width="0.85"/>
<circle cx="144.22" cy="687.39" r="1.45" fill="#fae2cf" stroke="#e8965a" stroke-width="0.85"/>
<circle cx="146.08" cy="688.19" r="1.45" fill="#fae2cf" stroke="#e8965a" stroke-width="0.85"/>
<circle cx="147.93" cy="687.71" r="1.45" fill="#fae2cf" stroke="#e8965a" stroke-width="0.85"/>
<circle cx="149.78" cy="686.9" r="1.45" fill="#fae2cf" stroke="#e8965a" stroke-width="0.85"/>
<circle cx="151.63" cy="687.56" r="1.45" fill="#fae2cf" stroke="#e8965a" stroke-width="0.85"/>
<circle cx="153.48" cy="687.62" r="1.45" fill="#fae2cf" stroke="#e8965a" stroke-width="0.85"/>
<circle cx="155.34" cy="687.46" r="1.45" fill="#fae2cf" stroke="#e8965a" stroke-width="0.85"/>
<circle cx="157.19" cy="687.34" r="1.45" fill="#fae2cf" stroke="#e8965a" stroke-width="0.85"/>
<circle cx="159.04" cy="686.98" r="1.45" fill="#fae2cf" stroke="#e8965a" stroke-width="0.85"/>
<circle cx="160.89" cy="688.55" r="1.45" fill="#fae2cf" stroke="#e8965a" stroke-width="0.85"/>
<circle cx="162.74" cy="688.33" r="1.45" fill="#fae2cf" stroke="#e8965a" stroke-width="0.85"/>
<circle cx="164.6" cy="686.86" r="1.45" fill="#fae2cf" stroke="#e8965a" stroke-width="0.85"/>
<circle cx="166.45" cy="687.01" r="1.45" fill="#fae2cf" stroke="#e8965a" stroke-width="0.85"/>
<circle cx="168.3" cy="688.46" r="1.45" fill="#fae2cf" stroke="#e8965a" stroke-width="0.85"/>
<circle cx="170.15" cy="689.46" r="1.45" fill="#fae2cf" stroke="#e8965a" stroke-width="0.85"/>
<circle cx="172" cy="687.98" r="1.45" fill="#fae2cf" stroke="#e8965a" stroke-width="0.85"/>
<circle cx="173.86" cy="688.58" r="1.45" fill="#fae2cf" stroke="#e8965a" stroke-width="0.85"/>
<circle cx="175.71" cy="688.49" r="1.45" fill="#fae2cf" stroke="#e8965a" stroke-width="0.85"/>
<circle cx="177.56" cy="688.63" r="1.45" fill="#fae2cf" stroke="#e8965a" stroke-width="0.85"/>
<circle cx="179.41" cy="688.12" r="1.45" fill="#fae2cf" stroke="#e8965a" stroke-width="0.85"/>
<circle cx="181.26" cy="688.15" r="1.45" fill="#fae2cf" stroke="#e8965a" stroke-width="0.85"/>
<circle cx="183.12" cy="688.74" r="1.45" fill="#fae2cf" stroke="#e8965a" stroke-width="0.85"/>
<circle cx="184.97" cy="687.49" r="1.45" fill="#fae2cf" stroke="#e8965a" stroke-width="0.85"/>
<circle cx="186.82" cy="687.33" r="1.45" fill="#fae2cf" stroke="#e8965a" stroke-width="0.85"/>
<circle cx="188.67" cy="687.51" r="1.45" fill="#fae2cf" stroke="#e8965a" stroke-width="0.85"/>
<circle cx="190.52" cy="687.04" r="1.45" fill="#fae2cf" stroke="#e8965a" stroke-width="0.85"/>
<circle cx="192.38" cy="685.34" r="1.45" fill="#fae2cf" stroke="#e8965a" stroke-width="0.85"/>
<circle cx="194.23" cy="685.71" r="1.45" fill="#fae2cf" stroke="#e8965a" stroke-width="0.85"/>
<circle cx="196.08" cy="686.39" r="1.45" fill="#fae2cf" stroke="#e8965a" stroke-width="0.85"/>
<circle cx="197.93" cy="687.02" r="1.45" fill="#fae2cf" stroke="#e8965a" stroke-width="0.85"/>
<circle cx="199.78" cy="687.17" r="1.45" fill="#fae2cf" stroke="#e8965a" stroke-width="0.85"/>
<circle cx="201.64" cy="687.45" r="1.45" fill="#fae2cf" stroke="#e8965a" stroke-width="0.85"/>
<circle cx="203.49" cy="687.9" r="1.45" fill="#fae2cf" stroke="#e8965a" stroke-width="0.85"/>
<circle cx="205.34" cy="687.05" r="1.45" fill="#fae2cf" stroke="#e8965a" stroke-width="0.85"/>
<circle cx="207.19" cy="686.49" r="1.45" fill="#fae2cf" stroke="#e8965a" stroke-width="0.85"/>
<circle cx="209.05" cy="687.49" r="1.45" fill="#fae2cf" stroke="#e8965a" stroke-width="0.85"/>
<circle cx="210.9" cy="687.13" r="1.45" fill="#fae2cf" stroke="#e8965a" stroke-width="0.85"/>
<circle cx="212.75" cy="686.38" r="1.45" fill="#fae2cf" stroke="#e8965a" stroke-width="0.85"/>
<circle cx="214.6" cy="687.07" r="1.45" fill="#fae2cf" stroke="#e8965a" stroke-width="0.85"/>
<circle cx="216.45" cy="686.4" r="1.45" fill="#fae2cf" stroke="#e8965a" stroke-width="0.85"/>
<circle cx="218.31" cy="686.4" r="1.45" fill="#fae2cf" stroke="#e8965a" stroke-width="0.85"/>
<circle cx="220.16" cy="687.82" r="1.45" fill="#fae2cf" stroke="#e8965a" stroke-width="0.85"/>
<circle cx="222.01" cy="688.82" r="1.45" fill="#fae2cf" stroke="#e8965a" stroke-width="0.85"/>
<circle cx="223.86" cy="689.13" r="1.45" fill="#fae2cf" stroke="#e8965a" stroke-width="0.85"/>
<circle cx="225.71" cy="689.4" r="1.45" fill="#fae2cf" stroke="#e8965a" stroke-width="0.85"/>
<circle cx="227.57" cy="689.72" r="1.45" fill="#fae2cf" stroke="#e8965a" stroke-width="0.85"/>
<circle cx="229.42" cy="690.66" r="1.45" fill="#fae2cf" stroke="#e8965a" stroke-width="0.85"/>
<circle cx="231.27" cy="690.19" r="1.45" fill="#fae2cf" stroke="#e8965a" stroke-width="0.85"/>
<circle cx="233.12" cy="690.13" r="1.45" fill="#fae2cf" stroke="#e8965a" stroke-width="0.85"/>
<circle cx="234.97" cy="689.56" r="1.45" fill="#fae2cf" stroke="#e8965a" stroke-width="0.85"/>
<circle cx="236.83" cy="691.91" r="1.45" fill="#fae2cf" stroke="#e8965a" stroke-width="0.85"/>
<circle cx="238.68" cy="691.77" r="1.45" fill="#fae2cf" stroke="#e8965a" stroke-width="0.85"/>
<circle cx="240.53" cy="690.21" r="1.45" fill="#fae2cf" stroke="#e8965a" stroke-width="0.85"/>
<circle cx="242.38" cy="689.85" r="1.45" fill="#fae2cf" stroke="#e8965a" stroke-width="0.85"/>
<circle cx="244.23" cy="688.18" r="1.45" fill="#fae2cf" stroke="#e8965a" stroke-width="0.85"/>
<circle cx="246.09" cy="687.65" r="1.45" fill="#fae2cf" stroke="#e8965a" stroke-width="0.85"/>
<circle cx="247.94" cy="688.87" r="1.45" fill="#fae2cf" stroke="#e8965a" stroke-width="0.85"/>
<circle cx="249.79" cy="687.59" r="1.45" fill="#fae2cf" stroke="#e8965a" stroke-width="0.85"/>
<circle cx="251.64" cy="687.69" r="1.45" fill="#fae2cf" stroke="#e8965a" stroke-width="0.85"/>
<circle cx="253.49" cy="688.26" r="1.45" fill="#fae2cf" stroke="#e8965a" stroke-width="0.85"/>
<circle cx="255.35" cy="687.22" r="1.45" fill="#fae2cf" stroke="#e8965a" stroke-width="0.85"/>
<circle cx="257.2" cy="687.62" r="1.45" fill="#fae2cf" stroke="#e8965a" stroke-width="0.85"/>
<circle cx="259.05" cy="688.47" r="1.45" fill="#fae2cf" stroke="#e8965a" stroke-width="0.85"/>
<circle cx="260.9" cy="688.53" r="1.45" fill="#fae2cf" stroke="#e8965a" stroke-width="0.85"/>
<circle cx="262.75" cy="689.48" r="1.45" fill="#fae2cf" stroke="#e8965a" stroke-width="0.85"/>
<circle cx="264.61" cy="688.51" r="1.45" fill="#fae2cf" stroke="#e8965a" stroke-width="0.85"/>
<circle cx="266.46" cy="688.14" r="1.45" fill="#fae2cf" stroke="#e8965a" stroke-width="0.85"/>
<circle cx="268.31" cy="686.92" r="1.45" fill="#fae2cf" stroke="#e8965a" stroke-width="0.85"/>
<circle cx="270.16" cy="687.38" r="1.45" fill="#fae2cf" stroke="#e8965a" stroke-width="0.85"/>
<circle cx="272.01" cy="686.86" r="1.45" fill="#fae2cf" stroke="#e8965a" stroke-width="0.85"/>
<circle cx="273.87" cy="687.1" r="1.45" fill="#fae2cf" stroke="#e8965a" stroke-width="0.85"/>
<circle cx="275.72" cy="686.8" r="1.45" fill="#fae2cf" stroke="#e8965a" stroke-width="0.85"/>
<circle cx="277.57" cy="688.25" r="1.45" fill="#fae2cf" stroke="#e8965a" stroke-width="0.85"/>
<circle cx="279.42" cy="688.38" r="1.45" fill="#fae2cf" stroke="#e8965a" stroke-width="0.85"/>
<circle cx="281.28" cy="689.21" r="1.45" fill="#fae2cf" stroke="#e8965a" stroke-width="0.85"/>
<circle cx="283.13" cy="688" r="1.45" fill="#fae2cf" stroke="#e8965a" stroke-width="0.85"/>
<circle cx="284.98" cy="689.3" r="1.45" fill="#fae2cf" stroke="#e8965a" stroke-width="0.85"/>
<circle cx="286.83" cy="689.63" r="1.45" fill="#fae2cf" stroke="#e8965a" stroke-width="0.85"/>
<circle cx="288.68" cy="690.11" r="1.45" fill="#fae2cf" stroke="#e8965a" stroke-width="0.85"/>
<circle cx="290.54" cy="690.05" r="1.45" fill="#fae2cf" stroke="#e8965a" stroke-width="0.85"/>
<circle cx="292.39" cy="691.07" r="1.45" fill="#fae2cf" stroke="#e8965a" stroke-width="0.85"/>
<circle cx="294.24" cy="691.78" r="1.45" fill="#fae2cf" stroke="#e8965a" stroke-width="0.85"/>
<circle cx="296.09" cy="691.26" r="1.45" fill="#fae2cf" stroke="#e8965a" stroke-width="0.85"/>
<circle cx="297.94" cy="689.58" r="1.45" fill="#fae2cf" stroke="#e8965a" stroke-width="0.85"/>
<circle cx="299.8" cy="690.42" r="1.45" fill="#fae2cf" stroke="#e8965a" stroke-width="0.85"/>
<circle cx="301.65" cy="689.15" r="1.45" fill="#fae2cf" stroke="#e8965a" stroke-width="0.85"/>
<circle cx="303.5" cy="687.99" r="1.45" fill="#fae2cf" stroke="#e8965a" stroke-width="0.85"/>
<circle cx="305.35" cy="688.72" r="1.45" fill="#fae2cf" stroke="#e8965a" stroke-width="0.85"/>
<circle cx="307.2" cy="689.71" r="1.45" fill="#fae2cf" stroke="#e8965a" stroke-width="0.85"/>
<circle cx="309.06" cy="689.26" r="1.45" fill="#fae2cf" stroke="#e8965a" stroke-width="0.85"/>
<circle cx="310.91" cy="689.7" r="1.45" fill="#fae2cf" stroke="#e8965a" stroke-width="0.85"/>
<circle cx="312.76" cy="687.39" r="1.45" fill="#fae2cf" stroke="#e8965a" stroke-width="0.85"/>
<circle cx="314.61" cy="686.66" r="1.45" fill="#fae2cf" stroke="#e8965a" stroke-width="0.85"/>
<circle cx="316.46" cy="686.95" r="1.45" fill="#fae2cf" stroke="#e8965a" stroke-width="0.85"/>
<circle cx="318.32" cy="688.12" r="1.45" fill="#fae2cf" stroke="#e8965a" stroke-width="0.85"/>
<circle cx="320.17" cy="688.64" r="1.45" fill="#fae2cf" stroke="#e8965a" stroke-width="0.85"/>
<circle cx="322.02" cy="688.74" r="1.45" fill="#fae2cf" stroke="#e8965a" stroke-width="0.85"/>
<circle cx="323.87" cy="689.08" r="1.45" fill="#fae2cf" stroke="#e8965a" stroke-width="0.85"/>
<circle cx="325.72" cy="689.79" r="1.45" fill="#fae2cf" stroke="#e8965a" stroke-width="0.85"/>
<circle cx="33.1" cy="686.86" r="1.45" fill="#d6f0fd" stroke="#5cc0f5" stroke-width="0.85"/>
<circle cx="34.64" cy="686.4" r="1.45" fill="#d6f0fd" stroke="#5cc0f5" stroke-width="0.85"/>
<circle cx="36.19" cy="686.22" r="1.45" fill="#d6f0fd" stroke="#5cc0f5" stroke-width="0.85"/>
<circle cx="37.73" cy="688.9" r="1.45" fill="#d6f0fd" stroke="#5cc0f5" stroke-width="0.85"/>
<circle cx="39.27" cy="689.8" r="1.45" fill="#d6f0fd" stroke="#5cc0f5" stroke-width="0.85"/>
<circle cx="40.82" cy="690.07" r="1.45" fill="#d6f0fd" stroke="#5cc0f5" stroke-width="0.85"/>
<circle cx="42.36" cy="691.01" r="1.45" fill="#d6f0fd" stroke="#5cc0f5" stroke-width="0.85"/>
<circle cx="43.9" cy="691.28" r="1.45" fill="#d6f0fd" stroke="#5cc0f5" stroke-width="0.85"/>
<circle cx="45.45" cy="691.41" r="1.45" fill="#d6f0fd" stroke="#5cc0f5" stroke-width="0.85"/>
<circle cx="46.99" cy="692.76" r="1.45" fill="#d6f0fd" stroke="#5cc0f5" stroke-width="0.85"/>
<circle cx="48.53" cy="693.36" r="1.45" fill="#d6f0fd" stroke="#5cc0f5" stroke-width="0.85"/>
<circle cx="50.08" cy="694.16" r="1.45" fill="#d6f0fd" stroke="#5cc0f5" stroke-width="0.85"/>
<circle cx="51.62" cy="694.67" r="1.45" fill="#d6f0fd" stroke="#5cc0f5" stroke-width="0.85"/>
<circle cx="53.16" cy="694.41" r="1.45" fill="#d6f0fd" stroke="#5cc0f5" stroke-width="0.85"/>
<circle cx="54.71" cy="694.53" r="1.45" fill="#d6f0fd" stroke="#5cc0f5" stroke-width="0.85"/>
<circle cx="56.25" cy="695.4" r="1.45" fill="#d6f0fd" stroke="#5cc0f5" stroke-width="0.85"/>
<circle cx="57.79" cy="695.66" r="1.45" fill="#d6f0fd" stroke="#5cc0f5" stroke-width="0.85"/>
<circle cx="59.34" cy="695.94" r="1.45" fill="#d6f0fd" stroke="#5cc0f5" stroke-width="0.85"/>
<circle cx="60.88" cy="695.84" r="1.45" fill="#d6f0fd" stroke="#5cc0f5" stroke-width="0.85"/>
<circle cx="62.42" cy="696.05" r="1.45" fill="#d6f0fd" stroke="#5cc0f5" stroke-width="0.85"/>
<circle cx="63.97" cy="695.92" r="1.45" fill="#d6f0fd" stroke="#5cc0f5" stroke-width="0.85"/>
<circle cx="65.51" cy="696.43" r="1.45" fill="#d6f0fd" stroke="#5cc0f5" stroke-width="0.85"/>
<circle cx="67.05" cy="697.16" r="1.45" fill="#d6f0fd" stroke="#5cc0f5" stroke-width="0.85"/>
<circle cx="68.6" cy="698.1" r="1.45" fill="#d6f0fd" stroke="#5cc0f5" stroke-width="0.85"/>
<circle cx="70.14" cy="699" r="1.45" fill="#d6f0fd" stroke="#5cc0f5" stroke-width="0.85"/>
<circle cx="71.68" cy="699.79" r="1.45" fill="#d6f0fd" stroke="#5cc0f5" stroke-width="0.85"/>
<circle cx="73.23" cy="700.68" r="1.45" fill="#d6f0fd" stroke="#5cc0f5" stroke-width="0.85"/>
<circle cx="74.77" cy="702.45" r="1.45" fill="#d6f0fd" stroke="#5cc0f5" stroke-width="0.85"/>
<circle cx="76.31" cy="701.77" r="1.45" fill="#d6f0fd" stroke="#5cc0f5" stroke-width="0.85"/>
<circle cx="77.86" cy="702.88" r="1.45" fill="#d6f0fd" stroke="#5cc0f5" stroke-width="0.85"/>
<circle cx="79.4" cy="704.22" r="1.45" fill="#d6f0fd" stroke="#5cc0f5" stroke-width="0.85"/>
<circle cx="80.94" cy="704.34" r="1.45" fill="#d6f0fd" stroke="#5cc0f5" stroke-width="0.85"/>
<circle cx="82.49" cy="704.77" r="1.45" fill="#d6f0fd" stroke="#5cc0f5" stroke-width="0.85"/>
<circle cx="84.03" cy="705.38" r="1.45" fill="#d6f0fd" stroke="#5cc0f5" stroke-width="0.85"/>
<circle cx="85.57" cy="706.41" r="1.45" fill="#d6f0fd" stroke="#5cc0f5" stroke-width="0.85"/>
<circle cx="87.12" cy="708.31" r="1.45" fill="#d6f0fd" stroke="#5cc0f5" stroke-width="0.85"/>
<circle cx="88.66" cy="708.86" r="1.45" fill="#d6f0fd" stroke="#5cc0f5" stroke-width="0.85"/>
<circle cx="90.2" cy="709.85" r="1.45" fill="#d6f0fd" stroke="#5cc0f5" stroke-width="0.85"/>
<circle cx="91.75" cy="711.11" r="1.45" fill="#d6f0fd" stroke="#5cc0f5" stroke-width="0.85"/>
<circle cx="93.29" cy="711.38" r="1.45" fill="#d6f0fd" stroke="#5cc0f5" stroke-width="0.85"/>
<circle cx="94.84" cy="712.13" r="1.45" fill="#d6f0fd" stroke="#5cc0f5" stroke-width="0.85"/>
<circle cx="96.38" cy="713.39" r="1.45" fill="#d6f0fd" stroke="#5cc0f5" stroke-width="0.85"/>
<circle cx="97.92" cy="713.39" r="1.45" fill="#d6f0fd" stroke="#5cc0f5" stroke-width="0.85"/>
<circle cx="99.47" cy="714.02" r="1.45" fill="#d6f0fd" stroke="#5cc0f5" stroke-width="0.85"/>
<circle cx="101.01" cy="714.48" r="1.45" fill="#d6f0fd" stroke="#5cc0f5" stroke-width="0.85"/>
<circle cx="102.55" cy="714.33" r="1.45" fill="#d6f0fd" stroke="#5cc0f5" stroke-width="0.85"/>
<circle cx="104.1" cy="715.01" r="1.45" fill="#d6f0fd" stroke="#5cc0f5" stroke-width="0.85"/>
<circle cx="105.64" cy="714.79" r="1.45" fill="#d6f0fd" stroke="#5cc0f5" stroke-width="0.85"/>
<circle cx="107.18" cy="714.82" r="1.45" fill="#d6f0fd" stroke="#5cc0f5" stroke-width="0.85"/>
<circle cx="108.73" cy="714.64" r="1.45" fill="#d6f0fd" stroke="#5cc0f5" stroke-width="0.85"/>
<circle cx="110.27" cy="714.39" r="1.45" fill="#d6f0fd" stroke="#5cc0f5" stroke-width="0.85"/>
<circle cx="111.81" cy="713.96" r="1.45" fill="#d6f0fd" stroke="#5cc0f5" stroke-width="0.85"/>
<circle cx="113.36" cy="714.23" r="1.45" fill="#d6f0fd" stroke="#5cc0f5" stroke-width="0.85"/>
<circle cx="114.9" cy="715.79" r="1.45" fill="#d6f0fd" stroke="#5cc0f5" stroke-width="0.85"/>
<circle cx="116.44" cy="716.38" r="1.45" fill="#d6f0fd" stroke="#5cc0f5" stroke-width="0.85"/>
<circle cx="117.99" cy="717.73" r="1.45" fill="#d6f0fd" stroke="#5cc0f5" stroke-width="0.85"/>
<circle cx="119.53" cy="719.18" r="1.45" fill="#d6f0fd" stroke="#5cc0f5" stroke-width="0.85"/>
<circle cx="121.07" cy="719.72" r="1.45" fill="#d6f0fd" stroke="#5cc0f5" stroke-width="0.85"/>
<circle cx="48.2" cy="746" r="2.8" fill="#e8965a"/><circle cx="47.6" cy="745.4" r="1" fill="#f7d9c2"/>
<circle cx="48.2" cy="758.4" r="2.8" fill="#5cc0f5"/><circle cx="47.6" cy="757.8" r="1" fill="#cdeefd"/>
<text x="62.2" y="750" font-size="9.8" text-anchor="start" fill="#111">with TPTA</text>
<text x="62.2" y="762.2" font-size="9.8" text-anchor="start" fill="#111">Control</text>
<text x="42.9" y="728.2" font-size="10.5" fill="#5cc0f5">T<tspan font-size="7" dy="2.5">290</tspan><tspan dy="-2.5">=61.3%</tspan></text>
<text x="259.4" y="702.6" font-size="10.2" fill="#e8965a">T<tspan font-size="6.8" dy="2.3">950</tspan><tspan dy="-2.3">=94.9%</tspan></text>
<rect x="33.1" y="666.8" width="294.6" height="113" fill="none" stroke="#000" stroke-width="1.6"/>
<line x1="30.4" y1="779.8" x2="33.1" y2="779.8" stroke="#000" stroke-width="1.2"/>
<text x="28.9" y="783.3" font-size="10.3" text-anchor="end" fill="#222">0.0</text>
<line x1="30.4" y1="760.97" x2="33.1" y2="760.97" stroke="#000" stroke-width="1.2"/>
<text x="28.9" y="764.47" font-size="10.3" text-anchor="end" fill="#222">0.2</text>
<line x1="30.4" y1="742.13" x2="33.1" y2="742.13" stroke="#000" stroke-width="1.2"/>
<text x="28.9" y="745.63" font-size="10.3" text-anchor="end" fill="#222">0.4</text>
<line x1="30.4" y1="723.3" x2="33.1" y2="723.3" stroke="#000" stroke-width="1.2"/>
<text x="28.9" y="726.8" font-size="10.3" text-anchor="end" fill="#222">0.6</text>
<line x1="30.4" y1="704.47" x2="33.1" y2="704.47" stroke="#000" stroke-width="1.2"/>
<text x="28.9" y="707.97" font-size="10.3" text-anchor="end" fill="#222">0.8</text>
<line x1="30.4" y1="685.63" x2="33.1" y2="685.63" stroke="#000" stroke-width="1.2"/>
<text x="28.9" y="689.13" font-size="10.3" text-anchor="end" fill="#222">1.0</text>
<line x1="30.4" y1="666.8" x2="33.1" y2="666.8" stroke="#000" stroke-width="1.2"/>
<text x="28.9" y="670.3" font-size="10.3" text-anchor="end" fill="#222">1.2</text>
<line x1="31.2" y1="770.38" x2="33.1" y2="770.38" stroke="#000" stroke-width="0.9"/>
<line x1="31.2" y1="751.55" x2="33.1" y2="751.55" stroke="#000" stroke-width="0.9"/>
<line x1="31.2" y1="732.72" x2="33.1" y2="732.72" stroke="#000" stroke-width="0.9"/>
<line x1="31.2" y1="713.88" x2="33.1" y2="713.88" stroke="#000" stroke-width="0.9"/>
<line x1="31.2" y1="695.05" x2="33.1" y2="695.05" stroke="#000" stroke-width="0.9"/>
<line x1="31.2" y1="676.22" x2="33.1" y2="676.22" stroke="#000" stroke-width="0.9"/>
<line x1="33.1" y1="779.8" x2="33.1" y2="782.5" stroke="#000" stroke-width="1.2"/>
<text x="33.1" y="792.3" font-size="10.3" text-anchor="middle" fill="#222">0</text>
<line x1="79.4" y1="779.8" x2="79.4" y2="782.5" stroke="#000" stroke-width="1.2"/>
<text x="79.4" y="792.3" font-size="10.3" text-anchor="middle" fill="#222">150</text>
<line x1="125.7" y1="779.8" x2="125.7" y2="782.5" stroke="#000" stroke-width="1.2"/>
<text x="125.7" y="792.3" font-size="10.3" text-anchor="middle" fill="#222">300</text>
<line x1="172" y1="779.8" x2="172" y2="782.5" stroke="#000" stroke-width="1.2"/>
<text x="172" y="792.3" font-size="10.3" text-anchor="middle" fill="#222">450</text>
<line x1="218.31" y1="779.8" x2="218.31" y2="782.5" stroke="#000" stroke-width="1.2"/>
<text x="218.31" y="792.3" font-size="10.3" text-anchor="middle" fill="#222">600</text>
<line x1="264.61" y1="779.8" x2="264.61" y2="782.5" stroke="#000" stroke-width="1.2"/>
<text x="264.61" y="792.3" font-size="10.3" text-anchor="middle" fill="#222">750</text>
<line x1="310.91" y1="779.8" x2="310.91" y2="782.5" stroke="#000" stroke-width="1.2"/>
<text x="310.91" y="792.3" font-size="10.3" text-anchor="middle" fill="#222">900</text>
<line x1="56.25" y1="779.8" x2="56.25" y2="781.7" stroke="#000" stroke-width="0.9"/>
<line x1="102.55" y1="779.8" x2="102.55" y2="781.7" stroke="#000" stroke-width="0.9"/>
<line x1="148.85" y1="779.8" x2="148.85" y2="781.7" stroke="#000" stroke-width="0.9"/>
<line x1="195.15" y1="779.8" x2="195.15" y2="781.7" stroke="#000" stroke-width="0.9"/>
<line x1="241.46" y1="779.8" x2="241.46" y2="781.7" stroke="#000" stroke-width="0.9"/>
<line x1="287.76" y1="779.8" x2="287.76" y2="781.7" stroke="#000" stroke-width="0.9"/>
<text x="180.6" y="810.3" font-size="12.7" text-anchor="middle" fill="#111">Time(h)</text>
<text x="10.7" y="722.4" font-size="13.2" text-anchor="middle" fill="#111" transform="rotate(-90 10.7 722.4)">Normalized PCE(%)</text>
<text x="0.6" y="664" font-size="12.8" text-anchor="start" fill="#000" font-weight="bold">(k)</text>
<polyline points="363.5,685.47 369.29,685.47 375.17,684.91 378.71,683.23 382.14,681.83 385.67,682.57 390.38,684.25 395,687.24 399.71,686.77 405.6,687.24 410.21,686.77 416.1,687.8 420.71,687.8 425.42,688.45 430.13,687.8 434.74,688.45 442.89,689.57 452.31,688.83 461.63,689.11 471.05,691.91 480.37,691.91 490.38,691.44 499.71,690.79 509.13,692.37 520.12,692.37 531.11,693.03 542.1,693.03 553.09,693.31 564.08,693.59 575.86,693.59 587.63,693.68 598.62,693.87 608.04,694.05 619.04,694.33 628.46,694.33 642.49,694.61 657.7,694.61" fill="none" stroke="#e8965a" stroke-width="1.5" stroke-linejoin="round" stroke-linecap="round"/>
<circle cx="363.5" cy="685.47" r="1.3" fill="#fff" stroke="#e8965a" stroke-width="0.7"/>
<circle cx="369.29" cy="685.47" r="1.3" fill="#fff" stroke="#e8965a" stroke-width="0.7"/>
<circle cx="375.17" cy="684.91" r="1.3" fill="#fff" stroke="#e8965a" stroke-width="0.7"/>
<circle cx="378.71" cy="683.23" r="1.3" fill="#fff" stroke="#e8965a" stroke-width="0.7"/>
<circle cx="382.14" cy="681.83" r="1.3" fill="#fff" stroke="#e8965a" stroke-width="0.7"/>
<circle cx="385.67" cy="682.57" r="1.3" fill="#fff" stroke="#e8965a" stroke-width="0.7"/>
<circle cx="390.38" cy="684.25" r="1.3" fill="#fff" stroke="#e8965a" stroke-width="0.7"/>
<circle cx="395" cy="687.24" r="1.3" fill="#fff" stroke="#e8965a" stroke-width="0.7"/>
<circle cx="399.71" cy="686.77" r="1.3" fill="#fff" stroke="#e8965a" stroke-width="0.7"/>
<circle cx="405.6" cy="687.24" r="1.3" fill="#fff" stroke="#e8965a" stroke-width="0.7"/>
<circle cx="410.21" cy="686.77" r="1.3" fill="#fff" stroke="#e8965a" stroke-width="0.7"/>
<circle cx="416.1" cy="687.8" r="1.3" fill="#fff" stroke="#e8965a" stroke-width="0.7"/>
<circle cx="420.71" cy="687.8" r="1.3" fill="#fff" stroke="#e8965a" stroke-width="0.7"/>
<circle cx="425.42" cy="688.45" r="1.3" fill="#fff" stroke="#e8965a" stroke-width="0.7"/>
<circle cx="430.13" cy="687.8" r="1.3" fill="#fff" stroke="#e8965a" stroke-width="0.7"/>
<circle cx="434.74" cy="688.45" r="1.3" fill="#fff" stroke="#e8965a" stroke-width="0.7"/>
<circle cx="442.89" cy="689.57" r="1.3" fill="#fff" stroke="#e8965a" stroke-width="0.7"/>
<circle cx="452.31" cy="688.83" r="1.3" fill="#fff" stroke="#e8965a" stroke-width="0.7"/>
<circle cx="461.63" cy="689.11" r="1.3" fill="#fff" stroke="#e8965a" stroke-width="0.7"/>
<circle cx="471.05" cy="691.91" r="1.3" fill="#fff" stroke="#e8965a" stroke-width="0.7"/>
<circle cx="480.37" cy="691.91" r="1.3" fill="#fff" stroke="#e8965a" stroke-width="0.7"/>
<circle cx="490.38" cy="691.44" r="1.3" fill="#fff" stroke="#e8965a" stroke-width="0.7"/>
<circle cx="499.71" cy="690.79" r="1.3" fill="#fff" stroke="#e8965a" stroke-width="0.7"/>
<circle cx="509.13" cy="692.37" r="1.3" fill="#fff" stroke="#e8965a" stroke-width="0.7"/>
<circle cx="520.12" cy="692.37" r="1.3" fill="#fff" stroke="#e8965a" stroke-width="0.7"/>
<circle cx="531.11" cy="693.03" r="1.3" fill="#fff" stroke="#e8965a" stroke-width="0.7"/>
<circle cx="542.1" cy="693.03" r="1.3" fill="#fff" stroke="#e8965a" stroke-width="0.7"/>
<circle cx="553.09" cy="693.31" r="1.3" fill="#fff" stroke="#e8965a" stroke-width="0.7"/>
<circle cx="564.08" cy="693.59" r="1.3" fill="#fff" stroke="#e8965a" stroke-width="0.7"/>
<circle cx="575.86" cy="693.59" r="1.3" fill="#fff" stroke="#e8965a" stroke-width="0.7"/>
<circle cx="587.63" cy="693.68" r="1.3" fill="#fff" stroke="#e8965a" stroke-width="0.7"/>
<circle cx="598.62" cy="693.87" r="1.3" fill="#fff" stroke="#e8965a" stroke-width="0.7"/>
<circle cx="608.04" cy="694.05" r="1.3" fill="#fff" stroke="#e8965a" stroke-width="0.7"/>
<circle cx="619.04" cy="694.33" r="1.3" fill="#fff" stroke="#e8965a" stroke-width="0.7"/>
<circle cx="628.46" cy="694.33" r="1.3" fill="#fff" stroke="#e8965a" stroke-width="0.7"/>
<circle cx="642.49" cy="694.61" r="1.3" fill="#fff" stroke="#e8965a" stroke-width="0.7"/>
<circle cx="657.7" cy="694.61" r="1.3" fill="#fff" stroke="#e8965a" stroke-width="0.7"/>
<polyline points="363.5,684.91 368.21,683.69 372.82,684.91 377.53,686.49 382.24,687.89 386.85,689.48 391.46,690.13 396.17,691.16 400.89,692.56 405.6,692.56 410.21,694.15 414.92,694.15 419.63,695.36 424.14,700.03 428.85,703.48 434.64,706.65 442.89,709.45 452.31,710.57 461.53,711.69 470.95,713 480.27,714.87 489.6,715.99 500.2,717.01 509.42,717.67 519.92,718.13" fill="none" stroke="#5cc0f5" stroke-width="1.5" stroke-linejoin="round" stroke-linecap="round"/>
<circle cx="363.5" cy="684.91" r="1.3" fill="#fff" stroke="#5cc0f5" stroke-width="0.7"/>
<circle cx="368.21" cy="683.69" r="1.3" fill="#fff" stroke="#5cc0f5" stroke-width="0.7"/>
<circle cx="372.82" cy="684.91" r="1.3" fill="#fff" stroke="#5cc0f5" stroke-width="0.7"/>
<circle cx="377.53" cy="686.49" r="1.3" fill="#fff" stroke="#5cc0f5" stroke-width="0.7"/>
<circle cx="382.24" cy="687.89" r="1.3" fill="#fff" stroke="#5cc0f5" stroke-width="0.7"/>
<circle cx="386.85" cy="689.48" r="1.3" fill="#fff" stroke="#5cc0f5" stroke-width="0.7"/>
<circle cx="391.46" cy="690.13" r="1.3" fill="#fff" stroke="#5cc0f5" stroke-width="0.7"/>
<circle cx="396.17" cy="691.16" r="1.3" fill="#fff" stroke="#5cc0f5" stroke-width="0.7"/>
<circle cx="400.89" cy="692.56" r="1.3" fill="#fff" stroke="#5cc0f5" stroke-width="0.7"/>
<circle cx="405.6" cy="692.56" r="1.3" fill="#fff" stroke="#5cc0f5" stroke-width="0.7"/>
<circle cx="410.21" cy="694.15" r="1.3" fill="#fff" stroke="#5cc0f5" stroke-width="0.7"/>
<circle cx="414.92" cy="694.15" r="1.3" fill="#fff" stroke="#5cc0f5" stroke-width="0.7"/>
<circle cx="419.63" cy="695.36" r="1.3" fill="#fff" stroke="#5cc0f5" stroke-width="0.7"/>
<circle cx="424.14" cy="700.03" r="1.3" fill="#fff" stroke="#5cc0f5" stroke-width="0.7"/>
<circle cx="428.85" cy="703.48" r="1.3" fill="#fff" stroke="#5cc0f5" stroke-width="0.7"/>
<circle cx="434.64" cy="706.65" r="1.3" fill="#fff" stroke="#5cc0f5" stroke-width="0.7"/>
<circle cx="442.89" cy="709.45" r="1.3" fill="#fff" stroke="#5cc0f5" stroke-width="0.7"/>
<circle cx="452.31" cy="710.57" r="1.3" fill="#fff" stroke="#5cc0f5" stroke-width="0.7"/>
<circle cx="461.53" cy="711.69" r="1.3" fill="#fff" stroke="#5cc0f5" stroke-width="0.7"/>
<circle cx="470.95" cy="713" r="1.3" fill="#fff" stroke="#5cc0f5" stroke-width="0.7"/>
<circle cx="480.27" cy="714.87" r="1.3" fill="#fff" stroke="#5cc0f5" stroke-width="0.7"/>
<circle cx="489.6" cy="715.99" r="1.3" fill="#fff" stroke="#5cc0f5" stroke-width="0.7"/>
<circle cx="500.2" cy="717.01" r="1.3" fill="#fff" stroke="#5cc0f5" stroke-width="0.7"/>
<circle cx="509.42" cy="717.67" r="1.3" fill="#fff" stroke="#5cc0f5" stroke-width="0.7"/>
<circle cx="519.92" cy="718.13" r="1.3" fill="#fff" stroke="#5cc0f5" stroke-width="0.7"/>
<line x1="368.2" y1="722.9" x2="391.6" y2="722.9" stroke="#e8965a" stroke-width="1.6"/>
<circle cx="380" cy="722.9" r="1.3" fill="#fff" stroke="#e8965a" stroke-width="0.7"/>
<line x1="368.2" y1="734.6" x2="391.6" y2="734.6" stroke="#5cc0f5" stroke-width="1.6"/>
<circle cx="380" cy="734.6" r="1.3" fill="#fff" stroke="#5cc0f5" stroke-width="0.7"/>
<text x="393.9" y="726.6" font-size="9.8" text-anchor="start" fill="#111">with TPTA</text>
<text x="393.9" y="738.2" font-size="9.8" text-anchor="start" fill="#111">Control</text>
<text x="619" y="706.6" font-size="9.7" text-anchor="start" fill="#e8965a" font-weight="bold">90.0%</text>
<text x="520.8" y="730.8" font-size="9.7" text-anchor="start" fill="#5cc0f5" font-weight="bold">65.1%</text>
<rect x="363.3" y="666.8" width="294.4" height="112" fill="none" stroke="#000" stroke-width="1.6"/>
<line x1="360.6" y1="778.8" x2="363.3" y2="778.8" stroke="#000" stroke-width="1.2"/>
<text x="358.8" y="782.3" font-size="10.3" text-anchor="end" fill="#222">0.0</text>
<line x1="360.6" y1="760.13" x2="363.3" y2="760.13" stroke="#000" stroke-width="1.2"/>
<text x="358.8" y="763.63" font-size="10.3" text-anchor="end" fill="#222">0.2</text>
<line x1="360.6" y1="741.47" x2="363.3" y2="741.47" stroke="#000" stroke-width="1.2"/>
<text x="358.8" y="744.97" font-size="10.3" text-anchor="end" fill="#222">0.4</text>
<line x1="360.6" y1="722.8" x2="363.3" y2="722.8" stroke="#000" stroke-width="1.2"/>
<text x="358.8" y="726.3" font-size="10.3" text-anchor="end" fill="#222">0.6</text>
<line x1="360.6" y1="704.13" x2="363.3" y2="704.13" stroke="#000" stroke-width="1.2"/>
<text x="358.8" y="707.63" font-size="10.3" text-anchor="end" fill="#222">0.8</text>
<line x1="360.6" y1="685.47" x2="363.3" y2="685.47" stroke="#000" stroke-width="1.2"/>
<text x="358.8" y="688.97" font-size="10.3" text-anchor="end" fill="#222">1.0</text>
<line x1="360.6" y1="666.8" x2="363.3" y2="666.8" stroke="#000" stroke-width="1.2"/>
<text x="358.8" y="670.3" font-size="10.3" text-anchor="end" fill="#222">1.2</text>
<line x1="361.4" y1="769.47" x2="363.3" y2="769.47" stroke="#000" stroke-width="0.9"/>
<line x1="361.4" y1="750.8" x2="363.3" y2="750.8" stroke="#000" stroke-width="0.9"/>
<line x1="361.4" y1="732.13" x2="363.3" y2="732.13" stroke="#000" stroke-width="0.9"/>
<line x1="361.4" y1="713.47" x2="363.3" y2="713.47" stroke="#000" stroke-width="0.9"/>
<line x1="361.4" y1="694.8" x2="363.3" y2="694.8" stroke="#000" stroke-width="0.9"/>
<line x1="361.4" y1="676.13" x2="363.3" y2="676.13" stroke="#000" stroke-width="0.9"/>
<line x1="363.3" y1="778.8" x2="363.3" y2="781.5" stroke="#000" stroke-width="1.2"/>
<text x="363.3" y="793.8" font-size="12.6" text-anchor="middle" fill="#222">0</text>
<line x1="422.18" y1="778.8" x2="422.18" y2="781.5" stroke="#000" stroke-width="1.2"/>
<text x="422.18" y="793.8" font-size="12.6" text-anchor="middle" fill="#222">600</text>
<line x1="481.06" y1="778.8" x2="481.06" y2="781.5" stroke="#000" stroke-width="1.2"/>
<text x="481.06" y="793.8" font-size="12.6" text-anchor="middle" fill="#222">1200</text>
<line x1="539.94" y1="778.8" x2="539.94" y2="781.5" stroke="#000" stroke-width="1.2"/>
<text x="539.94" y="793.8" font-size="12.6" text-anchor="middle" fill="#222">1800</text>
<line x1="598.82" y1="778.8" x2="598.82" y2="781.5" stroke="#000" stroke-width="1.2"/>
<text x="598.82" y="793.8" font-size="12.6" text-anchor="middle" fill="#222">2400</text>
<line x1="657.7" y1="778.8" x2="657.7" y2="781.5" stroke="#000" stroke-width="1.2"/>
<text x="657.7" y="793.8" font-size="12.6" text-anchor="middle" fill="#222">3000</text>
<line x1="392.74" y1="778.8" x2="392.74" y2="780.7" stroke="#000" stroke-width="0.9"/>
<line x1="451.62" y1="778.8" x2="451.62" y2="780.7" stroke="#000" stroke-width="0.9"/>
<line x1="510.5" y1="778.8" x2="510.5" y2="780.7" stroke="#000" stroke-width="0.9"/>
<line x1="569.38" y1="778.8" x2="569.38" y2="780.7" stroke="#000" stroke-width="0.9"/>
<line x1="628.26" y1="778.8" x2="628.26" y2="780.7" stroke="#000" stroke-width="0.9"/>
<text x="510.8" y="814.3" font-size="12.5" text-anchor="middle" fill="#111">Time(h)</text>
<text x="341.7" y="722.4" font-size="13.2" text-anchor="middle" fill="#111" transform="rotate(-90 341.7 722.4)">Normalized PCE(%)</text>
<text x="332.8" y="663.4" font-size="12.5" text-anchor="start" fill="#000" font-weight="bold" letter-spacing="0.5">(l)</text>
</svg></body></html>
